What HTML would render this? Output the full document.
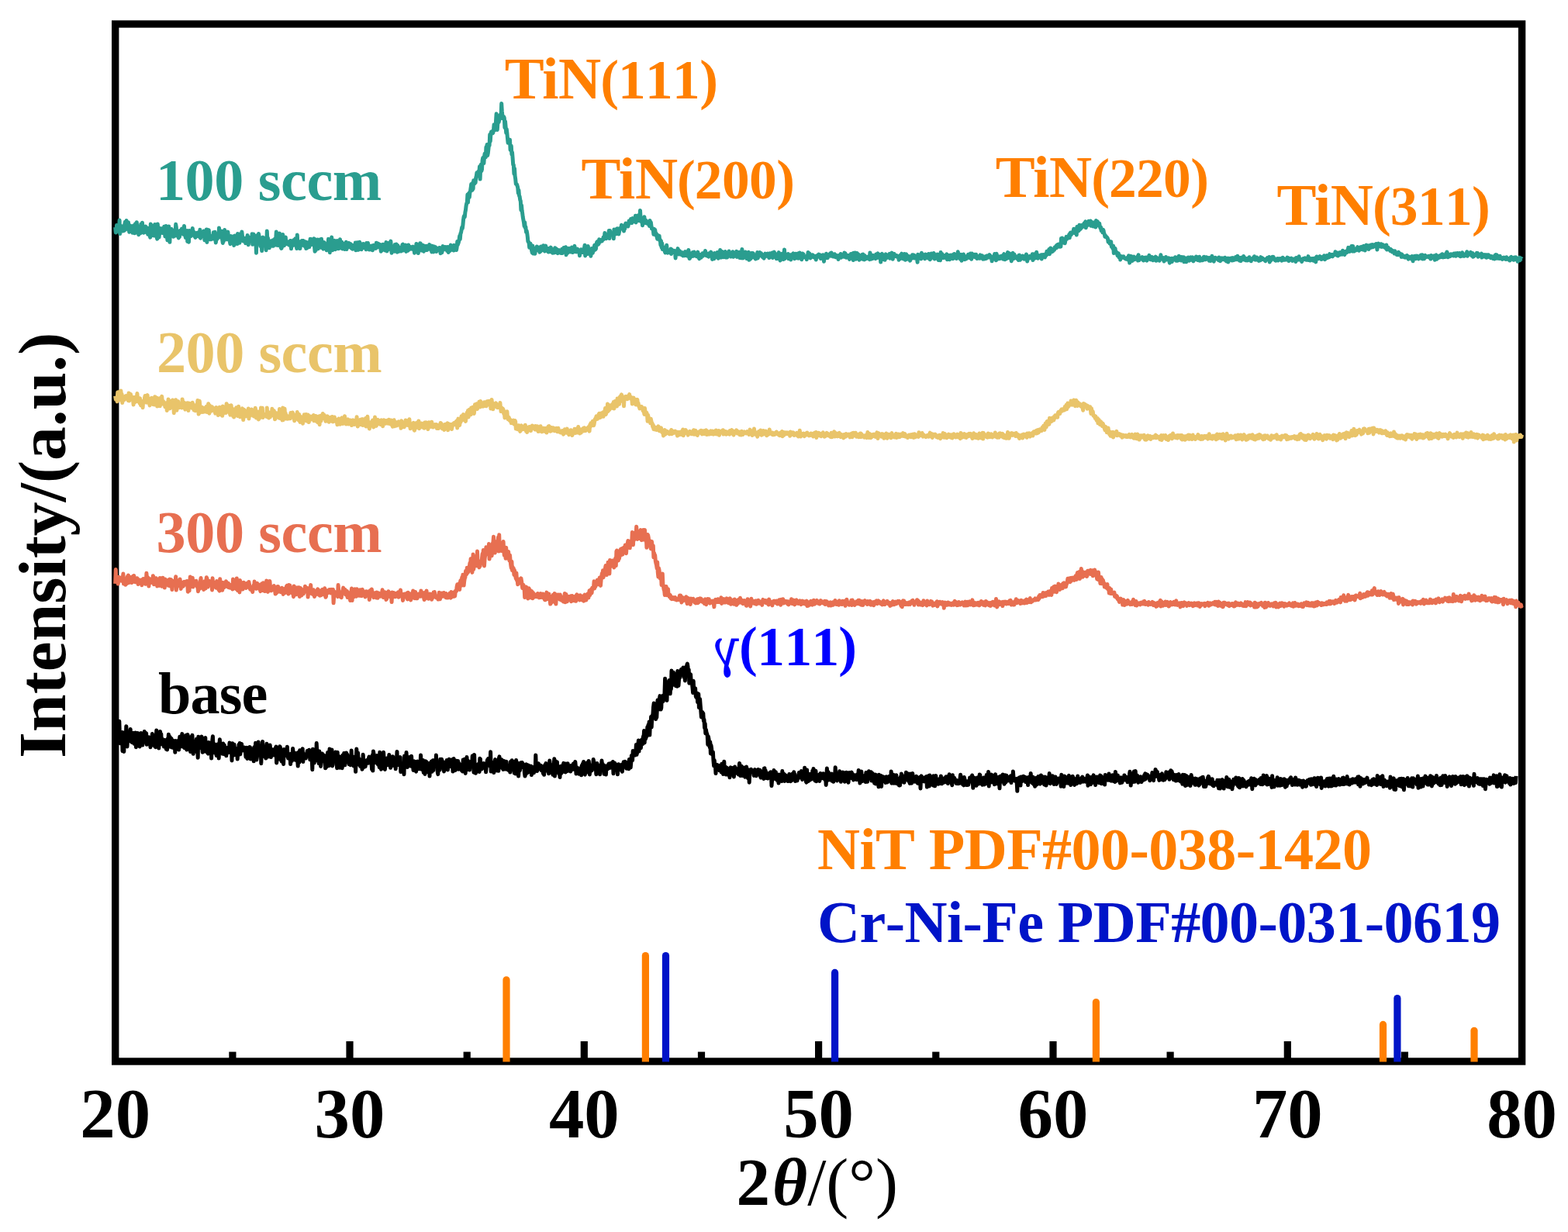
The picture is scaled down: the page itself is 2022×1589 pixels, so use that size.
<!DOCTYPE html><html><head><meta charset="utf-8"><style>html,body{margin:0;padding:0;background:#fff;overflow:hidden}svg{display:block}</style></head><body><svg width="2022" height="1589" viewBox="0 0 2022 1589">
<rect width="2022" height="1589" fill="#fff"/>
<rect x="148.7" y="31.0" width="1813.9" height="1338.0" fill="none" stroke="#000" stroke-width="9.4"/>
<line x1="299.9" y1="1369" x2="299.9" y2="1356.6" stroke="#000" stroke-width="9.2"/>
<line x1="451.0" y1="1369" x2="451.0" y2="1343.0" stroke="#000" stroke-width="9.2"/>
<line x1="602.2" y1="1369" x2="602.2" y2="1356.6" stroke="#000" stroke-width="9.2"/>
<line x1="753.3" y1="1369" x2="753.3" y2="1343.0" stroke="#000" stroke-width="9.2"/>
<line x1="904.5" y1="1369" x2="904.5" y2="1356.6" stroke="#000" stroke-width="9.2"/>
<line x1="1055.6" y1="1369" x2="1055.6" y2="1343.0" stroke="#000" stroke-width="9.2"/>
<line x1="1206.8" y1="1369" x2="1206.8" y2="1356.6" stroke="#000" stroke-width="9.2"/>
<line x1="1358.0" y1="1369" x2="1358.0" y2="1343.0" stroke="#000" stroke-width="9.2"/>
<line x1="1509.1" y1="1369" x2="1509.1" y2="1356.6" stroke="#000" stroke-width="9.2"/>
<line x1="1660.3" y1="1369" x2="1660.3" y2="1343.0" stroke="#000" stroke-width="9.2"/>
<line x1="1811.4" y1="1369" x2="1811.4" y2="1356.6" stroke="#000" stroke-width="9.2"/>
<path d="M148.7 293.1L149.3 299.9L149.9 299.3L150.5 290.5L151.1 291.7L151.7 290.6L152.3 296.2L152.9 293.1L153.5 297.2L154.1 284.1L154.7 301.5L155.3 293.1L155.9 297.1L156.5 293.0L157.1 291.8L157.7 296.1L158.3 298.0L158.9 292.9L159.5 293.2L160.1 297.5L160.7 289.7L161.3 286.4L161.9 296.2L162.5 290.8L163.1 284.5L163.7 290.2L164.3 292.0L164.9 288.4L165.5 286.9L166.1 294.7L166.7 299.2L167.3 293.5L167.9 290.9L168.5 296.7L169.1 298.5L169.7 293.4L170.3 297.7L170.9 300.3L171.5 294.0L172.1 291.0L172.7 296.9L173.3 296.5L173.9 300.8L174.5 288.8L175.1 292.0L175.7 291.2L176.3 286.7L176.9 296.2L177.5 298.3L178.1 291.9L178.7 302.7L179.3 299.9L179.9 299.0L180.5 297.9L181.1 300.8L181.7 289.2L182.3 299.1L182.9 299.1L183.5 287.2L184.1 297.9L184.7 295.0L185.3 300.3L185.9 294.1L186.5 296.3L187.1 298.2L187.7 292.1L188.3 299.6L188.9 296.1L189.5 299.2L190.1 294.1L190.7 302.3L191.3 299.9L191.9 296.0L192.5 300.1L193.1 303.4L193.7 306.1L194.3 289.1L194.9 301.6L195.5 299.6L196.1 296.8L196.7 292.2L197.3 303.7L197.9 291.0L198.5 300.4L199.1 304.1L199.7 289.5L200.3 296.1L200.9 291.1L201.5 299.0L202.1 305.5L202.7 308.1L203.3 288.9L203.9 295.1L204.5 301.6L205.1 306.1L205.7 300.3L206.3 294.4L206.9 299.7L207.5 298.2L208.1 297.3L208.7 294.7L209.3 300.4L209.9 300.1L210.5 298.1L211.1 297.5L211.7 292.2L212.3 296.3L212.9 304.9L213.5 297.9L214.1 291.6L214.7 305.7L215.3 301.7L215.9 309.7L216.5 299.4L217.1 296.8L217.7 291.9L218.3 305.9L218.9 312.3L219.5 295.2L220.1 296.2L220.7 302.5L221.3 295.4L221.9 298.2L222.5 297.9L223.1 300.7L223.7 305.3L224.3 299.9L224.9 304.5L225.5 297.8L226.1 301.6L226.7 289.3L227.3 292.8L227.9 304.1L228.5 297.2L229.1 303.1L229.7 303.0L230.3 307.0L230.9 304.5L231.5 305.5L232.1 299.9L232.7 297.1L233.3 297.0L233.9 298.2L234.5 295.1L235.1 298.0L235.7 300.4L236.3 302.1L236.9 299.2L237.5 291.4L238.1 300.7L238.7 302.2L239.3 306.5L239.9 304.1L240.5 298.1L241.1 297.7L241.7 311.4L242.3 305.2L242.9 310.6L243.5 312.1L244.1 297.5L244.7 303.5L245.3 304.0L245.9 304.5L246.5 304.5L247.1 302.8L247.7 302.8L248.3 294.5L248.9 301.2L249.5 298.4L250.1 302.7L250.7 299.9L251.3 305.3L251.9 306.3L252.5 303.9L253.1 303.9L253.7 302.9L254.3 300.3L254.9 301.7L255.5 300.2L256.1 304.6L256.7 302.8L257.3 305.6L257.9 296.3L258.5 307.2L259.1 299.2L259.7 299.4L260.3 302.1L260.9 300.3L261.5 304.6L262.1 300.4L262.7 298.0L263.3 299.2L263.9 309.8L264.5 303.6L265.1 297.7L265.7 303.6L266.3 296.0L266.9 312.4L267.5 296.2L268.1 306.1L268.7 306.4L269.3 296.8L269.9 305.4L270.5 308.8L271.1 306.3L271.7 305.3L272.3 308.7L272.9 305.0L273.5 305.9L274.1 303.7L274.7 307.4L275.3 299.8L275.9 308.3L276.5 302.1L277.1 299.3L277.7 306.4L278.3 312.9L278.9 309.4L279.5 302.3L280.1 308.2L280.7 302.7L281.3 304.4L281.9 305.5L282.5 293.9L283.1 306.1L283.7 300.2L284.3 301.9L284.9 298.2L285.5 298.1L286.1 300.9L286.7 309.5L287.3 313.5L287.9 305.5L288.5 310.9L289.1 304.4L289.7 296.6L290.3 306.5L290.9 308.0L291.5 303.9L292.1 307.4L292.7 308.8L293.3 302.0L293.9 299.1L294.5 305.2L295.1 305.3L295.7 304.7L296.3 311.1L296.9 314.7L297.5 304.5L298.1 309.9L298.7 311.1L299.3 310.1L299.9 311.7L300.5 305.0L301.1 310.4L301.7 316.5L302.3 310.8L302.9 304.1L303.5 310.0L304.1 313.1L304.7 308.9L305.3 304.6L305.9 314.6L306.5 301.5L307.1 309.8L307.7 307.4L308.3 301.9L308.9 313.3L309.5 309.3L310.1 302.2L310.7 310.6L311.3 305.8L311.9 298.9L312.5 304.7L313.1 309.2L313.7 311.0L314.3 308.9L314.9 308.4L315.5 310.4L316.1 307.3L316.7 313.8L317.3 309.1L317.9 309.8L318.5 311.0L319.1 303.6L319.7 305.3L320.3 315.8L320.9 310.3L321.5 307.5L322.1 310.4L322.7 306.6L323.3 310.2L323.9 305.9L324.5 310.3L325.1 301.8L325.7 315.3L326.3 306.8L326.9 301.9L327.5 308.3L328.1 307.7L328.7 310.1L329.3 304.2L329.9 311.4L330.5 326.3L331.1 303.7L331.7 311.2L332.3 308.3L332.9 310.7L333.5 301.5L334.1 304.6L334.7 312.1L335.3 309.8L335.9 317.6L336.5 306.9L337.1 311.0L337.7 323.6L338.3 306.7L338.9 306.2L339.5 310.2L340.1 310.2L340.7 314.3L341.3 311.1L341.9 307.1L342.5 311.6L343.1 322.7L343.7 316.5L344.3 298.1L344.9 310.2L345.5 306.9L346.1 313.7L346.7 310.2L347.3 319.8L347.9 315.3L348.5 315.2L349.1 312.0L349.7 311.0L350.3 312.8L350.9 317.2L351.5 313.8L352.1 309.8L352.7 317.2L353.3 312.3L353.9 311.2L354.5 308.0L355.1 309.1L355.7 308.8L356.3 299.1L356.9 316.3L357.5 314.4L358.1 310.9L358.7 316.6L359.3 313.9L359.9 313.6L360.5 300.9L361.1 311.0L361.7 314.5L362.3 319.4L362.9 320.4L363.5 318.6L364.1 307.1L364.7 302.5L365.3 314.9L365.9 312.5L366.5 316.7L367.1 311.9L367.7 313.5L368.3 305.9L368.9 314.6L369.5 310.6L370.1 314.2L370.7 314.8L371.3 312.2L371.9 314.2L372.5 312.8L373.1 316.2L373.7 315.1L374.3 310.5L374.9 310.4L375.5 320.8L376.1 312.6L376.7 317.5L377.3 314.9L377.9 310.7L378.5 309.9L379.1 313.8L379.7 314.4L380.3 316.1L380.9 307.8L381.5 310.8L382.1 313.0L382.7 320.6L383.3 303.1L383.9 315.5L384.5 311.2L385.1 315.5L385.7 311.5L386.3 315.3L386.9 320.6L387.5 315.4L388.1 315.7L388.7 315.5L389.3 310.6L389.9 316.3L390.5 313.1L391.1 310.5L391.7 313.9L392.3 313.1L392.9 317.4L393.5 314.0L394.1 311.9L394.7 320.6L395.3 318.6L395.9 319.9L396.5 317.0L397.1 313.9L397.7 312.6L398.3 313.3L398.9 318.6L399.5 315.0L400.1 308.2L400.7 314.5L401.3 308.5L401.9 315.4L402.5 309.5L403.1 309.3L403.7 315.3L404.3 314.5L404.9 307.8L405.5 318.1L406.1 324.2L406.7 308.7L407.3 322.7L407.9 312.1L408.5 313.0L409.1 314.4L409.7 309.1L410.3 320.7L410.9 317.3L411.5 312.1L412.1 314.1L412.7 309.0L413.3 313.9L413.9 319.3L414.5 308.3L415.1 313.7L415.7 316.1L416.3 319.9L416.9 321.1L417.5 313.7L418.1 312.6L418.7 317.5L419.3 314.2L419.9 314.5L420.5 320.2L421.1 322.7L421.7 316.9L422.3 315.1L422.9 318.2L423.5 308.3L424.1 315.9L424.7 311.7L425.3 325.7L425.9 319.0L426.5 316.7L427.1 315.3L427.7 306.1L428.3 319.0L428.9 322.7L429.5 313.4L430.1 319.0L430.7 319.2L431.3 310.2L431.9 320.1L432.5 321.7L433.1 317.3L433.7 316.2L434.3 319.6L434.9 310.5L435.5 316.9L436.1 320.7L436.7 311.8L437.3 320.5L437.9 315.1L438.5 308.7L439.1 316.3L439.7 313.0L440.3 318.0L440.9 312.3L441.5 320.9L442.1 314.0L442.7 318.3L443.3 314.7L443.9 315.7L444.5 321.5L445.1 317.8L445.7 315.5L446.3 312.3L446.9 321.5L447.5 319.9L448.1 315.9L448.7 318.1L449.3 313.4L449.9 313.4L450.5 314.2L451.1 318.6L451.7 318.4L452.3 314.6L452.9 320.1L453.5 320.3L454.1 318.0L454.7 321.2L455.3 316.4L455.9 317.1L456.5 319.2L457.1 317.4L457.7 320.4L458.3 313.0L458.9 322.8L459.5 314.8L460.1 317.0L460.7 312.7L461.3 319.8L461.9 322.3L462.5 321.6L463.1 320.7L463.7 312.2L464.3 315.0L464.9 316.2L465.5 314.5L466.1 321.8L466.7 318.5L467.3 317.8L467.9 319.6L468.5 314.6L469.1 314.8L469.7 314.9L470.3 319.7L470.9 319.2L471.5 320.1L472.1 321.8L472.7 313.4L473.3 316.2L473.9 318.6L474.5 313.5L475.1 316.4L475.7 321.7L476.3 322.0L476.9 321.9L477.5 318.4L478.1 317.6L478.7 321.9L479.3 317.1L479.9 319.5L480.5 322.8L481.1 317.1L481.7 316.4L482.3 318.4L482.9 320.4L483.5 320.1L484.1 319.0L484.7 320.3L485.3 313.2L485.9 315.7L486.5 319.1L487.1 315.5L487.7 314.2L488.3 314.7L488.9 315.7L489.5 318.1L490.1 315.4L490.7 319.5L491.3 324.2L491.9 318.3L492.5 322.9L493.1 319.7L493.7 315.2L494.3 318.0L494.9 315.7L495.5 321.3L496.1 315.2L496.7 323.1L497.3 320.8L497.9 312.6L498.5 321.4L499.1 323.9L499.7 316.5L500.3 322.1L500.9 313.5L501.5 319.9L502.1 314.0L502.7 320.6L503.3 313.6L503.9 311.1L504.5 320.4L505.1 326.2L505.7 317.4L506.3 321.8L506.9 319.6L507.5 318.3L508.1 321.1L508.7 324.3L509.3 315.6L509.9 321.0L510.5 320.4L511.1 315.1L511.7 324.2L512.3 325.2L512.9 316.6L513.5 324.6L514.1 319.6L514.7 319.0L515.3 323.9L515.9 320.2L516.5 320.5L517.1 324.0L517.7 323.3L518.3 322.2L518.9 315.6L519.5 315.1L520.1 322.9L520.7 317.0L521.3 320.1L521.9 316.6L522.5 319.2L523.1 316.1L523.7 324.4L524.3 316.9L524.9 319.4L525.5 319.3L526.1 323.2L526.7 315.9L527.3 319.8L527.9 319.3L528.5 321.4L529.1 321.2L529.7 318.6L530.3 320.6L530.9 318.9L531.5 321.2L532.1 319.7L532.7 318.2L533.3 319.9L533.9 321.0L534.5 326.2L535.1 318.7L535.7 320.9L536.3 324.0L536.9 314.5L537.5 315.4L538.1 316.9L538.7 319.8L539.3 326.6L539.9 321.2L540.5 323.3L541.1 319.6L541.7 313.7L542.3 314.1L542.9 322.9L543.5 320.7L544.1 316.8L544.7 323.2L545.3 316.2L545.9 323.2L546.5 324.1L547.1 318.3L547.7 317.4L548.3 322.5L548.9 317.4L549.5 322.6L550.1 317.2L550.7 322.5L551.3 320.6L551.9 319.2L552.5 318.0L553.1 321.0L553.7 315.4L554.3 319.7L554.9 319.4L555.5 322.2L556.1 317.1L556.7 324.9L557.3 319.6L557.9 317.4L558.5 324.1L559.1 324.8L559.7 320.0L560.3 318.1L560.9 320.5L561.5 318.7L562.1 319.6L562.7 324.5L563.3 321.5L563.9 320.9L564.5 321.4L565.1 320.3L565.7 322.7L566.3 322.8L566.9 319.5L567.5 320.8L568.1 326.8L568.7 321.6L569.3 320.0L569.9 325.8L570.5 320.5L571.1 317.6L571.7 322.3L572.3 318.2L572.9 319.2L573.5 321.3L574.1 320.1L574.7 318.5L575.3 319.0L575.9 318.8L576.5 323.4L577.1 318.4L577.7 318.8L578.3 325.5L578.9 318.7L579.5 324.0L580.1 323.4L580.7 319.5L581.3 316.1L581.9 320.9L582.5 321.4L583.1 322.1L583.7 319.6L584.3 322.5L584.9 322.9L585.5 316.3L586.1 322.7L586.7 319.2L587.3 317.0L587.9 317.2L588.5 322.5L589.1 319.6L589.7 311.6L590.3 315.8L590.9 313.9L591.5 312.1L592.1 309.2L592.7 304.3L593.3 308.6L593.9 301.1L594.5 300.2L595.1 296.7L595.7 293.3L596.3 294.7L596.9 290.4L597.5 283.8L598.1 279.7L598.7 278.2L599.3 279.8L599.9 273.7L600.5 270.8L601.1 265.5L601.7 262.5L602.3 261.1L602.9 251.0L603.5 261.0L604.1 250.3L604.7 249.2L605.3 254.5L605.9 248.7L606.5 246.5L607.1 242.7L607.7 237.6L608.3 242.8L608.9 245.4L609.5 236.1L610.1 243.5L610.7 232.8L611.3 233.1L611.9 236.9L612.5 233.9L613.1 235.7L613.7 229.2L614.3 227.1L614.9 222.8L615.5 224.4L616.1 223.8L616.7 221.3L617.3 226.9L617.9 221.6L618.5 214.7L619.1 231.1L619.7 215.8L620.3 212.2L620.9 220.6L621.5 218.4L622.1 206.9L622.7 203.6L623.3 203.6L623.9 210.5L624.5 202.3L625.1 198.2L625.7 199.5L626.3 202.9L626.9 189.8L627.5 192.4L628.1 186.4L628.7 200.4L629.3 197.4L629.9 192.1L630.5 185.7L631.1 187.6L631.7 173.5L632.3 182.2L632.9 172.6L633.5 170.1L634.1 170.3L634.7 169.6L635.3 171.9L635.9 171.0L636.5 167.6L637.1 160.8L637.7 167.3L638.3 162.5L638.9 167.6L639.5 156.6L640.1 146.8L640.7 156.3L641.3 167.4L641.9 158.2L642.5 153.8L643.1 157.7L643.7 154.9L644.3 153.8L644.9 148.3L645.5 150.3L646.1 150.3L646.7 133.5L647.3 143.2L647.9 149.0L648.5 152.8L649.1 151.1L649.7 150.6L650.3 152.1L650.9 164.6L651.5 156.5L652.1 163.2L652.7 171.2L653.3 166.6L653.9 171.8L654.5 178.6L655.1 184.2L655.7 180.3L656.3 182.7L656.9 183.6L657.5 180.3L658.1 193.4L658.7 190.8L659.3 188.3L659.9 199.1L660.5 196.5L661.1 203.8L661.7 212.4L662.3 212.7L662.9 224.2L663.5 217.2L664.1 227.0L664.7 230.9L665.3 237.2L665.9 237.8L666.5 237.8L667.1 239.8L667.7 241.9L668.3 249.0L668.9 245.1L669.5 252.4L670.1 253.3L670.7 257.7L671.3 259.2L671.9 270.9L672.5 264.7L673.1 271.5L673.7 275.4L674.3 280.3L674.9 283.5L675.5 286.8L676.1 291.6L676.7 286.7L677.3 293.9L677.9 292.7L678.5 299.4L679.1 297.6L679.7 300.5L680.3 305.3L680.9 311.6L681.5 311.7L682.1 313.6L682.7 319.3L683.3 315.4L683.9 314.1L684.5 319.0L685.1 319.5L685.7 323.5L686.3 325.9L686.9 317.1L687.5 327.0L688.1 324.8L688.7 323.0L689.3 321.9L689.9 327.3L690.5 321.4L691.1 320.0L691.7 321.7L692.3 317.9L692.9 322.7L693.5 321.3L694.1 322.5L694.7 322.6L695.3 319.1L695.9 325.2L696.5 319.3L697.1 324.2L697.7 318.0L698.3 323.0L698.9 320.0L699.5 322.3L700.1 320.5L700.7 316.7L701.3 319.5L701.9 322.5L702.5 323.9L703.1 318.7L703.7 317.1L704.3 320.3L704.9 321.9L705.5 320.9L706.1 320.5L706.7 324.7L707.3 325.0L707.9 324.5L708.5 320.3L709.1 322.8L709.7 322.2L710.3 319.1L710.9 324.9L711.5 322.9L712.1 321.5L712.7 326.3L713.3 324.7L713.9 324.9L714.5 325.8L715.1 324.6L715.7 319.7L716.3 321.9L716.9 325.4L717.5 321.0L718.1 323.0L718.7 324.0L719.3 326.6L719.9 326.3L720.5 325.3L721.1 322.6L721.7 325.4L722.3 324.4L722.9 322.8L723.5 326.6L724.1 324.4L724.7 321.4L725.3 326.4L725.9 322.7L726.5 324.8L727.1 319.6L727.7 323.3L728.3 321.1L728.9 321.0L729.5 318.7L730.1 328.8L730.7 323.1L731.3 324.1L731.9 326.3L732.5 323.3L733.1 324.9L733.7 320.3L734.3 324.1L734.9 322.7L735.5 324.9L736.1 324.2L736.7 320.3L737.3 319.2L737.9 321.3L738.5 325.6L739.1 324.9L739.7 324.9L740.3 318.9L740.9 317.3L741.5 322.4L742.1 323.1L742.7 322.5L743.3 324.9L743.9 323.6L744.5 321.1L745.1 321.9L745.7 324.4L746.3 324.3L746.9 323.9L747.5 329.7L748.1 323.5L748.7 324.4L749.3 321.7L749.9 323.3L750.5 325.5L751.1 325.6L751.7 323.8L752.3 325.2L752.9 324.4L753.5 319.6L754.1 316.2L754.7 329.9L755.3 326.3L755.9 324.1L756.5 320.0L757.1 321.1L757.7 327.6L758.3 317.4L758.9 323.5L759.5 326.4L760.1 324.6L760.7 326.2L761.3 324.0L761.9 330.2L762.5 321.6L763.1 320.5L763.7 324.0L764.3 326.3L764.9 321.9L765.5 323.8L766.1 319.0L766.7 316.4L767.3 322.1L767.9 321.7L768.5 320.8L769.1 314.8L769.7 312.3L770.3 311.6L770.9 313.6L771.5 315.1L772.1 314.4L772.7 308.7L773.3 312.5L773.9 311.5L774.5 311.1L775.1 310.3L775.7 309.3L776.3 311.0L776.9 309.2L777.5 309.0L778.1 306.0L778.7 308.5L779.3 306.6L779.9 300.6L780.5 307.4L781.1 304.8L781.7 307.8L782.3 304.3L782.9 304.0L783.5 304.5L784.1 303.4L784.7 301.8L785.3 297.5L785.9 307.6L786.5 297.4L787.1 300.6L787.7 303.1L788.3 301.9L788.9 302.1L789.5 302.4L790.1 303.5L790.7 300.4L791.3 307.8L791.9 295.9L792.5 299.3L793.1 297.3L793.7 296.4L794.3 298.6L794.9 301.8L795.5 295.1L796.1 294.8L796.7 298.8L797.3 298.0L797.9 302.0L798.5 298.9L799.1 296.2L799.7 294.3L800.3 295.6L800.9 294.1L801.5 290.2L802.1 294.1L802.7 293.2L803.3 292.8L803.9 291.8L804.5 298.0L805.1 294.6L805.7 295.0L806.3 289.8L806.9 288.1L807.5 290.0L808.1 291.2L808.7 288.9L809.3 288.9L809.9 292.0L810.5 289.5L811.1 285.0L811.7 286.3L812.3 285.1L812.9 287.3L813.5 282.5L814.1 285.2L814.7 287.6L815.3 285.0L815.9 281.6L816.5 282.1L817.1 284.2L817.7 285.0L818.3 285.8L818.9 282.3L819.5 278.2L820.1 286.9L820.7 283.0L821.3 283.1L821.9 282.6L822.5 278.1L823.1 280.4L823.7 282.2L824.3 284.8L824.9 281.7L825.5 271.4L826.1 280.9L826.7 283.0L827.3 286.3L827.9 284.7L828.5 290.8L829.1 287.6L829.7 287.7L830.3 286.8L830.9 279.7L831.5 287.4L832.1 287.0L832.7 283.9L833.3 287.9L833.9 287.9L834.5 285.6L835.1 287.2L835.7 287.3L836.3 289.4L836.9 287.9L837.5 291.5L838.1 284.4L838.7 290.2L839.3 286.6L839.9 291.1L840.5 295.1L841.1 294.5L841.7 295.1L842.3 296.7L842.9 302.3L843.5 295.3L844.1 302.4L844.7 296.3L845.3 300.5L845.9 303.4L846.5 301.5L847.1 305.6L847.7 308.2L848.3 303.5L848.9 307.7L849.5 307.6L850.1 304.1L850.7 310.0L851.3 309.2L851.9 316.1L852.5 310.8L853.1 319.0L853.7 313.7L854.3 321.5L854.9 318.5L855.5 319.2L856.1 321.0L856.7 322.1L857.3 324.3L857.9 325.9L858.5 321.1L859.1 319.3L859.7 316.2L860.3 322.7L860.9 326.2L861.5 325.5L862.1 325.1L862.7 324.1L863.3 323.5L863.9 324.5L864.5 326.4L865.1 320.9L865.7 327.5L866.3 322.0L866.9 325.4L867.5 324.3L868.1 325.1L868.7 323.5L869.3 323.3L869.9 325.8L870.5 323.6L871.1 332.9L871.7 325.5L872.3 325.0L872.9 325.4L873.5 324.1L874.1 320.6L874.7 326.4L875.3 327.9L875.9 323.3L876.5 327.2L877.1 324.2L877.7 327.3L878.3 328.3L878.9 328.7L879.5 328.7L880.1 325.8L880.7 329.9L881.3 326.6L881.9 328.7L882.5 329.6L883.1 327.1L883.7 324.6L884.3 329.5L884.9 325.1L885.5 325.7L886.1 325.2L886.7 330.2L887.3 327.7L887.9 322.4L888.5 330.1L889.1 333.5L889.7 332.8L890.3 326.8L890.9 328.5L891.5 329.6L892.1 330.6L892.7 328.5L893.3 325.6L893.9 330.3L894.5 330.0L895.1 325.0L895.7 327.5L896.3 329.2L896.9 328.5L897.5 329.8L898.1 330.5L898.7 329.9L899.3 328.2L899.9 325.1L900.5 330.1L901.1 332.2L901.7 333.6L902.3 328.5L902.9 328.5L903.5 332.3L904.1 332.3L904.7 329.5L905.3 330.5L905.9 326.7L906.5 330.2L907.1 326.6L907.7 328.4L908.3 328.4L908.9 327.6L909.5 323.4L910.1 326.7L910.7 329.6L911.3 328.6L911.9 327.8L912.5 329.9L913.1 330.6L913.7 331.0L914.3 326.8L914.9 328.9L915.5 328.0L916.1 326.6L916.7 325.1L917.3 328.7L917.9 326.7L918.5 334.4L919.1 328.7L919.7 328.4L920.3 327.9L920.9 333.8L921.5 326.6L922.1 328.6L922.7 327.0L923.3 328.7L923.9 328.9L924.5 331.8L925.1 325.4L925.7 329.0L926.3 333.2L926.9 327.8L927.5 328.6L928.1 326.8L928.7 322.4L929.3 328.8L929.9 332.1L930.5 327.9L931.1 324.4L931.7 329.8L932.3 329.4L932.9 331.7L933.5 331.5L934.1 328.5L934.7 330.2L935.3 324.6L935.9 332.1L936.5 329.7L937.1 332.0L937.7 332.0L938.3 328.5L938.9 328.9L939.5 327.0L940.1 324.0L940.7 328.9L941.3 329.7L941.9 326.5L942.5 331.1L943.1 329.6L943.7 330.5L944.3 327.4L944.9 324.8L945.5 331.3L946.1 330.9L946.7 329.1L947.3 328.3L947.9 328.7L948.5 329.0L949.1 328.1L949.7 324.2L950.3 331.4L950.9 325.6L951.5 328.6L952.1 328.6L952.7 330.1L953.3 325.3L953.9 332.5L954.5 331.1L955.1 331.4L955.7 332.7L956.3 327.4L956.9 321.4L957.5 330.4L958.1 332.9L958.7 332.5L959.3 328.1L959.9 329.3L960.5 330.3L961.1 324.9L961.7 327.8L962.3 327.9L962.9 333.6L963.5 327.9L964.1 333.6L964.7 329.6L965.3 325.3L965.9 335.3L966.5 327.1L967.1 331.2L967.7 334.0L968.3 328.3L968.9 326.5L969.5 332.3L970.1 329.8L970.7 326.5L971.3 326.9L971.9 328.7L972.5 332.2L973.1 328.9L973.7 331.4L974.3 334.0L974.9 333.0L975.5 333.4L976.1 332.9L976.7 325.6L977.3 332.9L977.9 330.6L978.5 329.4L979.1 326.9L979.7 325.6L980.3 326.9L980.9 329.7L981.5 326.7L982.1 327.6L982.7 328.2L983.3 331.5L983.9 329.0L984.5 329.4L985.1 333.2L985.7 329.0L986.3 331.3L986.9 327.1L987.5 330.6L988.1 330.1L988.7 330.3L989.3 328.6L989.9 327.1L990.5 329.0L991.1 328.6L991.7 332.5L992.3 332.2L992.9 326.7L993.5 331.5L994.1 328.6L994.7 331.0L995.3 328.6L995.9 326.0L996.5 332.5L997.1 331.0L997.7 326.7L998.3 325.0L998.9 328.5L999.5 326.8L1000.1 328.9L1000.7 331.5L1001.3 333.7L1001.9 329.0L1002.5 333.5L1003.1 332.9L1003.7 328.8L1004.3 325.6L1004.9 332.1L1005.5 331.5L1006.1 336.0L1006.7 333.6L1007.3 332.0L1007.9 334.3L1008.5 327.2L1009.1 330.5L1009.7 329.2L1010.3 334.5L1010.9 331.4L1011.5 322.0L1012.1 333.5L1012.7 327.6L1013.3 332.0L1013.9 328.8L1014.5 330.6L1015.1 331.7L1015.7 330.5L1016.3 327.5L1016.9 333.7L1017.5 331.1L1018.1 330.0L1018.7 331.9L1019.3 328.7L1019.9 335.0L1020.5 330.6L1021.1 331.0L1021.7 331.0L1022.3 327.7L1022.9 327.0L1023.5 330.7L1024.1 331.0L1024.7 333.6L1025.3 331.3L1025.9 327.3L1026.5 331.5L1027.1 332.3L1027.7 332.7L1028.3 331.0L1028.9 326.9L1029.5 333.2L1030.1 328.2L1030.7 331.6L1031.3 326.0L1031.9 332.1L1032.5 328.1L1033.1 333.0L1033.7 334.8L1034.3 333.2L1034.9 327.1L1035.5 327.7L1036.1 327.9L1036.7 331.9L1037.3 331.1L1037.9 330.6L1038.5 331.0L1039.1 331.7L1039.7 331.9L1040.3 334.6L1040.9 330.1L1041.5 330.7L1042.1 325.4L1042.7 326.7L1043.3 328.4L1043.9 327.1L1044.5 330.8L1045.1 332.9L1045.7 329.1L1046.3 329.0L1046.9 328.9L1047.5 330.6L1048.1 328.8L1048.7 331.4L1049.3 331.0L1049.9 331.1L1050.5 332.3L1051.1 330.3L1051.7 330.6L1052.3 334.9L1052.9 330.1L1053.5 332.4L1054.1 330.4L1054.7 329.1L1055.3 329.1L1055.9 328.1L1056.5 330.3L1057.1 328.7L1057.7 329.2L1058.3 333.5L1058.9 330.0L1059.5 333.3L1060.1 331.0L1060.7 332.6L1061.3 328.7L1061.9 330.7L1062.5 337.2L1063.1 332.5L1063.7 332.9L1064.3 331.0L1064.9 332.6L1065.5 327.3L1066.1 328.2L1066.7 331.5L1067.3 332.5L1067.9 329.3L1068.5 329.9L1069.1 329.5L1069.7 329.9L1070.3 327.3L1070.9 326.7L1071.5 330.2L1072.1 325.9L1072.7 327.9L1073.3 328.7L1073.9 327.7L1074.5 331.0L1075.1 329.3L1075.7 330.2L1076.3 327.8L1076.9 328.5L1077.5 331.8L1078.1 331.4L1078.7 329.3L1079.3 331.4L1079.9 330.9L1080.5 330.9L1081.1 334.5L1081.7 329.4L1082.3 331.5L1082.9 331.5L1083.5 329.9L1084.1 327.5L1084.7 332.2L1085.3 331.2L1085.9 330.6L1086.5 330.6L1087.1 330.6L1087.7 328.2L1088.3 331.2L1088.9 325.9L1089.5 330.4L1090.1 326.7L1090.7 329.6L1091.3 332.3L1091.9 329.9L1092.5 329.3L1093.1 331.8L1093.7 329.8L1094.3 329.5L1094.9 329.5L1095.5 334.4L1096.1 332.2L1096.7 331.8L1097.3 327.6L1097.9 332.1L1098.5 327.3L1099.1 331.8L1099.7 327.8L1100.3 335.5L1100.9 326.3L1101.5 333.7L1102.1 332.6L1102.7 326.1L1103.3 330.0L1103.9 334.2L1104.5 333.5L1105.1 326.5L1105.7 329.3L1106.3 327.7L1106.9 328.1L1107.5 329.0L1108.1 335.2L1108.7 331.0L1109.3 330.1L1109.9 329.8L1110.5 332.3L1111.1 332.4L1111.7 328.4L1112.3 334.3L1112.9 328.0L1113.5 330.0L1114.1 331.8L1114.7 334.9L1115.3 329.8L1115.9 331.4L1116.5 333.9L1117.1 332.3L1117.7 333.5L1118.3 333.3L1118.9 331.4L1119.5 332.3L1120.1 333.0L1120.7 330.7L1121.3 334.7L1121.9 325.9L1122.5 328.5L1123.1 334.3L1123.7 331.8L1124.3 329.2L1124.9 331.7L1125.5 333.5L1126.1 329.4L1126.7 332.7L1127.3 330.5L1127.9 330.5L1128.5 330.7L1129.1 333.6L1129.7 328.1L1130.3 329.9L1130.9 332.5L1131.5 327.9L1132.1 327.0L1132.7 332.2L1133.3 330.9L1133.9 330.5L1134.5 331.2L1135.1 328.5L1135.7 338.0L1136.3 328.5L1136.9 329.8L1137.5 327.4L1138.1 329.9L1138.7 334.6L1139.3 331.0L1139.9 332.4L1140.5 329.7L1141.1 335.3L1141.7 331.3L1142.3 327.9L1142.9 332.8L1143.5 330.0L1144.1 332.4L1144.7 331.3L1145.3 331.6L1145.9 331.3L1146.5 328.8L1147.1 327.3L1147.7 333.3L1148.3 330.6L1148.9 331.7L1149.5 329.9L1150.1 326.1L1150.7 327.9L1151.3 334.3L1151.9 329.1L1152.5 330.1L1153.1 327.5L1153.7 329.7L1154.3 330.1L1154.9 330.5L1155.5 330.8L1156.1 329.5L1156.7 329.6L1157.3 331.0L1157.9 331.8L1158.5 330.7L1159.1 335.2L1159.7 331.5L1160.3 331.4L1160.9 329.4L1161.5 333.5L1162.1 328.6L1162.7 327.2L1163.3 328.7L1163.9 332.5L1164.5 328.3L1165.1 334.1L1165.7 331.0L1166.3 327.4L1166.9 330.5L1167.5 335.3L1168.1 329.0L1168.7 327.9L1169.3 332.2L1169.9 334.1L1170.5 333.4L1171.1 330.3L1171.7 331.5L1172.3 331.8L1172.9 333.8L1173.5 336.1L1174.1 330.8L1174.7 334.1L1175.3 330.2L1175.9 332.4L1176.5 328.8L1177.1 329.2L1177.7 332.0L1178.3 328.9L1178.9 333.1L1179.5 329.7L1180.1 331.2L1180.7 330.8L1181.3 330.3L1181.9 331.3L1182.5 333.6L1183.1 338.3L1183.7 328.3L1184.3 331.7L1184.9 330.6L1185.5 328.9L1186.1 331.7L1186.7 329.0L1187.3 330.9L1187.9 333.9L1188.5 326.3L1189.1 331.6L1189.7 332.1L1190.3 328.8L1190.9 332.3L1191.5 331.9L1192.1 330.2L1192.7 333.8L1193.3 328.0L1193.9 332.5L1194.5 330.5L1195.1 328.6L1195.7 330.6L1196.3 330.2L1196.9 332.9L1197.5 327.6L1198.1 330.6L1198.7 330.0L1199.3 334.7L1199.9 328.5L1200.5 333.5L1201.1 327.0L1201.7 331.8L1202.3 330.7L1202.9 331.9L1203.5 329.4L1204.1 326.5L1204.7 327.5L1205.3 334.0L1205.9 331.5L1206.5 329.0L1207.1 333.1L1207.7 329.3L1208.3 329.3L1208.9 328.2L1209.5 333.7L1210.1 335.5L1210.7 328.8L1211.3 331.7L1211.9 333.2L1212.5 335.8L1213.1 325.5L1213.7 331.3L1214.3 332.5L1214.9 327.6L1215.5 331.9L1216.1 331.4L1216.7 332.6L1217.3 329.7L1217.9 331.9L1218.5 329.6L1219.1 332.4L1219.7 331.3L1220.3 330.1L1220.9 327.8L1221.5 334.7L1222.1 333.5L1222.7 333.0L1223.3 329.5L1223.9 330.2L1224.5 334.8L1225.1 332.7L1225.7 329.1L1226.3 331.1L1226.9 331.3L1227.5 330.5L1228.1 328.9L1228.7 333.8L1229.3 332.3L1229.9 330.6L1230.5 327.5L1231.1 329.7L1231.7 331.0L1232.3 332.9L1232.9 330.2L1233.5 333.5L1234.1 331.3L1234.7 329.3L1235.3 324.8L1235.9 328.4L1236.5 327.7L1237.1 330.7L1237.7 331.8L1238.3 334.1L1238.9 331.0L1239.5 328.4L1240.1 336.3L1240.7 331.7L1241.3 330.4L1241.9 330.4L1242.5 328.0L1243.1 332.4L1243.7 331.9L1244.3 334.6L1244.9 333.5L1245.5 333.0L1246.1 333.8L1246.7 330.4L1247.3 330.1L1247.9 330.9L1248.5 328.3L1249.1 330.7L1249.7 330.3L1250.3 332.5L1250.9 331.0L1251.5 326.9L1252.1 331.1L1252.7 334.2L1253.3 327.0L1253.9 329.4L1254.5 331.1L1255.1 328.2L1255.7 329.9L1256.3 331.2L1256.9 328.2L1257.5 331.7L1258.1 332.0L1258.7 328.3L1259.3 331.1L1259.9 333.5L1260.5 330.7L1261.1 332.0L1261.7 332.5L1262.3 330.6L1262.9 333.2L1263.5 331.9L1264.1 328.9L1264.7 332.2L1265.3 333.0L1265.9 332.9L1266.5 329.7L1267.1 332.1L1267.7 334.1L1268.3 331.6L1268.9 333.7L1269.5 333.9L1270.1 331.1L1270.7 332.6L1271.3 330.5L1271.9 333.4L1272.5 330.9L1273.1 330.0L1273.7 331.1L1274.3 331.0L1274.9 332.0L1275.5 332.1L1276.1 328.6L1276.7 329.7L1277.3 331.9L1277.9 332.2L1278.5 331.3L1279.1 336.8L1279.7 333.6L1280.3 331.0L1280.9 332.7L1281.5 334.0L1282.1 332.0L1282.7 327.4L1283.3 331.4L1283.9 331.3L1284.5 335.7L1285.1 327.3L1285.7 334.5L1286.3 330.9L1286.9 333.2L1287.5 330.6L1288.1 331.6L1288.7 333.6L1289.3 331.4L1289.9 333.4L1290.5 331.0L1291.1 330.3L1291.7 330.7L1292.3 330.1L1292.9 331.0L1293.5 334.1L1294.1 328.7L1294.7 327.7L1295.3 331.2L1295.9 334.8L1296.5 333.4L1297.1 334.0L1297.7 333.9L1298.3 329.7L1298.9 331.5L1299.5 325.6L1300.1 330.0L1300.7 332.5L1301.3 328.0L1301.9 326.9L1302.5 328.5L1303.1 331.7L1303.7 333.7L1304.3 336.7L1304.9 334.3L1305.5 328.1L1306.1 326.4L1306.7 331.6L1307.3 333.5L1307.9 327.9L1308.5 330.2L1309.1 330.3L1309.7 331.4L1310.3 330.9L1310.9 332.4L1311.5 333.5L1312.1 331.5L1312.7 332.9L1313.3 335.5L1313.9 329.2L1314.5 329.1L1315.1 332.4L1315.7 335.2L1316.3 331.7L1316.9 333.6L1317.5 330.7L1318.1 333.2L1318.7 330.0L1319.3 332.7L1319.9 332.2L1320.5 332.2L1321.1 334.2L1321.7 333.6L1322.3 330.1L1322.9 333.2L1323.5 327.9L1324.1 333.4L1324.7 337.0L1325.3 332.5L1325.9 332.4L1326.5 331.5L1327.1 333.1L1327.7 330.5L1328.3 332.8L1328.9 330.8L1329.5 330.5L1330.1 331.6L1330.7 331.2L1331.3 327.8L1331.9 335.6L1332.5 331.6L1333.1 327.8L1333.7 333.5L1334.3 331.2L1334.9 331.7L1335.5 332.7L1336.1 329.4L1336.7 325.2L1337.3 330.9L1337.9 331.6L1338.5 333.1L1339.1 329.5L1339.7 330.4L1340.3 331.8L1340.9 330.3L1341.5 330.4L1342.1 331.3L1342.7 328.8L1343.3 333.9L1343.9 328.7L1344.5 330.5L1345.1 329.6L1345.7 328.5L1346.3 330.8L1346.9 331.4L1347.5 331.9L1348.1 329.7L1348.7 327.2L1349.3 329.4L1349.9 324.2L1350.5 326.8L1351.1 327.3L1351.7 326.9L1352.3 322.8L1352.9 321.6L1353.5 327.8L1354.1 322.8L1354.7 320.0L1355.3 320.4L1355.9 322.7L1356.5 324.8L1357.1 321.9L1357.7 324.0L1358.3 321.6L1358.9 321.7L1359.5 322.4L1360.1 319.1L1360.7 320.1L1361.3 318.3L1361.9 317.3L1362.5 319.7L1363.1 316.1L1363.7 317.6L1364.3 315.3L1364.9 316.4L1365.5 315.0L1366.1 318.2L1366.7 315.5L1367.3 315.0L1367.9 318.1L1368.5 307.5L1369.1 311.0L1369.7 306.9L1370.3 312.5L1370.9 312.9L1371.5 312.9L1372.1 311.5L1372.7 308.3L1373.3 313.7L1373.9 309.9L1374.5 308.0L1375.1 305.4L1375.7 308.4L1376.3 305.7L1376.9 305.2L1377.5 306.1L1378.1 305.5L1378.7 302.5L1379.3 306.8L1379.9 300.9L1380.5 300.1L1381.1 302.9L1381.7 301.9L1382.3 301.2L1382.9 299.6L1383.5 300.2L1384.1 298.2L1384.7 295.2L1385.3 300.4L1385.9 295.7L1386.5 297.1L1387.1 299.0L1387.7 296.8L1388.3 302.9L1388.9 292.5L1389.5 293.6L1390.1 295.2L1390.7 297.9L1391.3 293.6L1391.9 290.3L1392.5 296.2L1393.1 290.8L1393.7 292.2L1394.3 294.5L1394.9 290.4L1395.5 290.7L1396.1 292.7L1396.7 290.7L1397.3 291.6L1397.9 288.3L1398.5 290.0L1399.1 287.3L1399.7 285.9L1400.3 293.8L1400.9 290.4L1401.5 291.4L1402.1 286.6L1402.7 288.8L1403.3 288.2L1403.9 285.2L1404.5 290.1L1405.1 286.9L1405.7 288.2L1406.3 285.0L1406.9 291.2L1407.5 290.6L1408.1 289.8L1408.7 286.6L1409.3 287.6L1409.9 291.9L1410.5 288.3L1411.1 289.7L1411.7 289.4L1412.3 286.4L1412.9 292.9L1413.5 284.4L1414.1 289.9L1414.7 289.2L1415.3 285.6L1415.9 290.4L1416.5 290.9L1417.1 290.0L1417.7 288.2L1418.3 291.8L1418.9 294.1L1419.5 292.9L1420.1 297.4L1420.7 296.4L1421.3 297.3L1421.9 299.8L1422.5 296.2L1423.1 297.6L1423.7 301.0L1424.3 302.0L1424.9 305.3L1425.5 305.6L1426.1 304.5L1426.7 305.8L1427.3 305.9L1427.9 306.9L1428.5 307.9L1429.1 312.1L1429.7 310.3L1430.3 311.6L1430.9 313.8L1431.5 313.4L1432.1 314.9L1432.7 311.8L1433.3 318.1L1433.9 317.6L1434.5 319.5L1435.1 320.8L1435.7 317.1L1436.3 326.5L1436.9 322.8L1437.5 323.6L1438.1 320.5L1438.7 325.9L1439.3 326.1L1439.9 325.3L1440.5 327.2L1441.1 329.8L1441.7 327.4L1442.3 326.9L1442.9 331.7L1443.5 330.2L1444.1 329.9L1444.7 334.9L1445.3 331.3L1445.9 331.0L1446.5 332.0L1447.1 330.9L1447.7 332.2L1448.3 332.3L1448.9 330.9L1449.5 331.8L1450.1 333.0L1450.7 333.3L1451.3 333.7L1451.9 334.2L1452.5 333.4L1453.1 333.9L1453.7 332.4L1454.3 332.7L1454.9 335.1L1455.5 329.8L1456.1 334.1L1456.7 339.1L1457.3 330.2L1457.9 336.2L1458.5 330.4L1459.1 334.2L1459.7 336.5L1460.3 336.2L1460.9 331.9L1461.5 331.2L1462.1 331.0L1462.7 334.8L1463.3 332.9L1463.9 333.6L1464.5 334.0L1465.1 334.3L1465.7 334.5L1466.3 333.8L1466.9 330.7L1467.5 336.1L1468.1 328.7L1468.7 335.8L1469.3 332.5L1469.9 333.2L1470.5 332.6L1471.1 332.9L1471.7 333.5L1472.3 333.1L1472.9 331.6L1473.5 335.1L1474.1 332.6L1474.7 336.0L1475.3 333.3L1475.9 332.4L1476.5 334.4L1477.1 335.2L1477.7 332.0L1478.3 333.1L1478.9 336.1L1479.5 331.9L1480.1 332.2L1480.7 333.9L1481.3 331.5L1481.9 329.3L1482.5 330.7L1483.1 334.3L1483.7 334.8L1484.3 334.7L1484.9 334.4L1485.5 331.5L1486.1 334.9L1486.7 335.7L1487.3 332.5L1487.9 335.3L1488.5 333.1L1489.1 334.0L1489.7 334.4L1490.3 331.1L1490.9 336.3L1491.5 332.3L1492.1 333.6L1492.7 332.9L1493.3 334.5L1493.9 334.5L1494.5 333.8L1495.1 336.2L1495.7 334.2L1496.3 333.1L1496.9 328.8L1497.5 333.3L1498.1 333.3L1498.7 332.3L1499.3 332.3L1499.9 334.8L1500.5 335.6L1501.1 337.0L1501.7 335.8L1502.3 332.6L1502.9 334.2L1503.5 331.5L1504.1 335.1L1504.7 334.4L1505.3 332.8L1505.9 333.7L1506.5 333.4L1507.1 332.8L1507.7 336.1L1508.3 339.1L1508.9 335.2L1509.5 335.6L1510.1 334.1L1510.7 333.3L1511.3 337.6L1511.9 333.3L1512.5 334.5L1513.1 333.7L1513.7 334.9L1514.3 333.8L1514.9 334.9L1515.5 331.8L1516.1 333.7L1516.7 336.2L1517.3 332.2L1517.9 332.8L1518.5 336.2L1519.1 334.6L1519.7 335.7L1520.3 330.2L1520.9 334.2L1521.5 331.8L1522.1 331.6L1522.7 334.6L1523.3 335.9L1523.9 331.4L1524.5 332.1L1525.1 333.0L1525.7 333.7L1526.3 331.7L1526.9 337.7L1527.5 334.9L1528.1 333.4L1528.7 333.1L1529.3 337.8L1529.9 337.7L1530.5 333.1L1531.1 334.5L1531.7 336.0L1532.3 332.0L1532.9 333.0L1533.5 336.2L1534.1 332.8L1534.7 333.3L1535.3 331.8L1535.9 332.7L1536.5 335.1L1537.1 332.6L1537.7 331.8L1538.3 332.9L1538.9 336.9L1539.5 334.3L1540.1 333.1L1540.7 334.2L1541.3 334.7L1541.9 334.2L1542.5 331.0L1543.1 334.5L1543.7 333.6L1544.3 335.4L1544.9 331.8L1545.5 335.7L1546.1 333.2L1546.7 331.2L1547.3 336.2L1547.9 333.2L1548.5 334.6L1549.1 333.7L1549.7 335.8L1550.3 335.8L1550.9 335.8L1551.5 335.2L1552.1 331.4L1552.7 331.3L1553.3 334.3L1553.9 332.5L1554.5 334.8L1555.1 334.3L1555.7 331.7L1556.3 332.3L1556.9 332.2L1557.5 332.6L1558.1 333.7L1558.7 335.1L1559.3 336.2L1559.9 332.5L1560.5 333.1L1561.1 336.5L1561.7 335.5L1562.3 334.4L1562.9 330.3L1563.5 332.4L1564.1 334.3L1564.7 333.1L1565.3 337.2L1565.9 334.2L1566.5 334.5L1567.1 332.3L1567.7 332.4L1568.3 333.0L1568.9 333.1L1569.5 333.7L1570.1 334.6L1570.7 334.4L1571.3 335.6L1571.9 331.9L1572.5 334.4L1573.1 334.4L1573.7 336.6L1574.3 333.7L1574.9 334.6L1575.5 332.8L1576.1 334.7L1576.7 334.7L1577.3 333.1L1577.9 333.4L1578.5 334.0L1579.1 335.0L1579.7 332.3L1580.3 335.5L1580.9 333.6L1581.5 337.0L1582.1 336.4L1582.7 333.5L1583.3 333.1L1583.9 337.9L1584.5 335.1L1585.1 335.0L1585.7 333.4L1586.3 333.9L1586.9 335.3L1587.5 335.1L1588.1 332.8L1588.7 336.0L1589.3 334.6L1589.9 332.6L1590.5 335.6L1591.1 333.8L1591.7 335.3L1592.3 333.3L1592.9 334.7L1593.5 331.6L1594.1 334.7L1594.7 331.8L1595.3 334.4L1595.9 330.2L1596.5 334.0L1597.1 335.2L1597.7 334.9L1598.3 336.0L1598.9 332.5L1599.5 336.5L1600.1 336.6L1600.7 332.3L1601.3 332.9L1601.9 333.3L1602.5 334.1L1603.1 334.4L1603.7 330.4L1604.3 335.0L1604.9 333.7L1605.5 332.6L1606.1 335.6L1606.7 333.6L1607.3 335.9L1607.9 334.9L1608.5 333.7L1609.1 335.9L1609.7 335.4L1610.3 333.4L1610.9 331.7L1611.5 333.3L1612.1 335.1L1612.7 333.8L1613.3 336.8L1613.9 334.5L1614.5 334.4L1615.1 334.7L1615.7 332.8L1616.3 334.0L1616.9 333.2L1617.5 330.7L1618.1 331.5L1618.7 335.2L1619.3 333.5L1619.9 334.0L1620.5 332.0L1621.1 333.3L1621.7 335.3L1622.3 334.3L1622.9 333.4L1623.5 336.4L1624.1 334.1L1624.7 333.6L1625.3 335.8L1625.9 331.6L1626.5 335.0L1627.1 332.5L1627.7 333.0L1628.3 333.2L1628.9 334.4L1629.5 334.3L1630.1 334.6L1630.7 334.5L1631.3 336.2L1631.9 336.6L1632.5 335.2L1633.1 335.3L1633.7 333.6L1634.3 332.6L1634.9 335.0L1635.5 334.2L1636.1 335.4L1636.7 331.5L1637.3 338.0L1637.9 332.3L1638.5 334.2L1639.1 335.6L1639.7 332.2L1640.3 333.4L1640.9 331.3L1641.5 332.1L1642.1 331.4L1642.7 334.3L1643.3 334.6L1643.9 333.7L1644.5 336.0L1645.1 336.2L1645.7 334.2L1646.3 333.9L1646.9 333.8L1647.5 333.5L1648.1 336.0L1648.7 334.5L1649.3 333.7L1649.9 333.9L1650.5 335.0L1651.1 333.6L1651.7 334.6L1652.3 334.1L1652.9 336.1L1653.5 335.8L1654.1 332.2L1654.7 334.0L1655.3 335.2L1655.9 333.6L1656.5 335.3L1657.1 334.7L1657.7 335.0L1658.3 334.1L1658.9 334.6L1659.5 334.9L1660.1 332.1L1660.7 332.9L1661.3 332.8L1661.9 336.6L1662.5 334.6L1663.1 334.7L1663.7 334.4L1664.3 333.5L1664.9 333.1L1665.5 335.4L1666.1 333.7L1666.7 336.4L1667.3 334.5L1667.9 334.3L1668.5 333.9L1669.1 334.1L1669.7 334.3L1670.3 336.4L1670.9 337.5L1671.5 332.6L1672.1 334.6L1672.7 335.2L1673.3 332.9L1673.9 333.3L1674.5 333.6L1675.1 330.8L1675.7 335.1L1676.3 334.1L1676.9 334.1L1677.5 334.3L1678.1 334.6L1678.7 337.5L1679.3 334.5L1679.9 335.4L1680.5 333.5L1681.1 334.7L1681.7 333.8L1682.3 334.0L1682.9 332.9L1683.5 333.1L1684.1 334.9L1684.7 335.3L1685.3 334.9L1685.9 333.3L1686.5 334.7L1687.1 330.6L1687.7 335.6L1688.3 334.2L1688.9 334.6L1689.5 335.9L1690.1 333.6L1690.7 335.6L1691.3 333.6L1691.9 335.0L1692.5 333.6L1693.1 334.6L1693.7 336.2L1694.3 333.2L1694.9 333.3L1695.5 333.6L1696.1 334.5L1696.7 337.9L1697.3 333.1L1697.9 331.0L1698.5 332.9L1699.1 331.5L1699.7 332.9L1700.3 333.6L1700.9 332.1L1701.5 332.4L1702.1 330.6L1702.7 333.5L1703.3 332.0L1703.9 334.5L1704.5 334.4L1705.1 331.5L1705.7 332.1L1706.3 332.6L1706.9 333.5L1707.5 329.8L1708.1 332.0L1708.7 334.6L1709.3 331.7L1709.9 332.0L1710.5 331.5L1711.1 329.6L1711.7 332.6L1712.3 331.4L1712.9 331.1L1713.5 331.8L1714.1 331.7L1714.7 327.6L1715.3 330.9L1715.9 329.2L1716.5 330.1L1717.1 328.7L1717.7 328.3L1718.3 330.8L1718.9 329.2L1719.5 328.6L1720.1 328.4L1720.7 328.8L1721.3 328.4L1721.9 324.8L1722.5 326.8L1723.1 327.6L1723.7 328.8L1724.3 329.6L1724.9 326.0L1725.5 330.1L1726.1 327.2L1726.7 327.6L1727.3 325.9L1727.9 325.6L1728.5 328.4L1729.1 325.8L1729.7 325.8L1730.3 327.5L1730.9 328.2L1731.5 323.2L1732.1 325.0L1732.7 325.1L1733.3 327.7L1733.9 328.5L1734.5 324.5L1735.1 325.0L1735.7 325.6L1736.3 325.9L1736.9 323.5L1737.5 325.1L1738.1 322.6L1738.7 319.4L1739.3 321.3L1739.9 323.6L1740.5 324.3L1741.1 319.5L1741.7 320.1L1742.3 322.7L1742.9 317.4L1743.5 323.3L1744.1 323.9L1744.7 317.6L1745.3 323.3L1745.9 321.7L1746.5 324.0L1747.1 322.1L1747.7 321.2L1748.3 321.6L1748.9 322.7L1749.5 321.4L1750.1 321.1L1750.7 318.6L1751.3 321.4L1751.9 320.6L1752.5 323.3L1753.1 320.2L1753.7 320.0L1754.3 319.0L1754.9 321.0L1755.5 319.4L1756.1 318.4L1756.7 321.9L1757.3 322.0L1757.9 318.4L1758.5 317.4L1759.1 320.6L1759.7 317.4L1760.3 323.0L1760.9 318.2L1761.5 319.8L1762.1 316.1L1762.7 318.0L1763.3 319.6L1763.9 318.5L1764.5 316.8L1765.1 321.4L1765.7 318.6L1766.3 317.0L1766.9 316.3L1767.5 316.7L1768.1 319.2L1768.7 315.7L1769.3 316.9L1769.9 315.5L1770.5 318.7L1771.1 316.4L1771.7 317.9L1772.3 317.4L1772.9 315.5L1773.5 317.5L1774.1 317.9L1774.7 314.5L1775.3 317.4L1775.9 321.9L1776.5 315.8L1777.1 317.3L1777.7 314.1L1778.3 317.0L1778.9 315.4L1779.5 317.6L1780.1 316.4L1780.7 314.7L1781.3 318.4L1781.9 316.5L1782.5 315.4L1783.1 317.3L1783.7 315.9L1784.3 318.3L1784.9 317.8L1785.5 317.5L1786.1 319.4L1786.7 316.7L1787.3 320.5L1787.9 316.1L1788.5 322.0L1789.1 320.1L1789.7 319.8L1790.3 319.3L1790.9 321.7L1791.5 320.9L1792.1 321.2L1792.7 323.4L1793.3 321.5L1793.9 322.1L1794.5 323.5L1795.1 324.8L1795.7 323.3L1796.3 324.1L1796.9 324.2L1797.5 325.6L1798.1 327.0L1798.7 323.7L1799.3 325.2L1799.9 325.6L1800.5 326.8L1801.1 328.4L1801.7 326.4L1802.3 327.0L1802.9 328.6L1803.5 325.3L1804.1 326.3L1804.7 327.0L1805.3 327.9L1805.9 328.6L1806.5 327.7L1807.1 331.4L1807.7 328.0L1808.3 329.1L1808.9 331.2L1809.5 331.0L1810.1 330.2L1810.7 331.0L1811.3 331.9L1811.9 330.9L1812.5 332.1L1813.1 330.1L1813.7 331.8L1814.3 329.5L1814.9 330.8L1815.5 330.6L1816.1 334.2L1816.7 331.9L1817.3 333.1L1817.9 331.4L1818.5 332.5L1819.1 332.5L1819.7 331.7L1820.3 334.1L1820.9 330.5L1821.5 333.8L1822.1 336.7L1822.7 331.7L1823.3 332.9L1823.9 330.6L1824.5 332.8L1825.1 330.3L1825.7 333.7L1826.3 332.0L1826.9 330.1L1827.5 330.8L1828.1 330.4L1828.7 332.2L1829.3 333.8L1829.9 332.0L1830.5 330.8L1831.1 331.3L1831.7 332.6L1832.3 328.9L1832.9 333.2L1833.5 332.9L1834.1 328.7L1834.7 333.9L1835.3 329.8L1835.9 331.8L1836.5 333.8L1837.1 329.7L1837.7 329.3L1838.3 330.3L1838.9 330.3L1839.5 331.6L1840.1 331.0L1840.7 331.0L1841.3 331.0L1841.9 331.4L1842.5 330.4L1843.1 332.0L1843.7 331.5L1844.3 330.0L1844.9 334.1L1845.5 329.5L1846.1 332.4L1846.7 330.2L1847.3 331.8L1847.9 332.0L1848.5 332.4L1849.1 333.2L1849.7 329.9L1850.3 335.2L1850.9 331.6L1851.5 329.8L1852.1 329.0L1852.7 334.3L1853.3 333.2L1853.9 330.8L1854.5 331.9L1855.1 332.6L1855.7 330.8L1856.3 330.0L1856.9 330.5L1857.5 331.7L1858.1 330.5L1858.7 328.6L1859.3 331.4L1859.9 327.7L1860.5 329.1L1861.1 331.9L1861.7 330.4L1862.3 330.3L1862.9 330.1L1863.5 331.4L1864.1 329.7L1864.7 326.9L1865.3 330.0L1865.9 325.1L1866.5 326.5L1867.1 331.8L1867.7 331.0L1868.3 328.7L1868.9 329.2L1869.5 329.3L1870.1 330.6L1870.7 327.9L1871.3 327.7L1871.9 328.0L1872.5 329.1L1873.1 329.2L1873.7 328.2L1874.3 329.9L1874.9 327.1L1875.5 328.5L1876.1 327.5L1876.7 327.0L1877.3 330.3L1877.9 327.9L1878.5 326.8L1879.1 328.3L1879.7 326.7L1880.3 329.1L1880.9 329.4L1881.5 329.6L1882.1 326.5L1882.7 327.8L1883.3 330.8L1883.9 327.6L1884.5 329.8L1885.1 330.2L1885.7 325.8L1886.3 329.7L1886.9 328.9L1887.5 329.1L1888.1 330.3L1888.7 328.4L1889.3 327.9L1889.9 328.7L1890.5 327.2L1891.1 328.5L1891.7 324.7L1892.3 330.3L1892.9 326.9L1893.5 328.5L1894.1 328.2L1894.7 327.9L1895.3 328.0L1895.9 327.9L1896.5 325.4L1897.1 327.1L1897.7 329.7L1898.3 326.4L1898.9 326.4L1899.5 331.2L1900.1 329.9L1900.7 330.5L1901.3 328.2L1901.9 328.7L1902.5 329.5L1903.1 329.3L1903.7 328.4L1904.3 326.4L1904.9 327.6L1905.5 326.5L1906.1 331.2L1906.7 328.3L1907.3 328.7L1907.9 329.5L1908.5 329.2L1909.1 330.0L1909.7 328.4L1910.3 327.1L1910.9 332.1L1911.5 328.5L1912.1 329.0L1912.7 328.6L1913.3 329.0L1913.9 330.0L1914.5 331.1L1915.1 328.6L1915.7 330.6L1916.3 329.3L1916.9 332.2L1917.5 328.7L1918.1 330.7L1918.7 331.7L1919.3 328.8L1919.9 331.0L1920.5 331.2L1921.1 329.9L1921.7 330.8L1922.3 332.6L1922.9 331.6L1923.5 330.7L1924.1 331.1L1924.7 332.1L1925.3 333.4L1925.9 332.8L1926.5 332.8L1927.1 334.0L1927.7 329.6L1928.3 329.8L1928.9 328.7L1929.5 333.2L1930.1 328.7L1930.7 332.0L1931.3 333.2L1931.9 330.2L1932.5 331.3L1933.1 331.9L1933.7 333.4L1934.3 330.2L1934.9 332.9L1935.5 333.4L1936.1 332.7L1936.7 332.8L1937.3 334.4L1937.9 332.9L1938.5 332.6L1939.1 332.2L1939.7 333.7L1940.3 332.4L1940.9 333.8L1941.5 333.0L1942.1 334.5L1942.7 331.8L1943.3 333.1L1943.9 333.5L1944.5 333.7L1945.1 334.7L1945.7 333.7L1946.3 334.5L1946.9 336.0L1947.5 334.4L1948.1 331.8L1948.7 331.3L1949.3 334.3L1949.9 332.9L1950.5 333.8L1951.1 333.2L1951.7 335.3L1952.3 335.2L1952.9 332.0L1953.5 334.0L1954.1 333.2L1954.7 331.8L1955.3 334.6L1955.9 333.5L1956.5 334.4L1957.1 337.3L1957.7 335.7L1958.3 335.4L1958.9 333.3L1959.5 332.2L1960.1 335.7L1960.7 333.5L1961.3 334.0L1961.9 333.4L1962.5 334.1" fill="none" stroke="#2A9D8F" stroke-width="5.0" stroke-linejoin="round" stroke-linecap="butt"/>
<path d="M148.7 510.6L149.3 515.1L149.9 514.0L150.5 514.0L151.1 517.9L151.7 506.1L152.3 508.6L152.9 505.8L153.5 511.0L154.1 515.8L154.7 511.6L155.3 513.9L155.9 503.9L156.5 512.6L157.1 508.3L157.7 519.6L158.3 516.0L158.9 516.4L159.5 512.2L160.1 515.1L160.7 515.4L161.3 511.4L161.9 510.8L162.5 512.5L163.1 510.6L163.7 510.7L164.3 512.1L164.9 510.4L165.5 516.7L166.1 506.9L166.7 517.1L167.3 511.2L167.9 511.6L168.5 508.4L169.1 513.5L169.7 513.1L170.3 515.1L170.9 512.2L171.5 514.9L172.1 522.1L172.7 516.4L173.3 512.4L173.9 518.8L174.5 514.4L175.1 517.5L175.7 517.7L176.3 513.6L176.9 507.4L177.5 514.0L178.1 517.8L178.7 514.1L179.3 517.5L179.9 519.9L180.5 513.7L181.1 521.1L181.7 522.8L182.3 520.6L182.9 521.1L183.5 520.9L184.1 525.7L184.7 517.3L185.3 516.7L185.9 519.2L186.5 513.1L187.1 510.5L187.7 513.4L188.3 518.6L188.9 519.1L189.5 511.0L190.1 509.7L190.7 516.2L191.3 516.8L191.9 517.5L192.5 520.5L193.1 522.9L193.7 518.9L194.3 520.5L194.9 513.6L195.5 513.4L196.1 519.2L196.7 521.1L197.3 521.4L197.9 521.0L198.5 521.8L199.1 522.0L199.7 511.7L200.3 515.9L200.9 520.8L201.5 521.5L202.1 513.0L202.7 524.0L203.3 517.5L203.9 518.5L204.5 520.6L205.1 522.6L205.7 513.8L206.3 523.8L206.9 520.1L207.5 516.8L208.1 518.9L208.7 511.2L209.3 517.5L209.9 521.0L210.5 517.5L211.1 519.1L211.7 519.9L212.3 520.8L212.9 524.8L213.5 520.6L214.1 519.8L214.7 523.1L215.3 529.4L215.9 519.7L216.5 523.2L217.1 514.9L217.7 526.7L218.3 524.1L218.9 526.9L219.5 521.3L220.1 517.4L220.7 525.3L221.3 524.8L221.9 518.4L222.5 516.0L223.1 523.8L223.7 521.4L224.3 532.7L224.9 519.8L225.5 520.2L226.1 521.9L226.7 515.8L227.3 519.0L227.9 529.2L228.5 522.2L229.1 520.3L229.7 517.7L230.3 525.2L230.9 525.6L231.5 524.1L232.1 521.6L232.7 524.4L233.3 524.8L233.9 520.6L234.5 525.9L235.1 515.0L235.7 518.4L236.3 522.4L236.9 523.3L237.5 519.1L238.1 525.2L238.7 528.1L239.3 525.8L239.9 525.0L240.5 527.4L241.1 525.8L241.7 519.7L242.3 523.5L242.9 529.5L243.5 520.0L244.1 524.8L244.7 523.1L245.3 521.1L245.9 520.7L246.5 525.2L247.1 526.1L247.7 526.2L248.3 519.3L248.9 523.9L249.5 526.5L250.1 528.9L250.7 527.9L251.3 528.6L251.9 529.7L252.5 528.7L253.1 522.3L253.7 525.8L254.3 522.9L254.9 516.4L255.5 519.2L256.1 534.1L256.7 521.6L257.3 517.2L257.9 523.8L258.5 532.1L259.1 526.0L259.7 527.8L260.3 525.3L260.9 526.0L261.5 531.4L262.1 529.6L262.7 526.2L263.3 530.1L263.9 530.9L264.5 525.9L265.1 527.9L265.7 527.9L266.3 524.3L266.9 531.5L267.5 526.4L268.1 524.7L268.7 520.7L269.3 522.4L269.9 533.2L270.5 523.0L271.1 529.1L271.7 526.1L272.3 529.5L272.9 529.9L273.5 524.7L274.1 526.6L274.7 528.2L275.3 528.3L275.9 527.8L276.5 526.8L277.1 530.4L277.7 533.1L278.3 530.2L278.9 525.4L279.5 529.8L280.1 528.6L280.7 530.1L281.3 535.5L281.9 527.7L282.5 528.5L283.1 525.2L283.7 527.6L284.3 526.6L284.9 534.9L285.5 530.0L286.1 526.7L286.7 536.3L287.3 524.0L287.9 532.3L288.5 533.0L289.1 531.4L289.7 528.3L290.3 528.8L290.9 528.1L291.5 532.4L292.1 520.7L292.7 527.6L293.3 530.2L293.9 527.5L294.5 522.9L295.1 528.9L295.7 527.0L296.3 532.9L296.9 535.2L297.5 530.3L298.1 522.8L298.7 529.4L299.3 526.7L299.9 532.8L300.5 536.6L301.1 531.5L301.7 538.0L302.3 536.1L302.9 533.1L303.5 527.4L304.1 531.4L304.7 525.7L305.3 535.0L305.9 531.7L306.5 536.4L307.1 532.5L307.7 524.3L308.3 533.9L308.9 535.0L309.5 537.8L310.1 528.1L310.7 528.4L311.3 532.1L311.9 528.0L312.5 526.9L313.1 527.9L313.7 541.6L314.3 529.7L314.9 528.4L315.5 530.5L316.1 532.2L316.7 536.9L317.3 535.7L317.9 535.2L318.5 532.5L319.1 533.0L319.7 530.1L320.3 527.0L320.9 540.0L321.5 531.0L322.1 536.4L322.7 531.6L323.3 532.4L323.9 532.3L324.5 527.9L325.1 532.7L325.7 534.4L326.3 536.1L326.9 534.9L327.5 536.9L328.1 534.3L328.7 533.2L329.3 526.2L329.9 531.4L330.5 539.0L331.1 533.9L331.7 536.4L332.3 532.8L332.9 531.2L333.5 541.1L334.1 535.0L334.7 539.2L335.3 535.8L335.9 532.9L336.5 525.9L337.1 534.4L337.7 528.5L338.3 526.2L338.9 538.6L339.5 536.8L340.1 536.6L340.7 534.5L341.3 534.3L341.9 536.0L342.5 535.1L343.1 534.8L343.7 537.3L344.3 526.0L344.9 537.9L345.5 532.5L346.1 537.9L346.7 539.0L347.3 532.0L347.9 537.8L348.5 537.8L349.1 532.5L349.7 533.2L350.3 535.5L350.9 527.3L351.5 533.6L352.1 535.9L352.7 533.7L353.3 529.7L353.9 534.0L354.5 540.7L355.1 540.1L355.7 535.1L356.3 532.7L356.9 535.5L357.5 535.7L358.1 533.3L358.7 534.6L359.3 538.0L359.9 539.1L360.5 527.5L361.1 539.4L361.7 536.5L362.3 540.1L362.9 536.1L363.5 537.7L364.1 541.9L364.7 526.0L365.3 541.8L365.9 537.1L366.5 530.2L367.1 527.3L367.7 537.6L368.3 533.1L368.9 540.1L369.5 537.5L370.1 536.3L370.7 540.2L371.3 537.6L371.9 539.5L372.5 539.8L373.1 538.1L373.7 539.8L374.3 539.8L374.9 532.5L375.5 536.3L376.1 536.9L376.7 536.1L377.3 532.0L377.9 535.5L378.5 538.7L379.1 538.2L379.7 542.8L380.3 535.6L380.9 536.3L381.5 535.8L382.1 536.8L382.7 535.9L383.3 531.6L383.9 539.1L384.5 541.4L385.1 541.8L385.7 534.5L386.3 537.5L386.9 544.4L387.5 537.9L388.1 539.5L388.7 537.9L389.3 541.8L389.9 541.7L390.5 546.3L391.1 540.3L391.7 540.1L392.3 534.7L392.9 537.4L393.5 536.5L394.1 537.7L394.7 534.5L395.3 543.0L395.9 535.5L396.5 539.9L397.1 534.9L397.7 540.3L398.3 544.6L398.9 536.5L399.5 540.5L400.1 539.1L400.7 540.3L401.3 540.8L401.9 537.4L402.5 538.9L403.1 537.6L403.7 536.9L404.3 535.6L404.9 542.8L405.5 537.3L406.1 542.0L406.7 541.6L407.3 536.6L407.9 543.3L408.5 537.2L409.1 542.1L409.7 544.8L410.3 537.8L410.9 537.1L411.5 537.1L412.1 547.7L412.7 539.1L413.3 536.2L413.9 543.0L414.5 539.8L415.1 540.3L415.7 537.3L416.3 533.4L416.9 538.2L417.5 537.2L418.1 535.4L418.7 537.2L419.3 537.7L419.9 543.3L420.5 543.1L421.1 542.5L421.7 539.2L422.3 536.9L422.9 541.9L423.5 542.5L424.1 544.3L424.7 541.0L425.3 540.7L425.9 542.2L426.5 538.3L427.1 538.7L427.7 543.3L428.3 537.4L428.9 541.1L429.5 543.9L430.1 542.2L430.7 542.9L431.3 538.1L431.9 541.2L432.5 540.8L433.1 543.6L433.7 543.1L434.3 541.9L434.9 547.8L435.5 543.6L436.1 541.0L436.7 540.1L437.3 541.9L437.9 540.3L438.5 547.2L439.1 543.9L439.7 541.2L440.3 540.2L440.9 538.9L441.5 541.5L442.1 546.5L442.7 545.0L443.3 542.3L443.9 542.9L444.5 536.8L445.1 545.0L445.7 541.9L446.3 546.9L446.9 542.2L447.5 541.3L448.1 543.5L448.7 540.9L449.3 547.0L449.9 543.8L450.5 544.1L451.1 544.0L451.7 542.0L452.3 544.6L452.9 543.7L453.5 548.6L454.1 543.4L454.7 544.4L455.3 541.9L455.9 542.2L456.5 542.5L457.1 547.4L457.7 543.8L458.3 546.5L458.9 542.8L459.5 542.6L460.1 537.8L460.7 546.3L461.3 550.1L461.9 543.1L462.5 548.2L463.1 546.5L463.7 541.9L464.3 546.3L464.9 541.3L465.5 543.2L466.1 547.8L466.7 544.6L467.3 540.6L467.9 548.5L468.5 540.9L469.1 543.8L469.7 543.3L470.3 543.9L470.9 541.8L471.5 539.5L472.1 550.1L472.7 541.7L473.3 541.9L473.9 537.3L474.5 544.9L475.1 548.5L475.7 548.9L476.3 553.0L476.9 549.2L477.5 546.0L478.1 544.9L478.7 549.1L479.3 544.8L479.9 545.5L480.5 542.1L481.1 545.3L481.7 550.9L482.3 544.9L482.9 546.3L483.5 538.1L484.1 549.2L484.7 546.3L485.3 549.4L485.9 546.0L486.5 542.8L487.1 541.3L487.7 546.8L488.3 545.3L488.9 542.5L489.5 545.2L490.1 543.6L490.7 547.5L491.3 544.2L491.9 541.9L492.5 545.2L493.1 543.9L493.7 549.8L494.3 544.2L494.9 541.7L495.5 545.4L496.1 544.8L496.7 546.3L497.3 546.2L497.9 542.6L498.5 545.5L499.1 545.3L499.7 542.2L500.3 544.1L500.9 546.3L501.5 541.2L502.1 542.7L502.7 544.4L503.3 545.5L503.9 547.3L504.5 542.0L505.1 546.7L505.7 547.6L506.3 550.3L506.9 544.7L507.5 543.4L508.1 541.7L508.7 547.6L509.3 549.7L509.9 544.2L510.5 547.4L511.1 548.6L511.7 548.9L512.3 545.2L512.9 548.2L513.5 546.3L514.1 543.9L514.7 547.3L515.3 547.7L515.9 544.0L516.5 548.0L517.1 552.3L517.7 542.7L518.3 548.9L518.9 549.5L519.5 547.2L520.1 547.9L520.7 546.4L521.3 550.8L521.9 544.6L522.5 546.8L523.1 541.9L523.7 548.1L524.3 548.3L524.9 542.7L525.5 545.0L526.1 548.6L526.7 546.0L527.3 544.1L527.9 540.7L528.5 548.4L529.1 552.7L529.7 546.3L530.3 548.7L530.9 548.7L531.5 547.4L532.1 547.9L532.7 548.0L533.3 545.4L533.9 554.4L534.5 555.1L535.1 548.7L535.7 552.6L536.3 545.7L536.9 547.4L537.5 551.0L538.1 545.0L538.7 544.6L539.3 549.0L539.9 542.9L540.5 552.7L541.1 550.2L541.7 548.9L542.3 550.1L542.9 546.0L543.5 546.0L544.1 550.7L544.7 551.0L545.3 548.9L545.9 548.5L546.5 547.2L547.1 552.3L547.7 544.9L548.3 546.5L548.9 547.4L549.5 544.9L550.1 545.4L550.7 546.2L551.3 551.5L551.9 553.5L552.5 549.8L553.1 544.8L553.7 547.4L554.3 548.7L554.9 548.4L555.5 548.1L556.1 550.4L556.7 544.2L557.3 547.7L557.9 549.7L558.5 551.0L559.1 549.9L559.7 549.3L560.3 548.9L560.9 547.6L561.5 549.5L562.1 548.8L562.7 547.6L563.3 552.4L563.9 552.4L564.5 548.5L565.1 551.0L565.7 552.4L566.3 550.1L566.9 549.8L567.5 550.7L568.1 545.4L568.7 545.9L569.3 550.8L569.9 550.2L570.5 552.9L571.1 548.3L571.7 552.2L572.3 552.1L572.9 554.4L573.5 547.5L574.1 548.6L574.7 550.1L575.3 550.0L575.9 546.8L576.5 547.8L577.1 545.9L577.7 554.8L578.3 548.8L578.9 548.8L579.5 547.2L580.1 548.7L580.7 550.5L581.3 547.5L581.9 548.2L582.5 553.5L583.1 550.3L583.7 548.4L584.3 546.6L584.9 547.4L585.5 545.5L586.1 547.8L586.7 545.2L587.3 544.8L587.9 545.3L588.5 543.3L589.1 546.2L589.7 551.9L590.3 543.3L590.9 540.1L591.5 546.6L592.1 543.3L592.7 548.4L593.3 543.7L593.9 544.7L594.5 539.5L595.1 536.7L595.7 540.1L596.3 541.9L596.9 537.1L597.5 534.6L598.1 536.8L598.7 536.7L599.3 536.6L599.9 536.9L600.5 543.4L601.1 536.1L601.7 534.1L602.3 532.0L602.9 537.0L603.5 529.5L604.1 538.0L604.7 533.2L605.3 528.2L605.9 532.7L606.5 531.3L607.1 534.8L607.7 526.0L608.3 530.6L608.9 529.4L609.5 531.8L610.1 524.9L610.7 525.5L611.3 533.5L611.9 528.6L612.5 521.8L613.1 527.0L613.7 523.0L614.3 522.9L614.9 520.8L615.5 527.4L616.1 522.2L616.7 524.2L617.3 523.5L617.9 518.2L618.5 520.4L619.1 525.0L619.7 517.4L620.3 523.0L620.9 521.7L621.5 523.9L622.1 523.9L622.7 524.1L623.3 521.5L623.9 522.0L624.5 518.7L625.1 519.1L625.7 523.6L626.3 518.7L626.9 523.8L627.5 523.6L628.1 517.8L628.7 522.1L629.3 517.6L629.9 521.3L630.5 517.7L631.1 521.3L631.7 520.8L632.3 517.0L632.9 527.0L633.5 523.6L634.1 515.5L634.7 521.9L635.3 519.7L635.9 527.8L636.5 521.3L637.1 522.9L637.7 521.4L638.3 524.2L638.9 520.8L639.5 520.0L640.1 521.5L640.7 522.1L641.3 525.7L641.9 524.3L642.5 523.0L643.1 523.5L643.7 522.3L644.3 525.9L644.9 519.6L645.5 525.8L646.1 530.6L646.7 526.6L647.3 526.4L647.9 529.3L648.5 527.2L649.1 528.5L649.7 533.6L650.3 530.6L650.9 538.9L651.5 535.6L652.1 534.6L652.7 533.9L653.3 535.6L653.9 530.7L654.5 538.3L655.1 540.7L655.7 540.5L656.3 538.4L656.9 541.9L657.5 542.6L658.1 541.2L658.7 543.2L659.3 545.6L659.9 544.8L660.5 543.3L661.1 544.9L661.7 545.9L662.3 542.1L662.9 547.0L663.5 546.9L664.1 542.4L664.7 544.0L665.3 553.1L665.9 549.3L666.5 552.7L667.1 548.9L667.7 553.7L668.3 551.6L668.9 548.8L669.5 551.2L670.1 554.4L670.7 556.4L671.3 552.1L671.9 549.9L672.5 549.0L673.1 552.7L673.7 553.8L674.3 551.6L674.9 551.1L675.5 553.4L676.1 552.7L676.7 552.5L677.3 548.2L677.9 551.0L678.5 556.1L679.1 551.8L679.7 557.5L680.3 552.9L680.9 551.4L681.5 552.7L682.1 553.5L682.7 550.5L683.3 552.8L683.9 551.3L684.5 555.6L685.1 551.3L685.7 552.7L686.3 549.0L686.9 549.4L687.5 552.3L688.1 550.5L688.7 551.9L689.3 553.1L689.9 553.9L690.5 549.5L691.1 552.3L691.7 554.2L692.3 551.3L692.9 549.9L693.5 551.3L694.1 556.4L694.7 552.9L695.3 556.3L695.9 552.3L696.5 555.6L697.1 549.8L697.7 552.5L698.3 553.3L698.9 556.9L699.5 554.2L700.1 555.6L700.7 552.3L701.3 552.3L701.9 556.0L702.5 556.4L703.1 556.0L703.7 556.0L704.3 552.3L704.9 558.1L705.5 553.9L706.1 556.3L706.7 555.2L707.3 549.9L707.9 549.5L708.5 550.3L709.1 553.7L709.7 556.2L710.3 553.4L710.9 555.8L711.5 551.4L712.1 552.8L712.7 552.3L713.3 554.3L713.9 551.9L714.5 554.2L715.1 555.7L715.7 553.6L716.3 552.8L716.9 553.8L717.5 552.3L718.1 552.8L718.7 556.8L719.3 555.9L719.9 552.3L720.5 554.8L721.1 556.5L721.7 557.3L722.3 557.1L722.9 557.9L723.5 555.9L724.1 556.0L724.7 555.7L725.3 558.5L725.9 558.1L726.5 560.1L727.1 558.8L727.7 555.0L728.3 553.8L728.9 554.0L729.5 555.1L730.1 558.2L730.7 554.2L731.3 553.1L731.9 556.8L732.5 558.8L733.1 558.8L733.7 560.6L734.3 557.3L734.9 556.2L735.5 556.8L736.1 554.7L736.7 556.0L737.3 559.9L737.9 561.5L738.5 559.8L739.1 557.8L739.7 556.7L740.3 557.6L740.9 553.3L741.5 558.1L742.1 558.4L742.7 556.5L743.3 556.7L743.9 553.1L744.5 558.0L745.1 557.8L745.7 550.5L746.3 554.8L746.9 556.5L747.5 559.0L748.1 553.7L748.7 555.2L749.3 558.0L749.9 555.8L750.5 554.2L751.1 553.5L751.7 554.3L752.3 552.4L752.9 555.9L753.5 551.8L754.1 554.5L754.7 555.0L755.3 555.4L755.9 552.9L756.5 552.5L757.1 552.9L757.7 552.1L758.3 553.9L758.9 550.9L759.5 554.8L760.1 556.1L760.7 548.1L761.3 549.8L761.9 545.7L762.5 549.3L763.1 547.9L763.7 545.8L764.3 543.2L764.9 544.9L765.5 548.8L766.1 547.1L766.7 543.6L767.3 540.6L767.9 541.3L768.5 538.8L769.1 536.8L769.7 537.2L770.3 540.4L770.9 539.1L771.5 538.3L772.1 534.6L772.7 533.3L773.3 538.8L773.9 534.9L774.5 538.3L775.1 533.0L775.7 536.8L776.3 534.5L776.9 532.3L777.5 531.8L778.1 537.3L778.7 534.3L779.3 530.8L779.9 531.4L780.5 526.5L781.1 534.6L781.7 533.3L782.3 528.1L782.9 529.9L783.5 520.9L784.1 530.4L784.7 528.6L785.3 527.5L785.9 528.6L786.5 526.7L787.1 522.8L787.7 523.0L788.3 523.9L788.9 526.3L789.5 523.4L790.1 521.0L790.7 523.3L791.3 518.4L791.9 527.1L792.5 521.6L793.1 517.5L793.7 520.2L794.3 522.3L794.9 520.3L795.5 524.1L796.1 513.9L796.7 522.0L797.3 517.0L797.9 519.2L798.5 521.3L799.1 512.6L799.7 511.6L800.3 514.2L800.9 510.2L801.5 508.9L802.1 514.6L802.7 517.4L803.3 512.3L803.9 514.9L804.5 523.8L805.1 513.8L805.7 511.7L806.3 512.0L806.9 513.5L807.5 511.3L808.1 514.1L808.7 512.7L809.3 514.7L809.9 512.5L810.5 512.0L811.1 509.7L811.7 508.6L812.3 512.0L812.9 512.0L813.5 514.2L814.1 513.6L814.7 513.0L815.3 521.0L815.9 515.9L816.5 518.9L817.1 513.0L817.7 519.3L818.3 520.2L818.9 518.7L819.5 515.5L820.1 522.0L820.7 517.0L821.3 515.3L821.9 515.6L822.5 520.8L823.1 519.8L823.7 524.0L824.3 524.3L824.9 526.9L825.5 524.9L826.1 525.1L826.7 525.6L827.3 524.4L827.9 525.2L828.5 526.3L829.1 529.7L829.7 527.8L830.3 530.6L830.9 534.4L831.5 526.6L832.1 531.2L832.7 531.8L833.3 535.0L833.9 532.3L834.5 535.2L835.1 543.2L835.7 535.5L836.3 539.5L836.9 541.1L837.5 541.0L838.1 539.9L838.7 545.8L839.3 540.3L839.9 543.4L840.5 545.9L841.1 545.9L841.7 550.5L842.3 548.1L842.9 553.5L843.5 550.1L844.1 553.9L844.7 552.2L845.3 551.3L845.9 551.6L846.5 554.5L847.1 551.7L847.7 553.1L848.3 551.9L848.9 549.8L849.5 555.1L850.1 555.6L850.7 552.4L851.3 555.9L851.9 554.8L852.5 551.9L853.1 554.0L853.7 557.3L854.3 558.2L854.9 557.2L855.5 561.9L856.1 557.6L856.7 555.7L857.3 554.6L857.9 560.2L858.5 556.7L859.1 557.0L859.7 556.3L860.3 556.4L860.9 557.3L861.5 558.9L862.1 559.1L862.7 558.7L863.3 559.8L863.9 557.2L864.5 556.3L865.1 558.0L865.7 554.4L866.3 559.7L866.9 559.1L867.5 559.1L868.1 556.2L868.7 557.2L869.3 558.1L869.9 556.3L870.5 556.1L871.1 557.7L871.7 558.3L872.3 556.8L872.9 559.9L873.5 562.0L874.1 559.0L874.7 557.6L875.3 557.4L875.9 560.9L876.5 558.5L877.1 559.0L877.7 558.3L878.3 556.9L878.9 560.6L879.5 557.4L880.1 558.1L880.7 553.9L881.3 561.7L881.9 559.1L882.5 557.6L883.1 556.3L883.7 556.6L884.3 554.6L884.9 558.5L885.5 556.1L886.1 558.4L886.7 558.4L887.3 561.1L887.9 558.0L888.5 558.1L889.1 558.5L889.7 556.4L890.3 557.1L890.9 558.1L891.5 559.6L892.1 558.9L892.7 557.0L893.3 559.7L893.9 556.8L894.5 554.7L895.1 560.3L895.7 557.5L896.3 556.7L896.9 555.3L897.5 556.7L898.1 560.5L898.7 557.4L899.3 561.5L899.9 557.6L900.5 559.6L901.1 557.6L901.7 556.7L902.3 556.8L902.9 557.1L903.5 555.4L904.1 555.3L904.7 558.2L905.3 559.8L905.9 557.8L906.5 557.6L907.1 555.9L907.7 559.6L908.3 559.5L908.9 555.5L909.5 557.7L910.1 557.0L910.7 554.9L911.3 560.5L911.9 559.7L912.5 558.2L913.1 560.1L913.7 556.7L914.3 558.1L914.9 560.0L915.5 557.1L916.1 558.2L916.7 555.9L917.3 558.8L917.9 559.7L918.5 555.9L919.1 556.2L919.7 557.5L920.3 560.1L920.9 556.7L921.5 556.2L922.1 557.5L922.7 559.7L923.3 554.9L923.9 557.4L924.5 560.0L925.1 557.6L925.7 557.2L926.3 559.2L926.9 555.5L927.5 561.3L928.1 558.5L928.7 557.0L929.3 557.8L929.9 557.6L930.5 557.2L931.1 555.5L931.7 557.3L932.3 554.7L932.9 560.1L933.5 555.7L934.1 556.4L934.7 556.3L935.3 559.0L935.9 557.4L936.5 560.3L937.1 556.9L937.7 558.0L938.3 557.6L938.9 557.2L939.5 559.7L940.1 559.9L940.7 560.1L941.3 555.4L941.9 558.4L942.5 555.9L943.1 555.8L943.7 554.7L944.3 556.2L944.9 558.9L945.5 560.3L946.1 560.9L946.7 556.3L947.3 556.8L947.9 558.3L948.5 558.2L949.1 558.3L949.7 554.9L950.3 557.6L950.9 559.0L951.5 558.5L952.1 557.8L952.7 556.8L953.3 557.9L953.9 560.8L954.5 558.9L955.1 559.9L955.7 561.0L956.3 556.2L956.9 559.3L957.5 558.9L958.1 560.4L958.7 557.7L959.3 557.8L959.9 557.0L960.5 558.5L961.1 557.7L961.7 557.9L962.3 558.8L962.9 557.6L963.5 556.6L964.1 557.5L964.7 557.3L965.3 559.0L965.9 560.4L966.5 557.7L967.1 554.1L967.7 559.3L968.3 558.2L968.9 556.7L969.5 557.9L970.1 561.6L970.7 555.8L971.3 556.4L971.9 558.3L972.5 553.1L973.1 557.7L973.7 560.1L974.3 559.4L974.9 559.1L975.5 557.9L976.1 558.3L976.7 563.2L977.3 559.0L977.9 560.9L978.5 556.5L979.1 559.0L979.7 559.2L980.3 558.9L980.9 555.0L981.5 558.0L982.1 561.2L982.7 559.6L983.3 557.4L983.9 560.2L984.5 555.6L985.1 559.8L985.7 559.4L986.3 557.8L986.9 557.1L987.5 556.0L988.1 558.5L988.7 561.8L989.3 560.3L989.9 559.6L990.5 560.5L991.1 557.9L991.7 559.8L992.3 554.1L992.9 558.2L993.5 558.2L994.1 558.9L994.7 558.7L995.3 560.0L995.9 558.0L996.5 560.6L997.1 558.7L997.7 560.6L998.3 559.3L998.9 560.5L999.5 559.9L1000.1 558.1L1000.7 559.5L1001.3 557.0L1001.9 559.3L1002.5 559.8L1003.1 558.8L1003.7 559.0L1004.3 560.9L1004.9 561.3L1005.5 561.7L1006.1 558.4L1006.7 558.6L1007.3 560.7L1007.9 560.8L1008.5 556.4L1009.1 562.7L1009.7 561.3L1010.3 557.4L1010.9 561.4L1011.5 558.8L1012.1 559.3L1012.7 557.9L1013.3 558.2L1013.9 558.9L1014.5 559.7L1015.1 557.8L1015.7 559.5L1016.3 558.5L1016.9 558.8L1017.5 558.2L1018.1 558.7L1018.7 562.3L1019.3 557.1L1019.9 557.6L1020.5 559.6L1021.1 559.0L1021.7 558.1L1022.3 560.5L1022.9 557.9L1023.5 559.8L1024.1 561.4L1024.7 560.8L1025.3 559.4L1025.9 559.9L1026.5 560.2L1027.1 560.9L1027.7 558.4L1028.3 562.0L1028.9 561.2L1029.5 563.0L1030.1 561.4L1030.7 561.7L1031.3 555.3L1031.9 559.3L1032.5 563.1L1033.1 560.7L1033.7 559.4L1034.3 561.2L1034.9 560.3L1035.5 560.8L1036.1 559.0L1036.7 561.0L1037.3 562.6L1037.9 560.6L1038.5 560.9L1039.1 559.1L1039.7 561.0L1040.3 559.6L1040.9 558.1L1041.5 559.6L1042.1 559.9L1042.7 561.2L1043.3 561.9L1043.9 560.0L1044.5 559.8L1045.1 561.4L1045.7 559.0L1046.3 559.9L1046.9 560.0L1047.5 560.2L1048.1 559.5L1048.7 563.0L1049.3 562.0L1049.9 560.2L1050.5 558.2L1051.1 559.7L1051.7 561.5L1052.3 557.5L1052.9 564.5L1053.5 560.4L1054.1 560.5L1054.7 561.6L1055.3 558.3L1055.9 560.7L1056.5 560.6L1057.1 561.8L1057.7 559.1L1058.3 561.7L1058.9 562.6L1059.5 561.2L1060.1 559.9L1060.7 559.4L1061.3 557.9L1061.9 559.8L1062.5 561.6L1063.1 563.2L1063.7 562.4L1064.3 562.7L1064.9 560.1L1065.5 560.1L1066.1 558.4L1066.7 559.8L1067.3 559.1L1067.9 560.5L1068.5 561.9L1069.1 560.7L1069.7 560.4L1070.3 562.0L1070.9 563.3L1071.5 562.6L1072.1 558.2L1072.7 563.7L1073.3 560.3L1073.9 558.7L1074.5 560.4L1075.1 562.6L1075.7 556.8L1076.3 563.1L1076.9 561.4L1077.5 561.9L1078.1 558.8L1078.7 560.2L1079.3 559.2L1079.9 562.9L1080.5 559.8L1081.1 561.7L1081.7 560.0L1082.3 558.4L1082.9 562.5L1083.5 563.0L1084.1 563.5L1084.7 560.2L1085.3 561.2L1085.9 562.2L1086.5 561.7L1087.1 561.5L1087.7 564.9L1088.3 560.5L1088.9 562.6L1089.5 560.3L1090.1 563.4L1090.7 560.7L1091.3 559.6L1091.9 562.4L1092.5 561.3L1093.1 560.6L1093.7 560.8L1094.3 560.2L1094.9 562.0L1095.5 561.7L1096.1 563.9L1096.7 560.1L1097.3 563.5L1097.9 562.1L1098.5 559.0L1099.1 563.7L1099.7 558.4L1100.3 562.1L1100.9 558.3L1101.5 561.7L1102.1 560.7L1102.7 560.9L1103.3 558.2L1103.9 560.1L1104.5 563.2L1105.1 562.3L1105.7 561.2L1106.3 561.2L1106.9 560.3L1107.5 563.7L1108.1 561.3L1108.7 563.2L1109.3 559.0L1109.9 558.9L1110.5 563.6L1111.1 560.0L1111.7 561.2L1112.3 562.2L1112.9 563.0L1113.5 562.5L1114.1 562.4L1114.7 564.1L1115.3 561.9L1115.9 563.0L1116.5 561.6L1117.1 561.8L1117.7 564.6L1118.3 561.1L1118.9 557.5L1119.5 561.7L1120.1 561.9L1120.7 564.5L1121.3 561.0L1121.9 559.7L1122.5 561.8L1123.1 564.6L1123.7 561.0L1124.3 563.6L1124.9 562.4L1125.5 562.6L1126.1 560.2L1126.7 561.7L1127.3 560.3L1127.9 561.6L1128.5 560.4L1129.1 563.4L1129.7 560.7L1130.3 561.2L1130.9 557.9L1131.5 560.0L1132.1 565.5L1132.7 560.9L1133.3 558.9L1133.9 561.5L1134.5 561.2L1135.1 560.7L1135.7 561.1L1136.3 560.8L1136.9 563.1L1137.5 559.6L1138.1 561.9L1138.7 562.9L1139.3 560.1L1139.9 565.3L1140.5 561.7L1141.1 561.4L1141.7 560.7L1142.3 562.9L1142.9 559.0L1143.5 562.6L1144.1 565.2L1144.7 562.2L1145.3 563.0L1145.9 560.2L1146.5 562.9L1147.1 560.4L1147.7 561.0L1148.3 561.7L1148.9 564.8L1149.5 560.8L1150.1 558.6L1150.7 562.0L1151.3 563.0L1151.9 562.8L1152.5 562.2L1153.1 564.0L1153.7 563.3L1154.3 563.2L1154.9 561.1L1155.5 559.4L1156.1 564.5L1156.7 560.4L1157.3 564.0L1157.9 563.8L1158.5 560.0L1159.1 560.8L1159.7 562.6L1160.3 563.5L1160.9 560.3L1161.5 561.4L1162.1 560.2L1162.7 559.9L1163.3 562.1L1163.9 561.1L1164.5 558.6L1165.1 562.6L1165.7 561.3L1166.3 561.3L1166.9 559.7L1167.5 563.1L1168.1 562.4L1168.7 562.4L1169.3 561.8L1169.9 562.5L1170.5 564.5L1171.1 562.2L1171.7 562.3L1172.3 561.2L1172.9 563.0L1173.5 561.6L1174.1 560.8L1174.7 563.8L1175.3 561.7L1175.9 560.5L1176.5 560.8L1177.1 561.1L1177.7 560.2L1178.3 564.4L1178.9 563.0L1179.5 559.8L1180.1 563.9L1180.7 561.4L1181.3 562.4L1181.9 561.4L1182.5 562.7L1183.1 562.6L1183.7 563.3L1184.3 563.4L1184.9 557.8L1185.5 561.2L1186.1 561.9L1186.7 561.6L1187.3 559.5L1187.9 561.3L1188.5 561.6L1189.1 558.5L1189.7 560.5L1190.3 563.1L1190.9 560.6L1191.5 561.6L1192.1 561.9L1192.7 562.7L1193.3 563.1L1193.9 563.6L1194.5 562.1L1195.1 562.2L1195.7 561.7L1196.3 562.3L1196.9 561.8L1197.5 563.2L1198.1 563.1L1198.7 559.7L1199.3 558.2L1199.9 562.7L1200.5 561.1L1201.1 559.4L1201.7 563.5L1202.3 564.4L1202.9 560.1L1203.5 560.4L1204.1 560.8L1204.7 560.7L1205.3 561.8L1205.9 560.1L1206.5 561.9L1207.1 561.3L1207.7 563.7L1208.3 561.8L1208.9 563.4L1209.5 564.4L1210.1 562.8L1210.7 563.0L1211.3 561.2L1211.9 562.0L1212.5 565.7L1213.1 564.2L1213.7 562.0L1214.3 561.3L1214.9 561.7L1215.5 563.8L1216.1 558.6L1216.7 562.4L1217.3 559.8L1217.9 564.3L1218.5 559.6L1219.1 563.5L1219.7 561.5L1220.3 562.0L1220.9 564.7L1221.5 562.0L1222.1 563.1L1222.7 562.6L1223.3 560.1L1223.9 561.9L1224.5 563.6L1225.1 562.6L1225.7 562.3L1226.3 560.8L1226.9 564.6L1227.5 561.1L1228.1 565.0L1228.7 562.3L1229.3 563.2L1229.9 559.7L1230.5 562.2L1231.1 560.5L1231.7 562.2L1232.3 564.0L1232.9 562.6L1233.5 562.5L1234.1 563.7L1234.7 560.1L1235.3 562.2L1235.9 561.0L1236.5 563.9L1237.1 560.9L1237.7 564.8L1238.3 565.5L1238.9 558.6L1239.5 561.8L1240.1 559.4L1240.7 564.2L1241.3 560.7L1241.9 563.2L1242.5 562.6L1243.1 560.6L1243.7 559.6L1244.3 564.0L1244.9 561.1L1245.5 562.6L1246.1 564.5L1246.7 562.1L1247.3 561.6L1247.9 560.4L1248.5 562.9L1249.1 560.7L1249.7 559.3L1250.3 561.1L1250.9 561.0L1251.5 559.4L1252.1 561.7L1252.7 563.4L1253.3 563.0L1253.9 565.5L1254.5 564.0L1255.1 562.5L1255.7 558.7L1256.3 562.5L1256.9 564.1L1257.5 561.6L1258.1 564.5L1258.7 560.5L1259.3 562.5L1259.9 563.5L1260.5 565.0L1261.1 562.0L1261.7 565.4L1262.3 561.5L1262.9 559.0L1263.5 561.9L1264.1 564.4L1264.7 561.5L1265.3 564.9L1265.9 561.7L1266.5 565.3L1267.1 558.3L1267.7 566.0L1268.3 558.6L1268.9 561.9L1269.5 560.0L1270.1 562.6L1270.7 561.7L1271.3 561.5L1271.9 563.1L1272.5 563.7L1273.1 561.4L1273.7 564.1L1274.3 559.0L1274.9 560.2L1275.5 559.6L1276.1 562.8L1276.7 563.5L1277.3 561.2L1277.9 560.9L1278.5 559.9L1279.1 563.1L1279.7 563.9L1280.3 561.0L1280.9 561.6L1281.5 561.2L1282.1 561.9L1282.7 562.7L1283.3 558.1L1283.9 561.0L1284.5 563.3L1285.1 560.3L1285.7 564.1L1286.3 564.3L1286.9 560.2L1287.5 560.5L1288.1 564.2L1288.7 559.0L1289.3 560.0L1289.9 559.0L1290.5 561.9L1291.1 562.4L1291.7 562.7L1292.3 562.3L1292.9 559.4L1293.5 563.9L1294.1 561.7L1294.7 561.1L1295.3 564.8L1295.9 562.0L1296.5 562.4L1297.1 563.2L1297.7 565.3L1298.3 561.7L1298.9 562.9L1299.5 557.6L1300.1 560.0L1300.7 565.3L1301.3 565.2L1301.9 561.4L1302.5 560.1L1303.1 559.2L1303.7 559.5L1304.3 560.6L1304.9 558.6L1305.5 561.4L1306.1 561.3L1306.7 559.4L1307.3 559.3L1307.9 559.5L1308.5 560.7L1309.1 561.1L1309.7 562.5L1310.3 558.4L1310.9 560.9L1311.5 561.5L1312.1 562.0L1312.7 563.0L1313.3 560.7L1313.9 563.6L1314.5 565.5L1315.1 562.2L1315.7 564.2L1316.3 563.1L1316.9 562.2L1317.5 561.0L1318.1 561.8L1318.7 565.0L1319.3 561.5L1319.9 560.0L1320.5 560.5L1321.1 562.7L1321.7 560.2L1322.3 562.9L1322.9 562.6L1323.5 561.7L1324.1 564.2L1324.7 559.0L1325.3 560.3L1325.9 560.9L1326.5 561.8L1327.1 558.7L1327.7 559.9L1328.3 563.1L1328.9 560.0L1329.5 562.1L1330.1 559.9L1330.7 558.8L1331.3 560.8L1331.9 562.0L1332.5 559.3L1333.1 556.7L1333.7 557.4L1334.3 557.7L1334.9 557.8L1335.5 556.2L1336.1 558.9L1336.7 555.4L1337.3 558.9L1337.9 554.7L1338.5 554.5L1339.1 558.1L1339.7 557.0L1340.3 554.7L1340.9 553.8L1341.5 554.2L1342.1 554.4L1342.7 554.4L1343.3 555.6L1343.9 551.6L1344.5 552.8L1345.1 552.5L1345.7 549.2L1346.3 553.8L1346.9 554.3L1347.5 550.4L1348.1 546.3L1348.7 547.6L1349.3 550.7L1349.9 543.9L1350.5 543.3L1351.1 545.8L1351.7 547.3L1352.3 547.4L1352.9 547.2L1353.5 539.3L1354.1 542.5L1354.7 541.0L1355.3 540.4L1355.9 543.6L1356.5 542.2L1357.1 539.0L1357.7 540.6L1358.3 540.0L1358.9 541.9L1359.5 537.2L1360.1 539.3L1360.7 535.8L1361.3 537.9L1361.9 536.3L1362.5 536.5L1363.1 535.3L1363.7 538.3L1364.3 532.6L1364.9 531.5L1365.5 531.8L1366.1 533.6L1366.7 533.6L1367.3 531.2L1367.9 529.2L1368.5 529.2L1369.1 527.9L1369.7 530.2L1370.3 528.4L1370.9 528.4L1371.5 527.4L1372.1 526.9L1372.7 529.0L1373.3 524.4L1373.9 526.1L1374.5 525.7L1375.1 522.3L1375.7 527.7L1376.3 523.7L1376.9 519.9L1377.5 524.7L1378.1 523.3L1378.7 523.3L1379.3 520.7L1379.9 520.0L1380.5 521.0L1381.1 516.9L1381.7 520.6L1382.3 520.2L1382.9 522.2L1383.5 519.3L1384.1 521.3L1384.7 516.1L1385.3 517.8L1385.9 521.8L1386.5 523.6L1387.1 522.2L1387.7 516.2L1388.3 517.4L1388.9 518.6L1389.5 523.5L1390.1 518.9L1390.7 521.2L1391.3 522.0L1391.9 522.2L1392.5 520.8L1393.1 522.3L1393.7 523.8L1394.3 522.3L1394.9 522.0L1395.5 524.4L1396.1 526.5L1396.7 529.2L1397.3 520.4L1397.9 524.2L1398.5 524.1L1399.1 521.4L1399.7 523.7L1400.3 523.0L1400.9 522.6L1401.5 523.8L1402.1 527.2L1402.7 523.5L1403.3 525.2L1403.9 526.6L1404.5 525.0L1405.1 525.1L1405.7 524.8L1406.3 527.6L1406.9 533.4L1407.5 526.8L1408.1 533.6L1408.7 530.2L1409.3 531.0L1409.9 535.9L1410.5 536.2L1411.1 537.2L1411.7 536.6L1412.3 539.4L1412.9 536.9L1413.5 539.9L1414.1 542.0L1414.7 540.6L1415.3 539.5L1415.9 545.8L1416.5 542.3L1417.1 541.3L1417.7 545.4L1418.3 547.4L1418.9 546.6L1419.5 543.6L1420.1 546.9L1420.7 548.1L1421.3 549.4L1421.9 545.9L1422.5 547.0L1423.1 550.6L1423.7 550.9L1424.3 552.5L1424.9 554.6L1425.5 550.3L1426.1 551.4L1426.7 553.0L1427.3 557.7L1427.9 555.0L1428.5 557.8L1429.1 552.0L1429.7 557.4L1430.3 559.1L1430.9 560.5L1431.5 556.9L1432.1 562.3L1432.7 557.4L1433.3 561.9L1433.9 562.6L1434.5 559.5L1435.1 557.3L1435.7 563.9L1436.3 560.6L1436.9 557.9L1437.5 561.0L1438.1 558.3L1438.7 560.6L1439.3 558.4L1439.9 556.4L1440.5 561.8L1441.1 559.4L1441.7 560.5L1442.3 561.0L1442.9 560.6L1443.5 559.7L1444.1 561.7L1444.7 562.2L1445.3 561.6L1445.9 560.6L1446.5 561.4L1447.1 564.1L1447.7 563.7L1448.3 561.1L1448.9 562.8L1449.5 562.8L1450.1 562.9L1450.7 562.0L1451.3 562.9L1451.9 561.5L1452.5 563.4L1453.1 563.1L1453.7 563.5L1454.3 563.5L1454.9 563.3L1455.5 561.0L1456.1 560.4L1456.7 562.7L1457.3 561.8L1457.9 563.9L1458.5 561.5L1459.1 561.8L1459.7 560.3L1460.3 562.5L1460.9 562.1L1461.5 564.8L1462.1 562.9L1462.7 565.3L1463.3 561.6L1463.9 560.1L1464.5 564.9L1465.1 563.9L1465.7 565.8L1466.3 561.9L1466.9 560.1L1467.5 565.9L1468.1 563.7L1468.7 562.2L1469.3 567.1L1469.9 563.4L1470.5 561.9L1471.1 564.1L1471.7 562.5L1472.3 562.0L1472.9 564.2L1473.5 563.6L1474.1 563.2L1474.7 563.3L1475.3 561.2L1475.9 564.8L1476.5 566.9L1477.1 564.1L1477.7 565.8L1478.3 567.1L1478.9 563.2L1479.5 562.4L1480.1 561.9L1480.7 562.8L1481.3 565.0L1481.9 563.4L1482.5 565.7L1483.1 562.5L1483.7 566.5L1484.3 563.1L1484.9 563.5L1485.5 563.8L1486.1 563.2L1486.7 563.4L1487.3 564.7L1487.9 563.4L1488.5 564.4L1489.1 562.3L1489.7 562.3L1490.3 561.2L1490.9 564.9L1491.5 562.2L1492.1 564.4L1492.7 563.8L1493.3 563.9L1493.9 563.3L1494.5 564.7L1495.1 564.5L1495.7 566.6L1496.3 563.3L1496.9 563.0L1497.5 561.6L1498.1 567.5L1498.7 562.5L1499.3 565.2L1499.9 565.1L1500.5 561.6L1501.1 562.6L1501.7 565.0L1502.3 563.7L1502.9 561.5L1503.5 563.9L1504.1 566.4L1504.7 564.3L1505.3 564.7L1505.9 566.0L1506.5 567.5L1507.1 563.8L1507.7 562.6L1508.3 563.6L1508.9 562.9L1509.5 561.3L1510.1 563.4L1510.7 562.0L1511.3 565.9L1511.9 563.5L1512.5 559.1L1513.1 561.9L1513.7 564.3L1514.3 562.6L1514.9 562.2L1515.5 562.6L1516.1 562.1L1516.7 564.7L1517.3 562.8L1517.9 562.0L1518.5 565.1L1519.1 561.5L1519.7 564.0L1520.3 561.8L1520.9 562.8L1521.5 562.7L1522.1 561.5L1522.7 562.5L1523.3 566.2L1523.9 561.6L1524.5 567.1L1525.1 565.0L1525.7 566.4L1526.3 562.7L1526.9 565.5L1527.5 563.9L1528.1 567.2L1528.7 562.8L1529.3 565.8L1529.9 562.5L1530.5 566.1L1531.1 563.0L1531.7 561.6L1532.3 561.2L1532.9 562.6L1533.5 566.4L1534.1 561.2L1534.7 562.2L1535.3 563.4L1535.9 563.7L1536.5 564.0L1537.1 566.5L1537.7 563.2L1538.3 561.0L1538.9 565.0L1539.5 562.9L1540.1 563.2L1540.7 563.9L1541.3 566.5L1541.9 565.9L1542.5 563.8L1543.1 563.1L1543.7 564.5L1544.3 562.3L1544.9 560.5L1545.5 562.5L1546.1 565.5L1546.7 562.5L1547.3 562.8L1547.9 566.4L1548.5 566.4L1549.1 566.4L1549.7 562.4L1550.3 564.7L1550.9 566.2L1551.5 565.6L1552.1 563.1L1552.7 563.4L1553.3 562.4L1553.9 562.8L1554.5 564.5L1555.1 564.5L1555.7 562.2L1556.3 565.0L1556.9 564.2L1557.5 566.1L1558.1 562.8L1558.7 564.2L1559.3 559.8L1559.9 565.2L1560.5 564.9L1561.1 565.4L1561.7 563.9L1562.3 563.9L1562.9 563.7L1563.5 566.1L1564.1 562.1L1564.7 563.7L1565.3 565.0L1565.9 563.2L1566.5 562.2L1567.1 563.4L1567.7 564.5L1568.3 566.8L1568.9 563.0L1569.5 560.0L1570.1 565.8L1570.7 563.9L1571.3 565.0L1571.9 563.7L1572.5 563.9L1573.1 560.4L1573.7 564.9L1574.3 561.9L1574.9 565.1L1575.5 560.4L1576.1 566.0L1576.7 563.6L1577.3 559.7L1577.9 564.1L1578.5 564.0L1579.1 564.0L1579.7 561.8L1580.3 567.9L1580.9 562.9L1581.5 565.7L1582.1 559.3L1582.7 565.0L1583.3 564.7L1583.9 563.8L1584.5 566.1L1585.1 562.8L1585.7 564.7L1586.3 563.7L1586.9 564.4L1587.5 562.1L1588.1 565.0L1588.7 564.9L1589.3 564.4L1589.9 564.4L1590.5 563.2L1591.1 562.8L1591.7 563.5L1592.3 564.6L1592.9 561.7L1593.5 563.7L1594.1 566.7L1594.7 565.2L1595.3 562.2L1595.9 566.2L1596.5 560.9L1597.1 563.6L1597.7 566.0L1598.3 565.2L1598.9 564.6L1599.5 562.1L1600.1 561.0L1600.7 564.9L1601.3 564.5L1601.9 567.0L1602.5 562.9L1603.1 562.0L1603.7 563.0L1604.3 560.6L1604.9 563.3L1605.5 563.8L1606.1 563.6L1606.7 567.2L1607.3 567.3L1607.9 563.3L1608.5 562.9L1609.1 566.2L1609.7 565.9L1610.3 561.7L1610.9 562.6L1611.5 562.5L1612.1 561.6L1612.7 562.9L1613.3 561.6L1613.9 565.3L1614.5 564.8L1615.1 560.8L1615.7 562.8L1616.3 562.9L1616.9 566.5L1617.5 562.8L1618.1 565.6L1618.7 566.9L1619.3 562.4L1619.9 565.0L1620.5 564.2L1621.1 565.6L1621.7 561.5L1622.3 563.3L1622.9 561.0L1623.5 565.3L1624.1 560.4L1624.7 564.2L1625.3 561.1L1625.9 562.7L1626.5 562.5L1627.1 564.2L1627.7 565.0L1628.3 566.2L1628.9 566.6L1629.5 564.1L1630.1 562.0L1630.7 566.3L1631.3 561.8L1631.9 564.1L1632.5 562.8L1633.1 562.9L1633.7 564.4L1634.3 562.0L1634.9 563.9L1635.5 563.9L1636.1 566.0L1636.7 566.2L1637.3 565.5L1637.9 564.2L1638.5 567.3L1639.1 565.9L1639.7 561.8L1640.3 564.7L1640.9 565.0L1641.5 562.6L1642.1 564.6L1642.7 563.5L1643.3 562.5L1643.9 564.2L1644.5 563.0L1645.1 561.9L1645.7 564.2L1646.3 560.7L1646.9 566.2L1647.5 563.5L1648.1 564.3L1648.7 565.9L1649.3 565.9L1649.9 563.6L1650.5 564.7L1651.1 565.9L1651.7 566.8L1652.3 562.7L1652.9 564.7L1653.5 562.1L1654.1 562.5L1654.7 564.0L1655.3 563.7L1655.9 562.1L1656.5 562.4L1657.1 563.9L1657.7 561.4L1658.3 564.4L1658.9 561.8L1659.5 566.7L1660.1 564.4L1660.7 565.4L1661.3 563.4L1661.9 566.1L1662.5 565.0L1663.1 565.4L1663.7 564.3L1664.3 565.2L1664.9 563.9L1665.5 565.2L1666.1 563.5L1666.7 563.5L1667.3 564.3L1667.9 564.3L1668.5 564.0L1669.1 562.6L1669.7 563.6L1670.3 565.8L1670.9 564.3L1671.5 564.7L1672.1 563.1L1672.7 566.7L1673.3 563.7L1673.9 565.1L1674.5 564.0L1675.1 566.3L1675.7 561.1L1676.3 560.2L1676.9 563.4L1677.5 559.4L1678.1 562.6L1678.7 562.7L1679.3 563.5L1679.9 565.2L1680.5 561.5L1681.1 565.0L1681.7 566.3L1682.3 567.0L1682.9 562.0L1683.5 563.4L1684.1 567.6L1684.7 562.2L1685.3 566.2L1685.9 564.8L1686.5 565.1L1687.1 561.0L1687.7 561.4L1688.3 562.4L1688.9 565.2L1689.5 565.6L1690.1 562.6L1690.7 564.6L1691.3 564.3L1691.9 562.3L1692.5 562.0L1693.1 560.4L1693.7 561.9L1694.3 562.5L1694.9 566.3L1695.5 565.5L1696.1 563.6L1696.7 564.5L1697.3 562.3L1697.9 559.5L1698.5 564.3L1699.1 564.9L1699.7 562.4L1700.3 566.1L1700.9 565.8L1701.5 565.3L1702.1 560.3L1702.7 563.9L1703.3 565.0L1703.9 562.2L1704.5 562.8L1705.1 565.4L1705.7 567.6L1706.3 565.3L1706.9 564.2L1707.5 562.8L1708.1 561.7L1708.7 562.1L1709.3 564.4L1709.9 562.8L1710.5 566.2L1711.1 561.2L1711.7 561.5L1712.3 563.6L1712.9 564.1L1713.5 563.9L1714.1 561.6L1714.7 562.2L1715.3 565.4L1715.9 562.9L1716.5 562.7L1717.1 564.8L1717.7 564.3L1718.3 563.6L1718.9 566.7L1719.5 561.0L1720.1 564.2L1720.7 562.3L1721.3 565.3L1721.9 561.6L1722.5 564.6L1723.1 562.5L1723.7 568.0L1724.3 563.6L1724.9 567.2L1725.5 561.7L1726.1 561.7L1726.7 563.4L1727.3 559.4L1727.9 560.7L1728.5 565.2L1729.1 564.4L1729.7 561.7L1730.3 564.1L1730.9 562.7L1731.5 562.6L1732.1 559.7L1732.7 563.3L1733.3 560.2L1733.9 564.0L1734.5 559.0L1735.1 565.7L1735.7 559.4L1736.3 557.9L1736.9 558.2L1737.5 561.0L1738.1 560.6L1738.7 558.6L1739.3 561.3L1739.9 563.5L1740.5 559.8L1741.1 560.9L1741.7 561.0L1742.3 560.8L1742.9 555.6L1743.5 561.9L1744.1 558.7L1744.7 559.0L1745.3 561.1L1745.9 553.2L1746.5 560.1L1747.1 559.0L1747.7 561.6L1748.3 558.9L1748.9 560.8L1749.5 560.1L1750.1 555.4L1750.7 557.6L1751.3 556.1L1751.9 557.4L1752.5 555.6L1753.1 554.2L1753.7 556.9L1754.3 556.4L1754.9 557.9L1755.5 560.2L1756.1 555.9L1756.7 556.1L1757.3 559.0L1757.9 558.4L1758.5 553.0L1759.1 556.1L1759.7 552.9L1760.3 554.2L1760.9 554.8L1761.5 555.5L1762.1 555.1L1762.7 556.1L1763.3 556.3L1763.9 558.8L1764.5 557.2L1765.1 553.3L1765.7 558.3L1766.3 556.1L1766.9 553.0L1767.5 553.4L1768.1 555.5L1768.7 555.7L1769.3 556.2L1769.9 552.3L1770.5 554.9L1771.1 559.9L1771.7 552.1L1772.3 552.9L1772.9 555.8L1773.5 556.4L1774.1 554.7L1774.7 556.3L1775.3 555.8L1775.9 554.4L1776.5 556.2L1777.1 555.7L1777.7 557.2L1778.3 558.0L1778.9 554.8L1779.5 556.6L1780.1 554.7L1780.7 556.3L1781.3 557.4L1781.9 558.7L1782.5 555.8L1783.1 558.8L1783.7 557.4L1784.3 557.2L1784.9 557.4L1785.5 556.8L1786.1 558.8L1786.7 555.7L1787.3 559.2L1787.9 557.4L1788.5 561.5L1789.1 557.7L1789.7 559.4L1790.3 560.3L1790.9 560.6L1791.5 562.2L1792.1 562.6L1792.7 559.2L1793.3 558.8L1793.9 562.6L1794.5 560.9L1795.1 560.0L1795.7 560.5L1796.3 562.3L1796.9 562.4L1797.5 556.9L1798.1 559.7L1798.7 560.3L1799.3 559.6L1799.9 563.8L1800.5 564.2L1801.1 561.8L1801.7 564.9L1802.3 561.8L1802.9 565.1L1803.5 564.1L1804.1 563.2L1804.7 563.9L1805.3 562.1L1805.9 565.2L1806.5 562.5L1807.1 564.3L1807.7 561.8L1808.3 561.9L1808.9 563.5L1809.5 563.6L1810.1 565.7L1810.7 563.0L1811.3 564.0L1811.9 564.0L1812.5 567.0L1813.1 563.6L1813.7 561.2L1814.3 560.6L1814.9 562.5L1815.5 563.3L1816.1 561.0L1816.7 560.9L1817.3 561.3L1817.9 562.9L1818.5 564.1L1819.1 561.6L1819.7 561.4L1820.3 565.2L1820.9 566.1L1821.5 563.8L1822.1 561.8L1822.7 561.7L1823.3 564.1L1823.9 559.6L1824.5 559.8L1825.1 564.5L1825.7 560.1L1826.3 561.3L1826.9 566.5L1827.5 561.8L1828.1 565.1L1828.7 562.1L1829.3 560.6L1829.9 563.5L1830.5 562.5L1831.1 564.2L1831.7 559.9L1832.3 563.6L1832.9 563.1L1833.5 564.1L1834.1 563.2L1834.7 560.8L1835.3 565.1L1835.9 564.3L1836.5 564.4L1837.1 563.8L1837.7 563.3L1838.3 561.6L1838.9 559.3L1839.5 559.7L1840.1 562.3L1840.7 558.4L1841.3 561.3L1841.9 564.1L1842.5 560.7L1843.1 566.0L1843.7 559.3L1844.3 563.7L1844.9 558.8L1845.5 563.0L1846.1 565.5L1846.7 561.8L1847.3 560.0L1847.9 560.2L1848.5 563.5L1849.1 563.9L1849.7 563.0L1850.3 561.3L1850.9 560.2L1851.5 560.7L1852.1 560.3L1852.7 559.2L1853.3 564.2L1853.9 564.5L1854.5 564.6L1855.1 565.3L1855.7 560.9L1856.3 558.6L1856.9 562.5L1857.5 561.5L1858.1 559.9L1858.7 562.8L1859.3 561.1L1859.9 563.2L1860.5 562.7L1861.1 560.3L1861.7 561.9L1862.3 560.9L1862.9 562.5L1863.5 561.7L1864.1 560.0L1864.7 562.6L1865.3 561.4L1865.9 561.5L1866.5 562.0L1867.1 565.9L1867.7 562.5L1868.3 561.4L1868.9 560.5L1869.5 558.6L1870.1 561.7L1870.7 561.7L1871.3 560.6L1871.9 563.1L1872.5 562.4L1873.1 562.9L1873.7 561.2L1874.3 564.5L1874.9 562.7L1875.5 560.4L1876.1 561.6L1876.7 563.5L1877.3 560.4L1877.9 564.0L1878.5 560.8L1879.1 558.1L1879.7 562.9L1880.3 560.5L1880.9 561.5L1881.5 561.2L1882.1 563.5L1882.7 561.4L1883.3 563.0L1883.9 559.7L1884.5 561.5L1885.1 560.2L1885.7 561.3L1886.3 565.4L1886.9 559.8L1887.5 562.0L1888.1 560.6L1888.7 562.1L1889.3 559.7L1889.9 560.2L1890.5 558.0L1891.1 563.6L1891.7 561.4L1892.3 561.8L1892.9 558.8L1893.5 564.2L1894.1 563.5L1894.7 560.7L1895.3 562.0L1895.9 561.0L1896.5 563.3L1897.1 557.5L1897.7 562.0L1898.3 562.2L1898.9 563.4L1899.5 560.0L1900.1 560.6L1900.7 560.0L1901.3 563.8L1901.9 562.9L1902.5 564.2L1903.1 563.8L1903.7 563.6L1904.3 560.3L1904.9 562.2L1905.5 565.1L1906.1 563.3L1906.7 560.9L1907.3 561.2L1907.9 562.0L1908.5 562.4L1909.1 563.1L1909.7 563.0L1910.3 563.8L1910.9 564.9L1911.5 564.2L1912.1 561.1L1912.7 566.8L1913.3 562.7L1913.9 561.9L1914.5 565.1L1915.1 565.7L1915.7 564.0L1916.3 565.6L1916.9 562.9L1917.5 563.0L1918.1 561.2L1918.7 565.2L1919.3 563.6L1919.9 566.3L1920.5 562.8L1921.1 565.4L1921.7 563.6L1922.3 566.5L1922.9 563.5L1923.5 566.1L1924.1 561.6L1924.7 562.7L1925.3 562.6L1925.9 565.4L1926.5 559.7L1927.1 561.4L1927.7 564.0L1928.3 563.5L1928.9 563.5L1929.5 564.3L1930.1 563.2L1930.7 564.8L1931.3 565.9L1931.9 561.9L1932.5 565.9L1933.1 562.2L1933.7 561.2L1934.3 563.4L1934.9 563.3L1935.5 564.0L1936.1 561.5L1936.7 563.3L1937.3 562.4L1937.9 565.5L1938.5 563.6L1939.1 562.4L1939.7 561.6L1940.3 563.5L1940.9 567.0L1941.5 560.4L1942.1 562.3L1942.7 565.7L1943.3 565.4L1943.9 563.2L1944.5 563.3L1945.1 562.8L1945.7 562.0L1946.3 563.0L1946.9 564.5L1947.5 564.3L1948.1 560.9L1948.7 563.2L1949.3 562.4L1949.9 565.8L1950.5 561.2L1951.1 561.6L1951.7 561.2L1952.3 570.1L1952.9 566.8L1953.5 563.3L1954.1 565.5L1954.7 560.6L1955.3 563.3L1955.9 567.9L1956.5 563.4L1957.1 561.3L1957.7 562.6L1958.3 562.6L1958.9 563.4L1959.5 563.4L1960.1 562.8L1960.7 561.0L1961.3 563.6L1961.9 563.6L1962.5 560.8" fill="none" stroke="#E9C46A" stroke-width="5.0" stroke-linejoin="round" stroke-linecap="butt"/>
<path d="M148.7 752.8L149.3 734.6L149.9 749.6L150.5 746.4L151.1 751.1L151.7 747.7L152.3 753.1L152.9 746.4L153.5 744.4L154.1 748.6L154.7 748.1L155.3 745.2L155.9 745.6L156.5 749.3L157.1 749.3L157.7 744.9L158.3 745.4L158.9 740.1L159.5 753.1L160.1 746.1L160.7 751.9L161.3 748.5L161.9 754.2L162.5 752.8L163.1 748.3L163.7 752.7L164.3 743.7L164.9 751.9L165.5 741.9L166.1 748.6L166.7 751.4L167.3 748.3L167.9 746.2L168.5 744.6L169.1 746.3L169.7 751.5L170.3 751.0L170.9 746.8L171.5 743.2L172.1 750.3L172.7 742.5L173.3 746.0L173.9 745.3L174.5 750.8L175.1 748.9L175.7 749.8L176.3 749.2L176.9 745.7L177.5 750.2L178.1 753.5L178.7 748.2L179.3 750.7L179.9 748.0L180.5 752.3L181.1 751.0L181.7 751.8L182.3 749.9L182.9 754.7L183.5 747.4L184.1 747.5L184.7 746.6L185.3 751.1L185.9 746.6L186.5 746.6L187.1 751.6L187.7 753.3L188.3 751.2L188.9 739.3L189.5 745.7L190.1 745.3L190.7 744.8L191.3 747.8L191.9 756.0L192.5 748.3L193.1 746.7L193.7 752.0L194.3 749.8L194.9 750.0L195.5 747.1L196.1 749.6L196.7 751.3L197.3 742.8L197.9 743.9L198.5 753.8L199.1 752.9L199.7 748.1L200.3 746.2L200.9 749.3L201.5 745.7L202.1 748.8L202.7 756.1L203.3 750.6L203.9 754.4L204.5 749.4L205.1 751.6L205.7 755.4L206.3 745.5L206.9 749.1L207.5 749.9L208.1 751.5L208.7 756.2L209.3 753.1L209.9 745.2L210.5 749.7L211.1 747.5L211.7 747.4L212.3 758.1L212.9 747.0L213.5 751.7L214.1 748.3L214.7 754.1L215.3 752.3L215.9 751.5L216.5 750.8L217.1 755.2L217.7 747.8L218.3 748.5L218.9 747.2L219.5 756.1L220.1 750.2L220.7 747.6L221.3 749.9L221.9 760.5L222.5 751.1L223.1 754.6L223.7 753.2L224.3 751.5L224.9 749.1L225.5 750.4L226.1 750.4L226.7 743.7L227.3 761.1L227.9 755.1L228.5 752.3L229.1 751.1L229.7 749.1L230.3 755.4L230.9 751.3L231.5 753.8L232.1 747.1L232.7 753.5L233.3 759.4L233.9 751.1L234.5 755.1L235.1 752.4L235.7 756.3L236.3 756.2L236.9 752.6L237.5 750.4L238.1 753.5L238.7 752.6L239.3 750.3L239.9 754.2L240.5 754.1L241.1 749.4L241.7 752.2L242.3 763.2L242.9 755.7L243.5 753.1L244.1 761.8L244.7 751.2L245.3 743.9L245.9 746.0L246.5 747.4L247.1 753.9L247.7 756.5L248.3 745.2L248.9 757.1L249.5 748.7L250.1 754.0L250.7 754.8L251.3 754.7L251.9 753.2L252.5 753.9L253.1 749.2L253.7 754.3L254.3 756.9L254.9 756.7L255.5 762.8L256.1 757.4L256.7 756.1L257.3 759.5L257.9 754.4L258.5 748.9L259.1 745.5L259.7 758.2L260.3 755.7L260.9 756.8L261.5 752.5L262.1 755.0L262.7 760.6L263.3 755.0L263.9 749.8L264.5 752.3L265.1 758.9L265.7 750.0L266.3 744.7L266.9 745.7L267.5 749.2L268.1 757.0L268.7 754.4L269.3 751.4L269.9 749.5L270.5 753.8L271.1 753.7L271.7 752.2L272.3 753.4L272.9 751.6L273.5 760.9L274.1 745.8L274.7 754.9L275.3 750.8L275.9 757.0L276.5 753.7L277.1 755.9L277.7 756.5L278.3 755.3L278.9 758.2L279.5 749.6L280.1 758.2L280.7 753.9L281.3 756.1L281.9 760.4L282.5 758.9L283.1 762.1L283.7 746.7L284.3 751.4L284.9 758.4L285.5 750.9L286.1 754.3L286.7 761.3L287.3 758.3L287.9 751.6L288.5 756.8L289.1 757.5L289.7 755.4L290.3 754.9L290.9 755.8L291.5 749.8L292.1 755.8L292.7 751.8L293.3 756.8L293.9 757.0L294.5 752.2L295.1 757.7L295.7 756.8L296.3 755.4L296.9 758.2L297.5 754.5L298.1 754.6L298.7 755.9L299.3 755.5L299.9 759.9L300.5 747.1L301.1 754.7L301.7 748.5L302.3 753.9L302.9 756.7L303.5 755.8L304.1 759.4L304.7 757.0L305.3 745.9L305.9 751.8L306.5 761.6L307.1 761.7L307.7 756.3L308.3 750.3L308.9 764.0L309.5 748.4L310.1 757.2L310.7 755.9L311.3 757.0L311.9 751.8L312.5 754.7L313.1 760.1L313.7 754.4L314.3 751.2L314.9 756.2L315.5 756.6L316.1 755.8L316.7 753.5L317.3 758.4L317.9 756.0L318.5 752.2L319.1 757.3L319.7 756.4L320.3 757.1L320.9 750.4L321.5 753.8L322.1 758.4L322.7 760.2L323.3 758.1L323.9 757.4L324.5 759.6L325.1 760.6L325.7 763.5L326.3 758.8L326.9 755.1L327.5 758.9L328.1 750.1L328.7 757.5L329.3 755.7L329.9 757.3L330.5 759.3L331.1 757.7L331.7 752.3L332.3 756.3L332.9 754.7L333.5 757.6L334.1 759.1L334.7 754.3L335.3 760.5L335.9 762.6L336.5 757.0L337.1 760.7L337.7 752.7L338.3 756.1L338.9 761.6L339.5 751.8L340.1 756.4L340.7 755.0L341.3 762.5L341.9 762.5L342.5 756.2L343.1 758.9L343.7 749.0L344.3 761.6L344.9 759.9L345.5 763.4L346.1 750.1L346.7 760.0L347.3 757.5L347.9 749.4L348.5 756.4L349.1 758.6L349.7 761.9L350.3 759.7L350.9 757.2L351.5 760.7L352.1 758.8L352.7 756.9L353.3 755.6L353.9 759.8L354.5 759.9L355.1 766.0L355.7 757.8L356.3 765.2L356.9 760.8L357.5 763.8L358.1 756.4L358.7 756.6L359.3 758.6L359.9 763.0L360.5 760.5L361.1 762.6L361.7 761.1L362.3 763.6L362.9 760.7L363.5 758.2L364.1 762.0L364.7 760.5L365.3 766.4L365.9 759.7L366.5 760.7L367.1 759.3L367.7 764.5L368.3 763.6L368.9 762.8L369.5 756.2L370.1 755.3L370.7 761.6L371.3 763.2L371.9 766.0L372.5 754.5L373.1 760.2L373.7 754.9L374.3 757.6L374.9 760.2L375.5 764.4L376.1 759.2L376.7 758.6L377.3 760.0L377.9 765.6L378.5 769.7L379.1 755.9L379.7 760.4L380.3 759.9L380.9 765.5L381.5 763.0L382.1 766.9L382.7 758.1L383.3 761.7L383.9 760.1L384.5 757.9L385.1 761.2L385.7 757.7L386.3 769.4L386.9 763.3L387.5 758.4L388.1 759.9L388.7 768.0L389.3 760.4L389.9 764.5L390.5 764.2L391.1 766.0L391.7 764.4L392.3 761.5L392.9 760.3L393.5 756.2L394.1 762.2L394.7 762.9L395.3 761.2L395.9 762.0L396.5 758.4L397.1 770.0L397.7 760.9L398.3 759.1L398.9 760.7L399.5 762.2L400.1 765.3L400.7 754.5L401.3 764.6L401.9 760.8L402.5 762.3L403.1 766.4L403.7 765.6L404.3 760.7L404.9 762.7L405.5 769.5L406.1 767.8L406.7 766.1L407.3 763.2L407.9 766.5L408.5 764.6L409.1 761.4L409.7 759.9L410.3 765.2L410.9 764.7L411.5 767.5L412.1 761.8L412.7 768.3L413.3 762.3L413.9 767.8L414.5 765.4L415.1 761.7L415.7 760.4L416.3 763.3L416.9 762.8L417.5 766.9L418.1 761.4L418.7 758.8L419.3 763.7L419.9 770.3L420.5 769.4L421.1 761.8L421.7 763.0L422.3 765.0L422.9 761.7L423.5 763.2L424.1 763.1L424.7 760.5L425.3 762.0L425.9 762.5L426.5 764.9L427.1 760.2L427.7 764.5L428.3 760.9L428.9 761.5L429.5 760.5L430.1 777.8L430.7 768.5L431.3 768.9L431.9 767.1L432.5 763.6L433.1 764.6L433.7 765.4L434.3 766.0L434.9 766.5L435.5 769.6L436.1 754.6L436.7 762.7L437.3 766.9L437.9 763.4L438.5 764.1L439.1 769.7L439.7 765.3L440.3 770.7L440.9 764.6L441.5 765.5L442.1 761.2L442.7 758.1L443.3 763.4L443.9 765.0L444.5 763.7L445.1 760.4L445.7 767.1L446.3 765.2L446.9 765.0L447.5 762.4L448.1 770.5L448.7 770.0L449.3 766.1L449.9 764.7L450.5 765.9L451.1 770.8L451.7 774.5L452.3 765.2L452.9 763.7L453.5 759.1L454.1 774.6L454.7 761.5L455.3 768.2L455.9 766.9L456.5 769.8L457.1 762.4L457.7 759.9L458.3 765.9L458.9 766.8L459.5 769.2L460.1 759.8L460.7 763.9L461.3 764.6L461.9 761.0L462.5 765.0L463.1 768.2L463.7 765.4L464.3 760.8L464.9 766.8L465.5 768.5L466.1 767.4L466.7 768.3L467.3 760.2L467.9 767.2L468.5 767.7L469.1 764.5L469.7 765.6L470.3 763.2L470.9 769.9L471.5 764.8L472.1 762.7L472.7 766.5L473.3 766.3L473.9 768.1L474.5 763.1L475.1 763.7L475.7 767.2L476.3 773.4L476.9 767.6L477.5 761.5L478.1 766.6L478.7 763.5L479.3 759.9L479.9 763.8L480.5 764.2L481.1 767.5L481.7 770.6L482.3 770.0L482.9 768.9L483.5 764.8L484.1 766.8L484.7 766.1L485.3 771.0L485.9 764.1L486.5 764.5L487.1 771.3L487.7 768.3L488.3 764.9L488.9 766.9L489.5 766.9L490.1 767.1L490.7 769.1L491.3 767.7L491.9 765.9L492.5 764.8L493.1 760.8L493.7 765.1L494.3 770.4L494.9 767.4L495.5 764.5L496.1 765.8L496.7 763.8L497.3 767.6L497.9 773.4L498.5 772.7L499.1 770.7L499.7 769.4L500.3 766.0L500.9 762.7L501.5 766.9L502.1 765.4L502.7 769.6L503.3 767.4L503.9 765.0L504.5 768.4L505.1 776.6L505.7 764.0L506.3 770.8L506.9 769.0L507.5 766.7L508.1 764.6L508.7 767.2L509.3 767.9L509.9 769.7L510.5 769.5L511.1 768.2L511.7 765.0L512.3 768.2L512.9 765.7L513.5 763.9L514.1 770.2L514.7 765.2L515.3 763.4L515.9 767.6L516.5 761.1L517.1 767.2L517.7 768.9L518.3 766.1L518.9 768.2L519.5 774.5L520.1 772.1L520.7 770.5L521.3 769.5L521.9 765.9L522.5 767.1L523.1 766.7L523.7 767.7L524.3 768.0L524.9 765.0L525.5 772.9L526.1 764.3L526.7 768.9L527.3 771.0L527.9 767.6L528.5 765.6L529.1 767.9L529.7 774.0L530.3 769.8L530.9 766.9L531.5 769.7L532.1 767.2L532.7 761.9L533.3 768.7L533.9 771.3L534.5 771.6L535.1 767.8L535.7 763.5L536.3 771.8L536.9 767.5L537.5 770.4L538.1 771.7L538.7 769.2L539.3 767.9L539.9 766.1L540.5 766.8L541.1 768.3L541.7 766.7L542.3 769.3L542.9 762.0L543.5 765.0L544.1 768.1L544.7 766.1L545.3 766.6L545.9 764.7L546.5 770.4L547.1 773.5L547.7 765.2L548.3 772.0L548.9 763.8L549.5 768.8L550.1 762.1L550.7 769.9L551.3 768.5L551.9 768.9L552.5 772.3L553.1 770.3L553.7 768.4L554.3 766.0L554.9 768.7L555.5 766.4L556.1 767.2L556.7 773.2L557.3 771.3L557.9 769.5L558.5 770.6L559.1 764.1L559.7 769.0L560.3 763.4L560.9 766.6L561.5 769.8L562.1 769.9L562.7 770.9L563.3 769.2L563.9 768.9L564.5 768.7L565.1 773.1L565.7 772.8L566.3 764.3L566.9 769.2L567.5 772.8L568.1 768.0L568.7 769.5L569.3 767.0L569.9 765.1L570.5 769.3L571.1 767.6L571.7 768.4L572.3 764.4L572.9 765.3L573.5 768.4L574.1 767.5L574.7 770.5L575.3 765.6L575.9 771.0L576.5 770.6L577.1 769.2L577.7 770.8L578.3 768.6L578.9 768.3L579.5 768.8L580.1 765.0L580.7 768.7L581.3 771.1L581.9 763.4L582.5 770.1L583.1 765.5L583.7 765.8L584.3 766.5L584.9 766.3L585.5 769.3L586.1 763.4L586.7 768.9L587.3 762.2L587.9 762.9L588.5 762.6L589.1 756.7L589.7 753.9L590.3 757.6L590.9 758.9L591.5 758.6L592.1 752.8L592.7 760.4L593.3 751.9L593.9 748.8L594.5 755.6L595.1 755.0L595.7 744.8L596.3 751.5L596.9 741.3L597.5 746.0L598.1 755.1L598.7 749.7L599.3 745.9L599.9 744.6L600.5 736.6L601.1 741.1L601.7 740.6L602.3 732.3L602.9 737.4L603.5 738.2L604.1 735.6L604.7 735.8L605.3 731.6L605.9 726.2L606.5 731.5L607.1 720.7L607.7 726.3L608.3 735.2L608.9 738.4L609.5 730.5L610.1 715.0L610.7 734.5L611.3 729.8L611.9 725.3L612.5 730.0L613.1 728.4L613.7 718.5L614.3 717.5L614.9 729.8L615.5 711.1L616.1 726.6L616.7 724.7L617.3 728.0L617.9 731.9L618.5 729.3L619.1 730.1L619.7 725.7L620.3 723.5L620.9 726.4L621.5 719.9L622.1 714.3L622.7 718.7L623.3 709.6L623.9 715.2L624.5 729.9L625.1 720.5L625.7 716.1L626.3 713.2L626.9 705.8L627.5 712.6L628.1 710.7L628.7 714.7L629.3 714.6L629.9 713.2L630.5 701.5L631.1 721.1L631.7 714.4L632.3 711.1L632.9 708.5L633.5 712.5L634.1 716.8L634.7 712.3L635.3 700.8L635.9 699.6L636.5 692.2L637.1 707.1L637.7 710.3L638.3 713.0L638.9 705.8L639.5 709.8L640.1 698.5L640.7 707.4L641.3 703.1L641.9 699.6L642.5 693.1L643.1 711.1L643.7 689.7L644.3 708.1L644.9 699.4L645.5 708.7L646.1 701.8L646.7 710.5L647.3 705.0L647.9 700.5L648.5 704.5L649.1 698.5L649.7 710.8L650.3 716.3L650.9 713.3L651.5 712.2L652.1 720.2L652.7 706.3L653.3 717.5L653.9 715.1L654.5 713.2L655.1 720.2L655.7 711.6L656.3 718.7L656.9 722.9L657.5 716.0L658.1 722.8L658.7 728.7L659.3 732.7L659.9 724.2L660.5 735.7L661.1 731.2L661.7 734.8L662.3 733.2L662.9 741.4L663.5 735.5L664.1 741.6L664.7 743.3L665.3 746.2L665.9 739.0L666.5 748.6L667.1 746.3L667.7 753.8L668.3 746.9L668.9 747.0L669.5 750.3L670.1 750.2L670.7 751.8L671.3 748.1L671.9 745.8L672.5 749.2L673.1 753.6L673.7 758.5L674.3 756.2L674.9 754.4L675.5 758.3L676.1 759.8L676.7 770.6L677.3 765.7L677.9 762.3L678.5 756.9L679.1 762.2L679.7 762.4L680.3 766.0L680.9 772.0L681.5 764.9L682.1 758.8L682.7 765.6L683.3 760.8L683.9 769.6L684.5 770.8L685.1 768.4L685.7 762.6L686.3 767.1L686.9 771.8L687.5 764.6L688.1 766.1L688.7 769.0L689.3 769.9L689.9 768.6L690.5 769.6L691.1 769.3L691.7 766.8L692.3 768.5L692.9 769.8L693.5 765.5L694.1 769.7L694.7 769.5L695.3 770.8L695.9 770.5L696.5 766.2L697.1 765.6L697.7 770.5L698.3 769.3L698.9 770.2L699.5 768.2L700.1 766.0L700.7 770.9L701.3 769.8L701.9 772.1L702.5 773.7L703.1 773.8L703.7 773.5L704.3 767.6L704.9 764.1L705.5 768.8L706.1 767.0L706.7 766.7L707.3 772.8L707.9 766.0L708.5 773.7L709.1 774.3L709.7 779.1L710.3 774.2L710.9 777.5L711.5 769.2L712.1 769.2L712.7 774.2L713.3 767.3L713.9 774.8L714.5 770.6L715.1 765.5L715.7 777.0L716.3 768.1L716.9 779.0L717.5 767.1L718.1 769.0L718.7 772.2L719.3 771.7L719.9 766.9L720.5 772.0L721.1 772.2L721.7 773.0L722.3 766.9L722.9 769.9L723.5 771.4L724.1 774.1L724.7 772.2L725.3 770.7L725.9 770.5L726.5 776.1L727.1 769.4L727.7 772.7L728.3 765.4L728.9 776.8L729.5 773.1L730.1 766.6L730.7 773.6L731.3 775.8L731.9 774.2L732.5 772.0L733.1 774.2L733.7 769.6L734.3 771.0L734.9 770.7L735.5 771.9L736.1 768.7L736.7 775.7L737.3 771.3L737.9 768.5L738.5 771.0L739.1 772.7L739.7 771.8L740.3 774.8L740.9 770.6L741.5 769.3L742.1 773.0L742.7 775.3L743.3 768.7L743.9 766.9L744.5 769.6L745.1 771.2L745.7 768.4L746.3 771.9L746.9 768.9L747.5 773.9L748.1 767.8L748.7 768.6L749.3 771.4L749.9 773.1L750.5 773.8L751.1 769.1L751.7 771.1L752.3 772.6L752.9 775.1L753.5 768.4L754.1 767.2L754.7 772.0L755.3 769.6L755.9 773.9L756.5 769.6L757.1 769.9L757.7 766.0L758.3 768.6L758.9 770.9L759.5 765.5L760.1 761.7L760.7 767.7L761.3 763.0L761.9 763.4L762.5 760.0L763.1 764.9L763.7 758.2L764.3 758.4L764.9 759.4L765.5 757.9L766.1 749.8L766.7 758.9L767.3 752.1L767.9 756.6L768.5 753.3L769.1 753.5L769.7 750.3L770.3 748.1L770.9 752.0L771.5 751.4L772.1 753.8L772.7 751.0L773.3 745.1L773.9 751.9L774.5 755.4L775.1 748.4L775.7 743.7L776.3 739.5L776.9 743.2L777.5 735.8L778.1 744.7L778.7 738.8L779.3 737.1L779.9 740.1L780.5 732.6L781.1 729.6L781.7 734.7L782.3 741.5L782.9 731.3L783.5 738.5L784.1 725.2L784.7 732.7L785.3 734.7L785.9 740.0L786.5 722.5L787.1 729.8L787.7 725.1L788.3 730.2L788.9 725.4L789.5 727.8L790.1 722.9L790.7 723.2L791.3 727.2L791.9 731.9L792.5 724.8L793.1 723.7L793.7 720.0L794.3 729.6L794.9 711.1L795.5 710.0L796.1 715.5L796.7 721.0L797.3 722.9L797.9 720.2L798.5 720.4L799.1 716.6L799.7 712.5L800.3 708.6L800.9 715.9L801.5 707.7L802.1 714.2L802.7 715.2L803.3 707.1L803.9 707.3L804.5 706.0L805.1 712.0L805.7 708.3L806.3 703.1L806.9 707.5L807.5 713.7L808.1 706.2L808.7 704.6L809.3 701.0L809.9 697.4L810.5 702.0L811.1 701.7L811.7 699.0L812.3 706.8L812.9 698.2L813.5 698.0L814.1 699.3L814.7 700.6L815.3 686.5L815.9 697.7L816.5 702.7L817.1 688.3L817.7 696.4L818.3 690.6L818.9 687.1L819.5 693.9L820.1 691.3L820.7 679.2L821.3 687.6L821.9 695.4L822.5 687.0L823.1 685.9L823.7 688.0L824.3 687.5L824.9 694.5L825.5 685.3L826.1 683.6L826.7 693.1L827.3 696.6L827.9 695.1L828.5 696.2L829.1 687.9L829.7 683.5L830.3 688.3L830.9 692.6L831.5 683.5L832.1 691.9L832.7 697.4L833.3 690.7L833.9 706.3L834.5 699.9L835.1 689.4L835.7 690.5L836.3 693.5L836.9 702.2L837.5 701.9L838.1 697.6L838.7 702.9L839.3 707.8L839.9 708.0L840.5 698.5L841.1 703.1L841.7 706.0L842.3 703.8L842.9 718.8L843.5 713.3L844.1 715.2L844.7 716.2L845.3 723.5L845.9 726.5L846.5 728.7L847.1 733.0L847.7 725.0L848.3 738.3L848.9 743.9L849.5 732.8L850.1 735.5L850.7 741.5L851.3 746.0L851.9 741.8L852.5 741.6L853.1 754.6L853.7 746.4L854.3 739.9L854.9 753.5L855.5 756.6L856.1 760.4L856.7 761.8L857.3 767.5L857.9 756.5L858.5 756.5L859.1 756.4L859.7 767.7L860.3 762.3L860.9 759.7L861.5 759.8L862.1 767.4L862.7 766.7L863.3 769.7L863.9 767.1L864.5 768.1L865.1 771.9L865.7 770.3L866.3 772.6L866.9 770.8L867.5 770.5L868.1 772.4L868.7 770.7L869.3 772.1L869.9 772.9L870.5 770.5L871.1 771.7L871.7 772.3L872.3 773.9L872.9 772.9L873.5 773.0L874.1 773.6L874.7 771.7L875.3 773.5L875.9 770.8L876.5 768.1L877.1 773.9L877.7 767.9L878.3 772.6L878.9 776.9L879.5 774.9L880.1 770.6L880.7 775.1L881.3 773.9L881.9 771.2L882.5 773.1L883.1 772.1L883.7 772.7L884.3 774.3L884.9 769.7L885.5 775.7L886.1 778.6L886.7 773.3L887.3 771.3L887.9 772.7L888.5 776.8L889.1 772.6L889.7 775.0L890.3 779.5L890.9 772.1L891.5 774.2L892.1 772.6L892.7 773.1L893.3 774.3L893.9 772.2L894.5 775.2L895.1 774.5L895.7 777.0L896.3 775.8L896.9 775.1L897.5 777.9L898.1 773.8L898.7 775.8L899.3 772.7L899.9 777.8L900.5 772.6L901.1 776.7L901.7 772.7L902.3 775.0L902.9 771.9L903.5 772.7L904.1 772.3L904.7 775.6L905.3 775.9L905.9 776.4L906.5 775.6L907.1 774.2L907.7 776.3L908.3 778.4L908.9 773.9L909.5 773.0L910.1 776.2L910.7 779.7L911.3 774.7L911.9 774.2L912.5 772.6L913.1 773.3L913.7 772.8L914.3 772.8L914.9 777.5L915.5 778.0L916.1 775.3L916.7 775.4L917.3 777.1L917.9 775.2L918.5 775.5L919.1 776.6L919.7 775.2L920.3 778.3L920.9 782.8L921.5 775.3L922.1 776.0L922.7 773.4L923.3 774.3L923.9 775.6L924.5 776.4L925.1 775.0L925.7 772.7L926.3 776.4L926.9 774.3L927.5 776.4L928.1 775.0L928.7 775.3L929.3 775.4L929.9 770.8L930.5 778.4L931.1 773.6L931.7 776.5L932.3 776.9L932.9 774.4L933.5 772.6L934.1 777.0L934.7 773.6L935.3 775.5L935.9 776.8L936.5 774.7L937.1 771.9L937.7 774.3L938.3 776.9L938.9 774.0L939.5 777.8L940.1 772.4L940.7 773.7L941.3 771.9L941.9 773.7L942.5 779.2L943.1 777.1L943.7 775.3L944.3 774.5L944.9 778.4L945.5 775.6L946.1 773.7L946.7 779.3L947.3 773.0L947.9 776.3L948.5 777.3L949.1 778.0L949.7 780.3L950.3 777.8L950.9 774.4L951.5 778.5L952.1 776.6L952.7 773.3L953.3 773.7L953.9 774.3L954.5 771.3L955.1 777.0L955.7 777.3L956.3 777.1L956.9 774.3L957.5 776.0L958.1 778.6L958.7 776.9L959.3 775.8L959.9 774.5L960.5 776.0L961.1 778.9L961.7 776.2L962.3 781.1L962.9 781.3L963.5 777.7L964.1 772.7L964.7 775.7L965.3 778.9L965.9 775.1L966.5 774.8L967.1 776.3L967.7 781.9L968.3 775.3L968.9 772.2L969.5 776.9L970.1 777.2L970.7 777.9L971.3 776.5L971.9 777.1L972.5 775.4L973.1 778.4L973.7 776.3L974.3 777.5L974.9 774.9L975.5 779.3L976.1 776.9L976.7 775.6L977.3 776.6L977.9 774.2L978.5 775.2L979.1 778.2L979.7 777.8L980.3 778.2L980.9 778.0L981.5 776.0L982.1 776.8L982.7 780.4L983.3 776.3L983.9 773.4L984.5 776.5L985.1 775.7L985.7 776.4L986.3 776.6L986.9 774.5L987.5 777.5L988.1 776.3L988.7 777.8L989.3 775.2L989.9 774.6L990.5 775.8L991.1 780.0L991.7 773.0L992.3 778.8L992.9 776.5L993.5 779.0L994.1 775.9L994.7 777.4L995.3 777.4L995.9 780.9L996.5 776.4L997.1 777.2L997.7 775.2L998.3 777.3L998.9 775.2L999.5 776.5L1000.1 777.5L1000.7 777.8L1001.3 775.0L1001.9 775.0L1002.5 779.1L1003.1 775.7L1003.7 777.1L1004.3 776.2L1004.9 773.7L1005.5 776.6L1006.1 776.6L1006.7 780.3L1007.3 773.2L1007.9 775.8L1008.5 778.1L1009.1 775.8L1009.7 772.7L1010.3 778.1L1010.9 777.2L1011.5 775.3L1012.1 775.0L1012.7 775.6L1013.3 777.3L1013.9 776.6L1014.5 775.7L1015.1 777.6L1015.7 778.9L1016.3 775.8L1016.9 779.9L1017.5 777.0L1018.1 778.1L1018.7 777.8L1019.3 777.9L1019.9 777.4L1020.5 772.7L1021.1 775.2L1021.7 778.6L1022.3 775.0L1022.9 777.2L1023.5 774.1L1024.1 775.9L1024.7 779.9L1025.3 777.5L1025.9 775.4L1026.5 775.8L1027.1 773.9L1027.7 777.9L1028.3 776.6L1028.9 778.4L1029.5 778.5L1030.1 776.5L1030.7 775.3L1031.3 774.8L1031.9 776.3L1032.5 777.1L1033.1 779.6L1033.7 775.3L1034.3 777.9L1034.9 775.1L1035.5 776.0L1036.1 778.5L1036.7 778.0L1037.3 776.1L1037.9 775.9L1038.5 779.1L1039.1 776.8L1039.7 776.5L1040.3 775.2L1040.9 781.6L1041.5 780.4L1042.1 778.1L1042.7 781.1L1043.3 778.0L1043.9 776.6L1044.5 778.2L1045.1 779.7L1045.7 775.2L1046.3 779.5L1046.9 779.4L1047.5 780.0L1048.1 778.2L1048.7 779.3L1049.3 774.3L1049.9 777.2L1050.5 779.2L1051.1 778.3L1051.7 777.9L1052.3 775.2L1052.9 777.1L1053.5 774.4L1054.1 777.0L1054.7 778.0L1055.3 776.5L1055.9 778.3L1056.5 777.5L1057.1 779.0L1057.7 776.8L1058.3 774.6L1058.9 775.2L1059.5 776.1L1060.1 777.5L1060.7 777.7L1061.3 776.2L1061.9 777.7L1062.5 776.4L1063.1 778.7L1063.7 775.2L1064.3 779.6L1064.9 778.1L1065.5 776.9L1066.1 775.7L1066.7 778.6L1067.3 776.6L1067.9 778.8L1068.5 780.9L1069.1 778.0L1069.7 778.1L1070.3 778.6L1070.9 776.8L1071.5 781.1L1072.1 777.4L1072.7 779.0L1073.3 778.4L1073.9 776.8L1074.5 780.2L1075.1 778.5L1075.7 776.7L1076.3 776.7L1076.9 774.5L1077.5 776.0L1078.1 779.4L1078.7 779.4L1079.3 776.3L1079.9 779.0L1080.5 779.7L1081.1 779.3L1081.7 780.2L1082.3 774.7L1082.9 778.3L1083.5 776.3L1084.1 779.2L1084.7 776.7L1085.3 778.2L1085.9 779.5L1086.5 775.2L1087.1 776.8L1087.7 776.8L1088.3 777.9L1088.9 775.2L1089.5 779.3L1090.1 781.3L1090.7 777.4L1091.3 778.8L1091.9 773.3L1092.5 775.8L1093.1 779.0L1093.7 778.4L1094.3 779.0L1094.9 780.2L1095.5 778.0L1096.1 777.4L1096.7 777.0L1097.3 778.0L1097.9 774.2L1098.5 780.4L1099.1 774.1L1099.7 775.1L1100.3 777.9L1100.9 779.5L1101.5 778.8L1102.1 780.4L1102.7 777.0L1103.3 776.7L1103.9 778.8L1104.5 775.8L1105.1 778.2L1105.7 778.7L1106.3 778.3L1106.9 774.3L1107.5 777.4L1108.1 774.2L1108.7 779.3L1109.3 777.0L1109.9 779.5L1110.5 780.1L1111.1 775.5L1111.7 779.4L1112.3 778.5L1112.9 780.4L1113.5 775.6L1114.1 775.6L1114.7 776.5L1115.3 774.6L1115.9 778.0L1116.5 776.6L1117.1 778.2L1117.7 778.4L1118.3 779.3L1118.9 775.5L1119.5 779.1L1120.1 779.1L1120.7 776.1L1121.3 776.8L1121.9 775.3L1122.5 779.9L1123.1 780.1L1123.7 776.4L1124.3 777.6L1124.9 778.5L1125.5 779.0L1126.1 777.7L1126.7 780.7L1127.3 776.2L1127.9 779.3L1128.5 778.0L1129.1 778.3L1129.7 776.6L1130.3 774.9L1130.9 776.9L1131.5 778.7L1132.1 776.4L1132.7 774.9L1133.3 777.6L1133.9 777.8L1134.5 776.1L1135.1 777.7L1135.7 778.6L1136.3 778.2L1136.9 779.4L1137.5 779.9L1138.1 777.8L1138.7 776.5L1139.3 774.9L1139.9 779.6L1140.5 778.5L1141.1 779.6L1141.7 776.5L1142.3 778.1L1142.9 776.5L1143.5 776.3L1144.1 775.4L1144.7 777.5L1145.3 778.7L1145.9 779.2L1146.5 778.3L1147.1 777.4L1147.7 781.4L1148.3 780.6L1148.9 779.7L1149.5 778.2L1150.1 780.1L1150.7 776.6L1151.3 775.7L1151.9 779.0L1152.5 778.2L1153.1 779.7L1153.7 776.6L1154.3 778.4L1154.9 776.1L1155.5 777.3L1156.1 778.7L1156.7 777.8L1157.3 776.3L1157.9 775.4L1158.5 777.3L1159.1 776.4L1159.7 775.5L1160.3 778.1L1160.9 776.4L1161.5 780.1L1162.1 781.5L1162.7 779.9L1163.3 782.7L1163.9 775.9L1164.5 775.0L1165.1 777.7L1165.7 775.0L1166.3 778.2L1166.9 779.5L1167.5 779.3L1168.1 779.6L1168.7 777.6L1169.3 777.9L1169.9 778.4L1170.5 777.9L1171.1 779.6L1171.7 777.3L1172.3 777.9L1172.9 776.8L1173.5 779.6L1174.1 778.2L1174.7 778.2L1175.3 777.2L1175.9 775.0L1176.5 777.2L1177.1 774.3L1177.7 777.9L1178.3 775.9L1178.9 780.2L1179.5 776.9L1180.1 777.9L1180.7 777.2L1181.3 776.1L1181.9 775.4L1182.5 773.7L1183.1 776.9L1183.7 774.5L1184.3 779.9L1184.9 775.8L1185.5 777.0L1186.1 778.0L1186.7 777.7L1187.3 780.0L1187.9 777.9L1188.5 777.2L1189.1 777.8L1189.7 780.6L1190.3 779.3L1190.9 774.7L1191.5 777.7L1192.1 776.5L1192.7 778.1L1193.3 779.1L1193.9 778.1L1194.5 779.1L1195.1 780.9L1195.7 775.1L1196.3 778.0L1196.9 778.1L1197.5 778.8L1198.1 778.2L1198.7 779.6L1199.3 778.0L1199.9 778.8L1200.5 775.4L1201.1 778.4L1201.7 776.0L1202.3 779.1L1202.9 781.1L1203.5 778.0L1204.1 778.8L1204.7 779.4L1205.3 780.4L1205.9 779.4L1206.5 780.2L1207.1 777.2L1207.7 778.0L1208.3 775.7L1208.9 781.9L1209.5 776.2L1210.1 779.7L1210.7 778.4L1211.3 778.4L1211.9 776.2L1212.5 778.1L1213.1 778.3L1213.7 778.9L1214.3 777.6L1214.9 778.6L1215.5 776.6L1216.1 780.2L1216.7 777.1L1217.3 784.2L1217.9 777.7L1218.5 777.1L1219.1 778.5L1219.7 778.0L1220.3 780.0L1220.9 780.3L1221.5 777.2L1222.1 777.1L1222.7 777.0L1223.3 779.0L1223.9 779.9L1224.5 779.4L1225.1 778.0L1225.7 778.3L1226.3 779.4L1226.9 780.4L1227.5 778.2L1228.1 780.2L1228.7 777.7L1229.3 778.6L1229.9 780.2L1230.5 776.8L1231.1 775.4L1231.7 776.4L1232.3 778.0L1232.9 776.5L1233.5 778.1L1234.1 780.6L1234.7 777.7L1235.3 780.5L1235.9 779.7L1236.5 776.5L1237.1 779.9L1237.7 779.7L1238.3 779.9L1238.9 778.6L1239.5 778.7L1240.1 777.3L1240.7 776.8L1241.3 778.2L1241.9 779.5L1242.5 777.3L1243.1 781.0L1243.7 777.6L1244.3 778.9L1244.9 776.1L1245.5 780.9L1246.1 779.5L1246.7 780.5L1247.3 776.3L1247.9 780.8L1248.5 779.2L1249.1 777.3L1249.7 777.7L1250.3 775.9L1250.9 778.1L1251.5 779.9L1252.1 777.0L1252.7 779.0L1253.3 776.4L1253.9 773.9L1254.5 778.1L1255.1 780.8L1255.7 780.4L1256.3 777.3L1256.9 780.5L1257.5 780.1L1258.1 779.0L1258.7 777.8L1259.3 780.0L1259.9 778.2L1260.5 777.7L1261.1 780.1L1261.7 777.2L1262.3 779.4L1262.9 780.8L1263.5 777.2L1264.1 778.6L1264.7 779.2L1265.3 775.4L1265.9 777.5L1266.5 777.4L1267.1 777.4L1267.7 776.8L1268.3 780.4L1268.9 776.7L1269.5 778.1L1270.1 779.2L1270.7 780.8L1271.3 775.5L1271.9 776.0L1272.5 776.4L1273.1 777.7L1273.7 779.7L1274.3 778.0L1274.9 778.4L1275.5 780.7L1276.1 777.6L1276.7 778.4L1277.3 781.4L1277.9 779.5L1278.5 777.1L1279.1 777.0L1279.7 780.0L1280.3 776.2L1280.9 776.6L1281.5 779.4L1282.1 780.3L1282.7 780.9L1283.3 776.4L1283.9 778.9L1284.5 772.5L1285.1 776.6L1285.7 782.9L1286.3 780.6L1286.9 779.2L1287.5 776.4L1288.1 775.9L1288.7 779.8L1289.3 777.7L1289.9 776.6L1290.5 779.1L1291.1 779.1L1291.7 776.7L1292.3 777.1L1292.9 781.6L1293.5 776.2L1294.1 779.5L1294.7 776.6L1295.3 776.3L1295.9 776.0L1296.5 777.5L1297.1 777.7L1297.7 778.9L1298.3 776.4L1298.9 778.3L1299.5 776.6L1300.1 776.3L1300.7 778.6L1301.3 778.3L1301.9 774.9L1302.5 777.7L1303.1 774.3L1303.7 775.6L1304.3 780.1L1304.9 779.5L1305.5 776.9L1306.1 778.3L1306.7 779.4L1307.3 780.1L1307.9 780.1L1308.5 775.8L1309.1 777.0L1309.7 777.2L1310.3 772.8L1310.9 775.6L1311.5 777.6L1312.1 776.5L1312.7 775.8L1313.3 774.7L1313.9 775.7L1314.5 776.6L1315.1 776.1L1315.7 778.5L1316.3 778.0L1316.9 774.3L1317.5 778.1L1318.1 776.5L1318.7 777.7L1319.3 775.2L1319.9 777.8L1320.5 775.0L1321.1 778.0L1321.7 776.1L1322.3 775.7L1322.9 773.8L1323.5 773.2L1324.1 777.5L1324.7 774.0L1325.3 773.8L1325.9 776.5L1326.5 775.8L1327.1 776.6L1327.7 773.2L1328.3 771.6L1328.9 773.6L1329.5 776.8L1330.1 774.8L1330.7 775.5L1331.3 775.5L1331.9 774.6L1332.5 774.4L1333.1 773.5L1333.7 774.0L1334.3 774.0L1334.9 771.9L1335.5 774.0L1336.1 772.6L1336.7 772.2L1337.3 771.8L1337.9 773.4L1338.5 771.2L1339.1 773.5L1339.7 769.0L1340.3 771.7L1340.9 767.4L1341.5 770.1L1342.1 768.8L1342.7 768.6L1343.3 767.1L1343.9 768.8L1344.5 769.7L1345.1 764.6L1345.7 767.8L1346.3 768.1L1346.9 768.7L1347.5 767.9L1348.1 764.7L1348.7 768.6L1349.3 764.5L1349.9 767.0L1350.5 766.1L1351.1 764.1L1351.7 763.1L1352.3 764.2L1352.9 767.4L1353.5 765.4L1354.1 762.5L1354.7 764.9L1355.3 766.6L1355.9 767.3L1356.5 758.6L1357.1 763.5L1357.7 763.4L1358.3 759.5L1358.9 756.7L1359.5 763.3L1360.1 759.1L1360.7 756.1L1361.3 757.0L1361.9 760.7L1362.5 763.7L1363.1 760.5L1363.7 756.0L1364.3 760.6L1364.9 752.9L1365.5 759.2L1366.1 758.7L1366.7 760.4L1367.3 758.2L1367.9 758.2L1368.5 755.4L1369.1 754.0L1369.7 754.5L1370.3 758.8L1370.9 752.4L1371.5 753.3L1372.1 751.9L1372.7 754.3L1373.3 753.5L1373.9 757.0L1374.5 756.9L1375.1 754.0L1375.7 753.0L1376.3 750.1L1376.9 746.3L1377.5 750.1L1378.1 749.4L1378.7 746.0L1379.3 749.0L1379.9 750.6L1380.5 745.4L1381.1 749.6L1381.7 748.1L1382.3 745.2L1382.9 746.6L1383.5 747.9L1384.1 745.1L1384.7 745.1L1385.3 748.4L1385.9 746.1L1386.5 745.8L1387.1 742.7L1387.7 745.7L1388.3 747.5L1388.9 740.7L1389.5 738.5L1390.1 740.6L1390.7 742.2L1391.3 739.6L1391.9 737.5L1392.5 746.5L1393.1 740.6L1393.7 739.3L1394.3 733.4L1394.9 743.6L1395.5 736.6L1396.1 744.3L1396.7 742.1L1397.3 740.9L1397.9 739.5L1398.5 742.6L1399.1 738.2L1399.7 740.6L1400.3 738.0L1400.9 738.4L1401.5 743.5L1402.1 742.1L1402.7 736.2L1403.3 736.3L1403.9 738.7L1404.5 738.2L1405.1 739.9L1405.7 737.3L1406.3 735.4L1406.9 740.6L1407.5 737.6L1408.1 740.2L1408.7 735.7L1409.3 742.7L1409.9 739.4L1410.5 739.6L1411.1 740.2L1411.7 735.1L1412.3 741.9L1412.9 739.0L1413.5 737.8L1414.1 742.6L1414.7 746.8L1415.3 740.8L1415.9 747.6L1416.5 738.1L1417.1 745.6L1417.7 743.9L1418.3 746.9L1418.9 752.6L1419.5 749.4L1420.1 744.5L1420.7 752.8L1421.3 747.0L1421.9 749.0L1422.5 748.7L1423.1 752.0L1423.7 752.0L1424.3 756.9L1424.9 754.4L1425.5 755.9L1426.1 754.5L1426.7 758.2L1427.3 753.7L1427.9 753.5L1428.5 759.7L1429.1 760.1L1429.7 759.2L1430.3 764.9L1430.9 758.5L1431.5 764.4L1432.1 765.3L1432.7 759.9L1433.3 764.5L1433.9 765.6L1434.5 764.3L1435.1 765.0L1435.7 765.8L1436.3 764.7L1436.9 764.2L1437.5 769.2L1438.1 768.6L1438.7 768.8L1439.3 770.3L1439.9 768.3L1440.5 769.2L1441.1 772.6L1441.7 771.6L1442.3 773.1L1442.9 774.8L1443.5 776.5L1444.1 772.2L1444.7 773.3L1445.3 772.2L1445.9 774.0L1446.5 776.5L1447.1 775.0L1447.7 780.1L1448.3 775.8L1448.9 773.6L1449.5 775.3L1450.1 780.5L1450.7 775.4L1451.3 776.9L1451.9 775.7L1452.5 775.3L1453.1 779.2L1453.7 775.2L1454.3 774.3L1454.9 776.1L1455.5 776.3L1456.1 778.2L1456.7 777.7L1457.3 779.6L1457.9 777.3L1458.5 778.4L1459.1 778.5L1459.7 779.4L1460.3 775.7L1460.9 777.3L1461.5 773.3L1462.1 776.6L1462.7 775.9L1463.3 776.5L1463.9 780.6L1464.5 779.7L1465.1 775.5L1465.7 781.0L1466.3 780.2L1466.9 778.4L1467.5 778.0L1468.1 777.9L1468.7 778.1L1469.3 779.3L1469.9 777.8L1470.5 779.9L1471.1 777.7L1471.7 777.1L1472.3 778.0L1472.9 778.8L1473.5 779.0L1474.1 778.3L1474.7 775.8L1475.3 776.1L1475.9 775.5L1476.5 777.9L1477.1 779.5L1477.7 778.4L1478.3 778.3L1478.9 777.6L1479.5 777.8L1480.1 777.3L1480.7 780.2L1481.3 776.4L1481.9 777.0L1482.5 779.2L1483.1 777.8L1483.7 779.5L1484.3 777.7L1484.9 779.2L1485.5 778.9L1486.1 776.4L1486.7 779.4L1487.3 780.6L1487.9 777.4L1488.5 778.3L1489.1 779.6L1489.7 781.1L1490.3 779.1L1490.9 782.4L1491.5 777.9L1492.1 781.7L1492.7 777.4L1493.3 778.6L1493.9 777.1L1494.5 780.2L1495.1 779.7L1495.7 775.8L1496.3 774.4L1496.9 782.1L1497.5 778.2L1498.1 776.0L1498.7 777.2L1499.3 777.9L1499.9 781.2L1500.5 779.4L1501.1 778.8L1501.7 777.2L1502.3 779.8L1502.9 775.9L1503.5 780.5L1504.1 780.3L1504.7 778.0L1505.3 776.3L1505.9 777.8L1506.5 778.6L1507.1 782.0L1507.7 781.5L1508.3 777.7L1508.9 777.6L1509.5 776.6L1510.1 779.4L1510.7 777.9L1511.3 779.9L1511.9 778.9L1512.5 778.0L1513.1 777.2L1513.7 776.3L1514.3 779.8L1514.9 776.7L1515.5 780.0L1516.1 776.2L1516.7 774.8L1517.3 778.9L1517.9 777.9L1518.5 780.4L1519.1 778.9L1519.7 778.8L1520.3 780.3L1520.9 777.9L1521.5 779.9L1522.1 782.9L1522.7 779.3L1523.3 777.5L1523.9 778.9L1524.5 777.7L1525.1 778.4L1525.7 781.6L1526.3 777.4L1526.9 777.0L1527.5 779.8L1528.1 778.4L1528.7 778.7L1529.3 778.0L1529.9 779.4L1530.5 781.4L1531.1 780.1L1531.7 778.4L1532.3 778.5L1532.9 777.6L1533.5 777.7L1534.1 780.6L1534.7 779.9L1535.3 779.8L1535.9 779.9L1536.5 778.1L1537.1 779.1L1537.7 779.9L1538.3 781.7L1538.9 779.6L1539.5 779.3L1540.1 777.9L1540.7 780.8L1541.3 778.8L1541.9 779.6L1542.5 779.8L1543.1 778.0L1543.7 779.7L1544.3 781.0L1544.9 777.8L1545.5 778.4L1546.1 777.9L1546.7 779.4L1547.3 782.5L1547.9 779.8L1548.5 781.2L1549.1 779.6L1549.7 778.6L1550.3 779.3L1550.9 779.6L1551.5 779.0L1552.1 779.2L1552.7 779.4L1553.3 778.3L1553.9 781.7L1554.5 780.0L1555.1 779.1L1555.7 778.4L1556.3 779.9L1556.9 778.1L1557.5 777.4L1558.1 778.7L1558.7 781.3L1559.3 779.0L1559.9 779.6L1560.5 777.8L1561.1 780.1L1561.7 778.5L1562.3 778.5L1562.9 778.1L1563.5 779.1L1564.1 777.7L1564.7 778.7L1565.3 779.1L1565.9 777.9L1566.5 776.3L1567.1 780.0L1567.7 777.4L1568.3 776.3L1568.9 779.4L1569.5 779.3L1570.1 781.1L1570.7 781.4L1571.3 776.0L1571.9 778.5L1572.5 779.8L1573.1 777.3L1573.7 781.2L1574.3 779.9L1574.9 778.4L1575.5 778.6L1576.1 779.9L1576.7 782.7L1577.3 782.4L1577.9 777.2L1578.5 780.4L1579.1 777.2L1579.7 779.2L1580.3 777.9L1580.9 779.0L1581.5 778.8L1582.1 780.0L1582.7 778.3L1583.3 780.5L1583.9 779.3L1584.5 778.0L1585.1 781.7L1585.7 780.0L1586.3 779.1L1586.9 779.6L1587.5 780.6L1588.1 779.3L1588.7 778.6L1589.3 779.3L1589.9 778.6L1590.5 778.7L1591.1 782.0L1591.7 780.7L1592.3 781.6L1592.9 778.7L1593.5 776.8L1594.1 778.9L1594.7 780.3L1595.3 778.8L1595.9 779.8L1596.5 778.0L1597.1 780.3L1597.7 778.9L1598.3 779.5L1598.9 780.6L1599.5 778.4L1600.1 777.9L1600.7 778.3L1601.3 780.4L1601.9 779.0L1602.5 781.2L1603.1 780.4L1603.7 781.3L1604.3 779.8L1604.9 781.4L1605.5 780.7L1606.1 776.6L1606.7 781.8L1607.3 780.9L1607.9 779.0L1608.5 777.7L1609.1 776.7L1609.7 779.8L1610.3 778.3L1610.9 777.8L1611.5 778.1L1612.1 777.1L1612.7 781.1L1613.3 778.3L1613.9 779.6L1614.5 779.9L1615.1 780.2L1615.7 779.4L1616.3 780.9L1616.9 778.7L1617.5 782.9L1618.1 777.2L1618.7 780.7L1619.3 783.0L1619.9 778.2L1620.5 781.8L1621.1 782.8L1621.7 778.9L1622.3 782.0L1622.9 778.8L1623.5 780.1L1624.1 779.3L1624.7 778.2L1625.3 778.0L1625.9 778.8L1626.5 777.4L1627.1 779.9L1627.7 779.9L1628.3 781.4L1628.9 780.3L1629.5 779.4L1630.1 779.2L1630.7 783.5L1631.3 777.3L1631.9 777.6L1632.5 783.1L1633.1 781.3L1633.7 780.0L1634.3 780.5L1634.9 781.2L1635.5 777.5L1636.1 779.2L1636.7 780.8L1637.3 780.7L1637.9 781.4L1638.5 780.1L1639.1 779.2L1639.7 778.8L1640.3 780.7L1640.9 779.7L1641.5 780.5L1642.1 781.9L1642.7 781.7L1643.3 777.8L1643.9 781.6L1644.5 778.3L1645.1 777.3L1645.7 783.0L1646.3 780.2L1646.9 778.9L1647.5 779.2L1648.1 781.2L1648.7 782.9L1649.3 781.8L1649.9 779.5L1650.5 778.1L1651.1 779.7L1651.7 781.4L1652.3 780.6L1652.9 777.8L1653.5 780.0L1654.1 780.8L1654.7 778.4L1655.3 781.2L1655.9 782.1L1656.5 781.3L1657.1 778.6L1657.7 779.4L1658.3 779.8L1658.9 779.3L1659.5 781.2L1660.1 780.0L1660.7 779.9L1661.3 780.4L1661.9 779.2L1662.5 777.8L1663.1 780.0L1663.7 779.4L1664.3 780.9L1664.9 780.2L1665.5 779.5L1666.1 781.5L1666.7 779.8L1667.3 777.9L1667.9 782.2L1668.5 781.6L1669.1 779.8L1669.7 777.5L1670.3 778.3L1670.9 781.3L1671.5 779.7L1672.1 779.3L1672.7 780.5L1673.3 779.0L1673.9 779.1L1674.5 781.7L1675.1 780.6L1675.7 781.0L1676.3 780.8L1676.9 781.5L1677.5 781.1L1678.1 778.7L1678.7 779.6L1679.3 782.4L1679.9 780.1L1680.5 782.5L1681.1 779.4L1681.7 777.8L1682.3 780.0L1682.9 779.1L1683.5 778.8L1684.1 778.8L1684.7 776.8L1685.3 780.7L1685.9 779.7L1686.5 778.5L1687.1 777.4L1687.7 780.9L1688.3 779.9L1688.9 780.9L1689.5 780.4L1690.1 781.0L1690.7 779.8L1691.3 777.7L1691.9 780.1L1692.5 781.2L1693.1 777.7L1693.7 779.1L1694.3 782.0L1694.9 777.9L1695.5 781.8L1696.1 778.3L1696.7 777.2L1697.3 778.8L1697.9 778.6L1698.5 780.9L1699.1 776.3L1699.7 777.9L1700.3 777.9L1700.9 777.6L1701.5 779.3L1702.1 778.2L1702.7 779.0L1703.3 778.5L1703.9 780.5L1704.5 777.7L1705.1 778.7L1705.7 779.9L1706.3 779.3L1706.9 778.4L1707.5 779.6L1708.1 778.9L1708.7 778.9L1709.3 778.2L1709.9 779.5L1710.5 779.6L1711.1 776.9L1711.7 778.6L1712.3 778.3L1712.9 778.6L1713.5 776.3L1714.1 775.4L1714.7 776.9L1715.3 778.9L1715.9 775.4L1716.5 778.5L1717.1 776.8L1717.7 776.9L1718.3 776.8L1718.9 775.8L1719.5 775.9L1720.1 777.2L1720.7 778.5L1721.3 776.2L1721.9 776.5L1722.5 774.3L1723.1 775.3L1723.7 777.2L1724.3 777.1L1724.9 774.7L1725.5 774.9L1726.1 774.1L1726.7 773.3L1727.3 775.5L1727.9 773.7L1728.5 776.9L1729.1 770.5L1729.7 771.0L1730.3 771.7L1730.9 773.8L1731.5 773.2L1732.1 772.0L1732.7 767.8L1733.3 773.4L1733.9 770.2L1734.5 775.3L1735.1 773.0L1735.7 771.3L1736.3 772.0L1736.9 775.2L1737.5 771.6L1738.1 770.1L1738.7 767.4L1739.3 771.6L1739.9 770.4L1740.5 773.7L1741.1 771.8L1741.7 773.4L1742.3 770.5L1742.9 769.7L1743.5 772.8L1744.1 770.7L1744.7 769.5L1745.3 770.6L1745.9 772.5L1746.5 769.3L1747.1 774.0L1747.7 771.2L1748.3 767.9L1748.9 768.0L1749.5 769.7L1750.1 769.1L1750.7 768.9L1751.3 769.2L1751.9 769.8L1752.5 768.7L1753.1 768.0L1753.7 765.3L1754.3 771.8L1754.9 768.8L1755.5 769.4L1756.1 768.6L1756.7 770.5L1757.3 768.0L1757.9 770.2L1758.5 766.6L1759.1 767.0L1759.7 768.4L1760.3 768.3L1760.9 769.4L1761.5 765.8L1762.1 767.7L1762.7 765.6L1763.3 763.7L1763.9 768.3L1764.5 766.1L1765.1 764.2L1765.7 764.5L1766.3 766.9L1766.9 765.8L1767.5 765.4L1768.1 766.9L1768.7 765.4L1769.3 761.8L1769.9 766.9L1770.5 764.2L1771.1 764.4L1771.7 760.3L1772.3 758.5L1772.9 765.0L1773.5 763.9L1774.1 764.8L1774.7 765.3L1775.3 766.5L1775.9 767.4L1776.5 767.1L1777.1 762.7L1777.7 763.1L1778.3 764.9L1778.9 767.5L1779.5 767.0L1780.1 763.8L1780.7 762.5L1781.3 765.6L1781.9 764.7L1782.5 766.5L1783.1 766.9L1783.7 766.1L1784.3 763.9L1784.9 763.4L1785.5 765.4L1786.1 767.1L1786.7 766.2L1787.3 767.9L1787.9 766.0L1788.5 769.0L1789.1 767.8L1789.7 766.8L1790.3 766.3L1790.9 767.6L1791.5 768.3L1792.1 771.2L1792.7 768.8L1793.3 770.1L1793.9 765.4L1794.5 771.2L1795.1 769.5L1795.7 768.3L1796.3 766.2L1796.9 769.0L1797.5 773.6L1798.1 772.5L1798.7 772.7L1799.3 770.8L1799.9 772.9L1800.5 773.2L1801.1 772.9L1801.7 771.1L1802.3 771.9L1802.9 772.6L1803.5 778.4L1804.1 770.4L1804.7 776.6L1805.3 776.4L1805.9 774.7L1806.5 775.9L1807.1 775.4L1807.7 775.9L1808.3 774.3L1808.9 772.3L1809.5 779.9L1810.1 778.5L1810.7 773.7L1811.3 777.9L1811.9 775.6L1812.5 777.1L1813.1 774.9L1813.7 775.0L1814.3 779.6L1814.9 776.2L1815.5 776.9L1816.1 778.2L1816.7 779.5L1817.3 776.6L1817.9 778.4L1818.5 778.7L1819.1 776.7L1819.7 776.7L1820.3 778.6L1820.9 777.4L1821.5 780.0L1822.1 774.9L1822.7 778.4L1823.3 777.3L1823.9 775.4L1824.5 777.4L1825.1 775.4L1825.7 777.0L1826.3 779.1L1826.9 776.4L1827.5 778.4L1828.1 777.9L1828.7 776.6L1829.3 776.9L1829.9 777.6L1830.5 777.7L1831.1 776.4L1831.7 776.9L1832.3 778.3L1832.9 775.5L1833.5 775.2L1834.1 777.5L1834.7 777.7L1835.3 773.3L1835.9 777.0L1836.5 778.9L1837.1 778.0L1837.7 776.1L1838.3 777.2L1838.9 774.0L1839.5 777.5L1840.1 776.9L1840.7 777.7L1841.3 776.0L1841.9 777.3L1842.5 775.5L1843.1 777.8L1843.7 776.7L1844.3 773.1L1844.9 773.3L1845.5 776.6L1846.1 777.3L1846.7 777.7L1847.3 774.8L1847.9 775.8L1848.5 774.9L1849.1 774.3L1849.7 774.9L1850.3 777.2L1850.9 774.4L1851.5 777.9L1852.1 772.9L1852.7 774.4L1853.3 775.7L1853.9 775.6L1854.5 774.9L1855.1 771.9L1855.7 774.1L1856.3 776.8L1856.9 775.4L1857.5 775.1L1858.1 774.9L1858.7 774.0L1859.3 774.0L1859.9 773.0L1860.5 776.1L1861.1 774.5L1861.7 774.4L1862.3 773.9L1862.9 773.2L1863.5 771.1L1864.1 773.4L1864.7 772.2L1865.3 772.3L1865.9 773.5L1866.5 775.3L1867.1 771.3L1867.7 773.0L1868.3 775.6L1868.9 770.7L1869.5 773.7L1870.1 771.9L1870.7 773.9L1871.3 775.3L1871.9 772.4L1872.5 774.1L1873.1 772.9L1873.7 775.6L1874.3 766.4L1874.9 770.6L1875.5 772.0L1876.1 772.3L1876.7 775.0L1877.3 774.0L1877.9 771.3L1878.5 769.3L1879.1 773.9L1879.7 772.3L1880.3 771.3L1880.9 773.3L1881.5 774.9L1882.1 772.3L1882.7 774.2L1883.3 768.3L1883.9 773.1L1884.5 775.8L1885.1 773.7L1885.7 770.4L1886.3 769.4L1886.9 772.1L1887.5 769.9L1888.1 770.4L1888.7 768.2L1889.3 769.5L1889.9 772.4L1890.5 769.9L1891.1 769.8L1891.7 768.9L1892.3 771.0L1892.9 771.9L1893.5 771.5L1894.1 766.1L1894.7 771.3L1895.3 769.5L1895.9 771.1L1896.5 769.3L1897.1 773.4L1897.7 774.8L1898.3 773.0L1898.9 774.5L1899.5 771.8L1900.1 770.9L1900.7 767.7L1901.3 770.2L1901.9 770.6L1902.5 774.3L1903.1 769.7L1903.7 771.7L1904.3 772.7L1904.9 771.7L1905.5 771.6L1906.1 773.6L1906.7 770.1L1907.3 771.8L1907.9 772.2L1908.5 774.7L1909.1 774.3L1909.7 772.9L1910.3 773.5L1910.9 768.2L1911.5 772.6L1912.1 771.1L1912.7 769.3L1913.3 773.3L1913.9 771.4L1914.5 771.0L1915.1 769.1L1915.7 772.6L1916.3 774.6L1916.9 772.7L1917.5 773.8L1918.1 774.3L1918.7 772.6L1919.3 772.0L1919.9 771.6L1920.5 772.2L1921.1 771.9L1921.7 773.0L1922.3 772.1L1922.9 775.0L1923.5 771.6L1924.1 776.0L1924.7 772.4L1925.3 772.5L1925.9 774.6L1926.5 772.2L1927.1 770.3L1927.7 775.1L1928.3 776.2L1928.9 770.4L1929.5 774.8L1930.1 773.0L1930.7 773.7L1931.3 776.9L1931.9 771.9L1932.5 773.4L1933.1 776.6L1933.7 774.9L1934.3 775.4L1934.9 773.5L1935.5 773.4L1936.1 773.5L1936.7 775.3L1937.3 774.3L1937.9 775.9L1938.5 779.7L1939.1 772.3L1939.7 775.9L1940.3 775.4L1940.9 773.8L1941.5 776.0L1942.1 774.3L1942.7 773.7L1943.3 776.1L1943.9 778.8L1944.5 775.9L1945.1 777.1L1945.7 775.4L1946.3 775.4L1946.9 774.3L1947.5 776.8L1948.1 777.7L1948.7 774.2L1949.3 774.0L1949.9 778.1L1950.5 776.3L1951.1 774.9L1951.7 778.7L1952.3 777.4L1952.9 777.2L1953.5 777.9L1954.1 777.0L1954.7 782.7L1955.3 774.9L1955.9 777.7L1956.5 779.5L1957.1 779.4L1957.7 777.0L1958.3 778.5L1958.9 779.0L1959.5 781.4L1960.1 781.9L1960.7 782.1L1961.3 780.0L1961.9 782.0L1962.5 780.9" fill="none" stroke="#E76F51" stroke-width="5.0" stroke-linejoin="round" stroke-linecap="butt"/>
<path d="M152.0 954.7L152.6 943.3L153.2 939.4L153.8 930.2L154.4 947.8L155.0 958.8L155.6 950.6L156.2 953.9L156.8 957.5L157.4 944.6L158.0 968.7L158.6 944.7L159.2 953.3L159.8 969.5L160.4 950.1L161.0 951.8L161.6 947.6L162.2 953.4L162.8 936.7L163.4 946.9L164.0 962.9L164.6 952.8L165.2 949.8L165.8 954.1L166.4 954.4L167.0 952.7L167.6 955.7L168.2 940.5L168.8 955.9L169.4 947.4L170.0 957.4L170.6 951.9L171.2 945.4L171.8 951.7L172.4 945.4L173.0 959.3L173.6 952.2L174.2 958.3L174.8 945.0L175.4 963.7L176.0 950.6L176.6 962.1L177.2 958.6L177.8 945.4L178.4 955.2L179.0 949.3L179.6 955.9L180.2 962.9L180.8 957.9L181.4 960.6L182.0 945.4L182.6 954.8L183.2 955.9L183.8 961.0L184.4 949.4L185.0 957.6L185.6 956.7L186.2 943.5L186.8 946.8L187.4 957.0L188.0 946.0L188.6 945.8L189.2 960.3L189.8 956.2L190.4 952.7L191.0 955.1L191.6 951.7L192.2 950.9L192.8 951.4L193.4 957.3L194.0 963.7L194.6 951.6L195.2 954.4L195.8 953.4L196.4 946.4L197.0 956.7L197.6 961.0L198.2 949.4L198.8 960.9L199.4 951.4L200.0 963.2L200.6 963.7L201.2 952.9L201.8 942.0L202.4 953.3L203.0 946.2L203.6 946.8L204.2 954.1L204.8 965.1L205.4 955.3L206.0 954.5L206.6 943.5L207.2 952.0L207.8 946.7L208.4 959.8L209.0 952.8L209.6 956.1L210.2 956.4L210.8 955.3L211.4 963.1L212.0 960.0L212.6 954.6L213.2 957.8L213.8 960.6L214.4 966.2L215.0 957.9L215.6 966.9L216.2 953.1L216.8 955.6L217.4 947.2L218.0 962.9L218.6 950.4L219.2 950.5L219.8 963.2L220.4 954.0L221.0 952.5L221.6 964.1L222.2 956.5L222.8 964.0L223.4 955.2L224.0 962.9L224.6 965.3L225.2 958.6L225.8 970.3L226.4 955.5L227.0 956.9L227.6 958.9L228.2 965.2L228.8 956.5L229.4 955.6L230.0 960.3L230.6 967.1L231.2 955.9L231.8 950.2L232.4 958.0L233.0 963.1L233.6 955.3L234.2 959.9L234.8 946.5L235.4 959.3L236.0 959.9L236.6 963.5L237.2 961.4L237.8 964.6L238.4 952.8L239.0 964.0L239.6 948.5L240.2 955.7L240.8 967.1L241.4 965.5L242.0 947.4L242.6 963.8L243.2 957.1L243.8 954.8L244.4 961.5L245.0 961.0L245.6 969.5L246.2 950.6L246.8 957.5L247.4 959.4L248.0 948.2L248.6 968.4L249.2 972.3L249.8 956.5L250.4 963.2L251.0 959.0L251.6 962.6L252.2 956.4L252.8 966.5L253.4 953.2L254.0 970.2L254.6 963.5L255.2 977.3L255.8 950.3L256.4 960.7L257.0 952.8L257.6 960.5L258.2 964.4L258.8 955.4L259.4 952.1L260.0 950.1L260.6 963.2L261.2 970.3L261.8 969.6L262.4 962.1L263.0 955.6L263.6 959.6L264.2 952.1L264.8 951.7L265.4 969.3L266.0 960.4L266.6 964.4L267.2 960.6L267.8 971.2L268.4 972.0L269.0 957.4L269.6 960.2L270.2 958.2L270.8 971.5L271.4 971.1L272.0 960.9L272.6 978.1L273.2 963.2L273.8 955.0L274.4 949.7L275.0 962.2L275.6 965.3L276.2 959.4L276.8 965.7L277.4 971.3L278.0 963.1L278.6 969.1L279.2 974.6L279.8 966.9L280.4 959.9L281.0 966.6L281.6 967.3L282.2 978.0L282.8 961.1L283.4 953.8L284.0 966.0L284.6 966.3L285.2 961.4L285.8 967.9L286.4 966.4L287.0 972.3L287.6 958.9L288.2 959.8L288.8 964.4L289.4 961.2L290.0 973.0L290.6 968.5L291.2 964.6L291.8 974.8L292.4 968.2L293.0 971.5L293.6 970.3L294.2 964.1L294.8 964.2L295.4 965.2L296.0 958.1L296.6 963.0L297.2 970.9L297.8 967.4L298.4 959.3L299.0 981.0L299.6 958.8L300.2 969.7L300.8 970.4L301.4 974.1L302.0 960.2L302.6 966.0L303.2 964.7L303.8 973.5L304.4 968.6L305.0 968.9L305.6 969.8L306.2 979.1L306.8 970.8L307.4 972.2L308.0 960.5L308.6 971.2L309.2 958.6L309.8 973.0L310.4 967.9L311.0 961.2L311.6 959.6L312.2 966.6L312.8 968.0L313.4 963.7L314.0 965.2L314.6 965.5L315.2 964.1L315.8 966.4L316.4 969.4L317.0 976.2L317.6 972.0L318.2 964.2L318.8 978.5L319.4 975.8L320.0 966.5L320.6 974.9L321.2 964.9L321.8 963.5L322.4 963.8L323.0 979.0L323.6 969.5L324.2 970.8L324.8 969.2L325.4 966.3L326.0 972.1L326.6 973.4L327.2 981.8L327.8 963.7L328.4 979.2L329.0 973.6L329.6 958.3L330.2 975.8L330.8 980.0L331.4 976.7L332.0 971.3L332.6 970.8L333.2 957.1L333.8 972.0L334.4 971.1L335.0 964.0L335.6 971.3L336.2 965.9L336.8 984.7L337.4 962.4L338.0 964.5L338.6 956.4L339.2 967.7L339.8 971.0L340.4 970.4L341.0 966.2L341.6 976.0L342.2 971.9L342.8 978.1L343.4 969.8L344.0 959.3L344.6 969.6L345.2 964.2L345.8 976.0L346.4 966.8L347.0 969.2L347.6 970.6L348.2 961.1L348.8 968.4L349.4 976.5L350.0 967.3L350.6 969.9L351.2 972.1L351.8 966.7L352.4 969.2L353.0 973.9L353.6 968.8L354.2 971.6L354.8 970.4L355.4 964.7L356.0 963.1L356.6 984.0L357.2 980.3L357.8 970.8L358.4 977.6L359.0 978.7L359.6 977.8L360.2 969.5L360.8 962.7L361.4 963.9L362.0 970.5L362.6 980.6L363.2 982.0L363.8 970.7L364.4 970.1L365.0 979.9L365.6 985.4L366.2 966.6L366.8 975.5L367.4 973.5L368.0 970.6L368.6 970.7L369.2 970.7L369.8 972.8L370.4 963.2L371.0 972.9L371.6 978.0L372.2 977.9L372.8 978.1L373.4 975.3L374.0 974.5L374.6 985.6L375.2 972.3L375.8 974.5L376.4 981.4L377.0 973.8L377.6 965.5L378.2 970.2L378.8 971.1L379.4 972.9L380.0 971.1L380.6 980.2L381.2 978.5L381.8 977.1L382.4 971.6L383.0 980.7L383.6 980.5L384.2 988.1L384.8 970.6L385.4 973.8L386.0 983.2L386.6 967.8L387.2 976.3L387.8 976.1L388.4 975.2L389.0 969.0L389.6 975.2L390.2 965.7L390.8 982.5L391.4 972.1L392.0 976.1L392.6 975.1L393.2 976.4L393.8 976.1L394.4 978.0L395.0 973.1L395.6 975.6L396.2 968.6L396.8 969.0L397.4 970.3L398.0 969.4L398.6 967.2L399.2 971.8L399.8 979.7L400.4 978.4L401.0 973.3L401.6 977.9L402.2 978.3L402.8 992.7L403.4 966.3L404.0 977.8L404.6 968.1L405.2 984.1L405.8 975.1L406.4 979.2L407.0 977.8L407.6 980.9L408.2 958.6L408.8 969.6L409.4 977.3L410.0 968.6L410.6 980.3L411.2 984.6L411.8 969.0L412.4 974.4L413.0 981.0L413.6 988.4L414.2 983.5L414.8 981.8L415.4 972.0L416.0 977.6L416.6 978.3L417.2 973.8L417.8 980.1L418.4 975.7L419.0 975.0L419.6 990.8L420.2 976.8L420.8 989.3L421.4 975.6L422.0 977.5L422.6 970.4L423.2 974.6L423.8 987.8L424.4 978.3L425.0 966.0L425.6 987.0L426.2 972.9L426.8 975.8L427.4 978.1L428.0 967.0L428.6 987.9L429.2 986.4L429.8 976.6L430.4 980.8L431.0 976.9L431.6 975.1L432.2 977.4L432.8 970.1L433.4 976.5L434.0 975.6L434.6 990.7L435.2 970.2L435.8 986.8L436.4 983.6L437.0 980.2L437.6 975.7L438.2 990.3L438.8 988.3L439.4 979.3L440.0 978.4L440.6 980.8L441.2 990.7L441.8 974.3L442.4 980.3L443.0 986.8L443.6 971.6L444.2 979.5L444.8 986.8L445.4 977.5L446.0 979.5L446.6 971.0L447.2 982.6L447.8 973.3L448.4 978.1L449.0 982.5L449.6 977.2L450.2 985.8L450.8 985.0L451.4 983.7L452.0 986.7L452.6 979.9L453.2 968.0L453.8 986.1L454.4 985.7L455.0 978.3L455.6 976.2L456.2 988.1L456.8 978.5L457.4 979.0L458.0 978.7L458.6 995.3L459.2 977.2L459.8 966.1L460.4 980.8L461.0 975.3L461.6 971.0L462.2 982.1L462.8 978.2L463.4 986.6L464.0 979.4L464.6 988.4L465.2 987.3L465.8 981.7L466.4 986.1L467.0 992.3L467.6 985.7L468.2 973.3L468.8 982.2L469.4 983.0L470.0 989.2L470.6 981.2L471.2 988.6L471.8 981.3L472.4 982.2L473.0 980.7L473.6 982.2L474.2 981.3L474.8 984.2L475.4 977.8L476.0 976.2L476.6 981.8L477.2 983.2L477.8 980.1L478.4 984.8L479.0 984.4L479.6 992.3L480.2 974.1L480.8 994.1L481.4 969.0L482.0 972.3L482.6 984.1L483.2 977.0L483.8 980.8L484.4 980.0L485.0 975.0L485.6 974.7L486.2 980.4L486.8 984.7L487.4 986.1L488.0 983.7L488.6 980.8L489.2 989.7L489.8 970.2L490.4 983.0L491.0 990.2L491.6 992.2L492.2 989.9L492.8 990.8L493.4 989.0L494.0 983.9L494.6 970.3L495.2 980.3L495.8 981.7L496.4 992.4L497.0 980.9L497.6 981.4L498.2 987.2L498.8 977.9L499.4 983.7L500.0 986.8L500.6 981.8L501.2 983.3L501.8 973.5L502.4 976.6L503.0 982.3L503.6 990.3L504.2 980.5L504.8 978.5L505.4 979.2L506.0 987.6L506.6 975.7L507.2 984.8L507.8 981.8L508.4 984.3L509.0 979.7L509.6 984.5L510.2 991.7L510.8 982.4L511.4 981.2L512.0 969.4L512.6 986.8L513.2 980.4L513.8 986.3L514.4 984.8L515.0 979.7L515.6 980.5L516.2 976.6L516.8 995.6L517.4 989.6L518.0 989.1L518.6 991.2L519.2 992.3L519.8 989.4L520.4 990.4L521.0 998.7L521.6 974.9L522.2 985.8L522.8 981.2L523.4 985.1L524.0 970.5L524.6 978.7L525.2 989.5L525.8 977.8L526.4 988.1L527.0 980.3L527.6 984.0L528.2 976.4L528.8 981.5L529.4 976.5L530.0 988.2L530.6 975.3L531.2 987.0L531.8 982.1L532.4 984.3L533.0 993.4L533.6 983.9L534.2 981.8L534.8 985.5L535.4 989.4L536.0 982.4L536.6 995.2L537.2 986.6L537.8 983.6L538.4 982.0L539.0 984.9L539.6 988.9L540.2 991.8L540.8 986.3L541.4 982.5L542.0 985.6L542.6 974.0L543.2 992.2L543.8 990.7L544.4 984.9L545.0 990.0L545.6 980.6L546.2 996.4L546.8 985.6L547.4 984.1L548.0 998.5L548.6 981.7L549.2 989.6L549.8 982.6L550.4 984.4L551.0 985.9L551.6 984.3L552.2 995.9L552.8 993.8L553.4 984.5L554.0 1001.1L554.6 987.5L555.2 986.7L555.8 990.0L556.4 982.0L557.0 995.3L557.6 982.6L558.2 980.7L558.8 993.6L559.4 982.5L560.0 986.2L560.6 980.8L561.2 985.0L561.8 988.0L562.4 974.0L563.0 986.9L563.6 982.8L564.2 995.1L564.8 998.6L565.4 990.2L566.0 990.5L566.6 993.1L567.2 993.1L567.8 979.2L568.4 979.8L569.0 984.3L569.6 979.3L570.2 985.1L570.8 987.5L571.4 982.4L572.0 989.5L572.6 994.9L573.2 987.1L573.8 989.3L574.4 986.7L575.0 986.4L575.6 984.0L576.2 980.6L576.8 990.0L577.4 992.9L578.0 986.6L578.6 987.4L579.2 979.2L579.8 985.5L580.4 988.5L581.0 986.3L581.6 987.1L582.2 981.3L582.8 979.8L583.4 985.4L584.0 995.0L584.6 984.7L585.2 978.6L585.8 983.2L586.4 985.7L587.0 993.5L587.6 992.8L588.2 982.5L588.8 981.3L589.4 985.5L590.0 986.9L590.6 981.4L591.2 992.2L591.8 984.5L592.4 988.3L593.0 985.9L593.6 989.8L594.2 986.3L594.8 988.3L595.4 993.7L596.0 988.3L596.6 994.9L597.2 980.1L597.8 985.9L598.4 981.3L599.0 979.2L599.6 986.8L600.2 997.4L600.8 988.4L601.4 992.5L602.0 976.6L602.6 988.3L603.2 980.8L603.8 988.3L604.4 992.7L605.0 984.4L605.6 993.0L606.2 982.8L606.8 987.6L607.4 983.6L608.0 987.5L608.6 986.2L609.2 975.1L609.8 985.0L610.4 984.3L611.0 996.2L611.6 973.4L612.2 987.4L612.8 991.5L613.4 997.3L614.0 994.1L614.6 986.8L615.2 995.0L615.8 986.4L616.4 986.1L617.0 985.3L617.6 985.1L618.2 995.5L618.8 978.3L619.4 978.8L620.0 992.3L620.6 989.7L621.2 991.9L621.8 985.9L622.4 990.8L623.0 985.9L623.6 984.5L624.2 984.9L624.8 988.0L625.4 987.6L626.0 985.1L626.6 995.8L627.2 989.7L627.8 985.4L628.4 980.2L629.0 986.9L629.6 978.5L630.2 982.5L630.8 981.1L631.4 982.5L632.0 988.3L632.6 969.8L633.2 995.1L633.8 989.6L634.4 984.8L635.0 983.9L635.6 991.1L636.2 986.6L636.8 996.5L637.4 986.4L638.0 982.2L638.6 979.6L639.2 986.7L639.8 992.8L640.4 980.8L641.0 994.1L641.6 991.9L642.2 985.7L642.8 994.3L643.4 978.1L644.0 975.8L644.6 989.0L645.2 989.8L645.8 989.6L646.4 987.4L647.0 979.8L647.6 990.6L648.2 985.7L648.8 992.4L649.4 988.9L650.0 981.5L650.6 991.0L651.2 992.1L651.8 992.1L652.4 984.1L653.0 982.3L653.6 992.2L654.2 987.6L654.8 987.3L655.4 993.3L656.0 993.6L656.6 990.7L657.2 986.9L657.8 996.1L658.4 982.6L659.0 988.1L659.6 989.9L660.2 980.8L660.8 984.4L661.4 992.9L662.0 987.8L662.6 982.6L663.2 997.2L663.8 989.3L664.4 988.9L665.0 998.1L665.6 980.6L666.2 985.6L666.8 983.6L667.4 995.5L668.0 984.2L668.6 1001.1L669.2 991.1L669.8 990.2L670.4 993.8L671.0 987.5L671.6 983.8L672.2 985.5L672.8 988.8L673.4 983.5L674.0 989.4L674.6 985.4L675.2 987.7L675.8 988.4L676.4 997.2L677.0 1001.1L677.6 998.9L678.2 988.6L678.8 985.9L679.4 995.2L680.0 996.8L680.6 994.8L681.2 986.9L681.8 991.7L682.4 988.7L683.0 995.6L683.6 995.1L684.2 991.4L684.8 988.1L685.4 999.6L686.0 991.4L686.6 994.8L687.2 993.4L687.8 994.7L688.4 996.7L689.0 988.8L689.6 988.3L690.2 993.9L690.8 973.9L691.4 990.4L692.0 988.3L692.6 994.6L693.2 992.6L693.8 989.8L694.4 984.8L695.0 990.0L695.6 989.2L696.2 991.2L696.8 992.0L697.4 987.2L698.0 993.6L698.6 988.2L699.2 993.1L699.8 992.4L700.4 997.5L701.0 990.9L701.6 999.3L702.2 989.1L702.8 986.5L703.4 994.4L704.0 984.6L704.6 992.9L705.2 993.0L705.8 992.0L706.4 993.2L707.0 992.1L707.6 997.7L708.2 990.5L708.8 981.1L709.4 989.3L710.0 995.5L710.6 996.3L711.2 994.7L711.8 991.4L712.4 986.5L713.0 999.3L713.6 988.3L714.2 985.7L714.8 978.8L715.4 1001.1L716.0 991.3L716.6 981.8L717.2 995.7L717.8 994.7L718.4 982.7L719.0 995.3L719.6 991.4L720.2 994.8L720.8 998.3L721.4 989.2L722.0 1002.5L722.6 990.8L723.2 988.3L723.8 997.4L724.4 987.9L725.0 989.6L725.6 995.5L726.2 986.8L726.8 984.4L727.4 992.7L728.0 991.1L728.6 988.3L729.2 995.9L729.8 985.0L730.4 994.9L731.0 985.6L731.6 993.4L732.2 984.8L732.8 994.2L733.4 990.6L734.0 988.8L734.6 991.2L735.2 990.1L735.8 995.0L736.4 987.5L737.0 993.0L737.6 989.2L738.2 987.6L738.8 988.2L739.4 985.1L740.0 992.3L740.6 991.1L741.2 992.4L741.8 982.5L742.4 988.4L743.0 998.1L743.6 996.7L744.2 990.0L744.8 990.7L745.4 991.6L746.0 996.0L746.6 998.1L747.2 992.3L747.8 992.1L748.4 990.8L749.0 992.5L749.6 999.8L750.2 987.6L750.8 994.1L751.4 985.2L752.0 985.5L752.6 982.5L753.2 987.8L753.8 998.2L754.4 999.0L755.0 994.8L755.6 990.6L756.2 996.1L756.8 985.5L757.4 983.6L758.0 986.3L758.6 989.6L759.2 981.5L759.8 986.6L760.4 998.9L761.0 989.5L761.6 988.5L762.2 987.2L762.8 993.9L763.4 993.6L764.0 990.8L764.6 989.4L765.2 979.6L765.8 982.8L766.4 988.1L767.0 987.2L767.6 988.4L768.2 987.6L768.8 998.7L769.4 995.5L770.0 984.4L770.6 993.5L771.2 991.6L771.8 989.5L772.4 988.4L773.0 991.4L773.6 998.8L774.2 986.9L774.8 988.7L775.4 988.9L776.0 981.1L776.6 989.4L777.2 985.3L777.8 990.6L778.4 991.3L779.0 998.2L779.6 988.2L780.2 987.9L780.8 992.8L781.4 999.0L782.0 990.1L782.6 991.6L783.2 992.0L783.8 991.6L784.4 986.6L785.0 985.2L785.6 985.6L786.2 987.1L786.8 990.4L787.4 984.6L788.0 985.0L788.6 988.7L789.2 988.0L789.8 989.1L790.4 982.4L791.0 997.8L791.6 987.4L792.2 987.1L792.8 984.1L793.4 990.4L794.0 993.1L794.6 987.9L795.2 987.5L795.8 986.7L796.4 998.8L797.0 990.7L797.6 985.7L798.2 988.5L798.8 992.8L799.4 988.4L800.0 989.0L800.6 988.3L801.2 986.5L801.8 990.1L802.4 995.2L803.0 989.5L803.6 985.6L804.2 982.9L804.8 986.4L805.4 983.9L806.0 982.3L806.6 989.4L807.2 987.6L807.8 991.2L808.4 988.1L809.0 983.6L809.6 989.9L810.2 987.1L810.8 991.7L811.4 979.6L812.0 982.1L812.6 983.5L813.2 990.0L813.8 983.6L814.4 974.5L815.0 974.4L815.6 980.5L816.2 968.6L816.8 971.6L817.4 973.1L818.0 970.6L818.6 972.6L819.2 974.0L819.8 970.0L820.4 960.6L821.0 973.3L821.6 970.8L822.2 959.8L822.8 961.4L823.4 955.1L824.0 969.0L824.6 957.9L825.2 961.8L825.8 961.3L826.4 964.8L827.0 957.5L827.6 954.0L828.2 958.4L828.8 959.5L829.4 950.1L830.0 951.6L830.6 942.4L831.2 957.9L831.8 945.1L832.4 953.3L833.0 951.5L833.6 949.7L834.2 949.4L834.8 937.8L835.4 942.0L836.0 935.0L836.6 936.6L837.2 931.1L837.8 948.1L838.4 933.4L839.0 936.3L839.6 924.5L840.2 937.9L840.8 924.8L841.4 922.8L842.0 920.7L842.6 911.5L843.2 907.1L843.8 919.8L844.4 910.5L845.0 914.5L845.6 927.6L846.2 911.8L846.8 925.5L847.4 913.4L848.0 903.1L848.6 912.9L849.2 915.2L849.8 912.0L850.4 901.3L851.0 897.6L851.6 909.3L852.2 914.9L852.8 913.0L853.4 897.9L854.0 897.7L854.6 900.0L855.2 904.6L855.8 899.1L856.4 898.1L857.0 894.2L857.6 875.2L858.2 883.8L858.8 892.3L859.4 879.6L860.0 903.5L860.6 883.0L861.2 892.4L861.8 893.4L862.4 894.1L863.0 877.4L863.6 883.4L864.2 894.8L864.8 884.0L865.4 888.6L866.0 865.0L866.6 884.4L867.2 882.2L867.8 879.6L868.4 867.3L869.0 874.1L869.6 876.8L870.2 875.4L870.8 869.6L871.4 884.7L872.0 883.1L872.6 873.0L873.2 885.3L873.8 865.5L874.4 875.5L875.0 884.3L875.6 875.9L876.2 869.9L876.8 874.0L877.4 869.0L878.0 865.4L878.6 863.2L879.2 868.6L879.8 866.9L880.4 869.9L881.0 861.1L881.6 868.9L882.2 873.6L882.8 861.9L883.4 877.9L884.0 860.7L884.6 860.8L885.2 862.0L885.8 857.9L886.4 856.1L887.0 859.6L887.6 867.0L888.2 863.7L888.8 881.2L889.4 870.0L890.0 869.6L890.6 869.9L891.2 878.9L891.8 878.0L892.4 881.4L893.0 886.8L893.6 893.5L894.2 878.3L894.8 891.1L895.4 888.4L896.0 891.6L896.6 887.7L897.2 897.7L897.8 899.5L898.4 899.7L899.0 894.0L899.6 905.7L900.2 896.8L900.8 895.2L901.4 912.6L902.0 908.8L902.6 901.6L903.2 909.7L903.8 916.6L904.4 924.9L905.0 919.8L905.6 918.5L906.2 919.4L906.8 920.0L907.4 929.8L908.0 928.2L908.6 938.8L909.2 933.3L909.8 946.0L910.4 940.9L911.0 944.7L911.6 946.2L912.2 948.4L912.8 960.5L913.4 949.9L914.0 953.2L914.6 956.9L915.2 963.9L915.8 957.1L916.4 972.0L917.0 961.3L917.6 965.4L918.2 970.9L918.8 973.4L919.4 969.9L920.0 981.1L920.6 987.7L921.2 980.4L921.8 985.9L922.4 987.4L923.0 997.6L923.6 987.4L924.2 989.3L924.8 986.5L925.4 989.8L926.0 987.3L926.6 987.2L927.2 988.0L927.8 993.7L928.4 988.3L929.0 994.0L929.6 989.6L930.2 996.0L930.8 985.2L931.4 985.8L932.0 994.1L932.6 998.4L933.2 989.6L933.8 982.3L934.4 997.2L935.0 994.5L935.6 989.1L936.2 999.1L936.8 999.0L937.4 990.2L938.0 991.4L938.6 996.3L939.2 996.5L939.8 999.8L940.4 996.0L941.0 1002.7L941.6 992.2L942.2 989.9L942.8 991.3L943.4 990.7L944.0 993.7L944.6 990.6L945.2 998.0L945.8 999.9L946.4 1001.9L947.0 992.4L947.6 989.0L948.2 993.1L948.8 995.1L949.4 992.8L950.0 997.1L950.6 997.3L951.2 996.7L951.8 991.3L952.4 999.0L953.0 991.5L953.6 984.5L954.2 994.6L954.8 1000.6L955.4 995.2L956.0 988.1L956.6 993.8L957.2 1000.5L957.8 996.1L958.4 994.9L959.0 990.1L959.6 995.3L960.2 992.7L960.8 1002.3L961.4 997.2L962.0 999.5L962.6 989.0L963.2 996.1L963.8 999.8L964.4 1003.7L965.0 1002.1L965.6 993.0L966.2 1009.2L966.8 996.0L967.4 995.5L968.0 995.6L968.6 992.2L969.2 995.6L969.8 994.3L970.4 995.3L971.0 994.3L971.6 996.3L972.2 1000.4L972.8 994.5L973.4 992.6L974.0 1000.1L974.6 997.6L975.2 1000.8L975.8 994.0L976.4 997.5L977.0 994.5L977.6 992.5L978.2 996.1L978.8 997.7L979.4 999.6L980.0 993.3L980.6 1001.6L981.2 1003.0L981.8 1000.0L982.4 996.8L983.0 995.1L983.6 1002.9L984.2 995.4L984.8 1004.4L985.4 991.2L986.0 990.8L986.6 1000.9L987.2 993.8L987.8 1003.4L988.4 997.4L989.0 997.1L989.6 1000.7L990.2 1004.0L990.8 1003.0L991.4 998.8L992.0 998.2L992.6 1003.1L993.2 996.5L993.8 995.8L994.4 996.1L995.0 1013.6L995.6 1006.3L996.2 1002.3L996.8 998.9L997.4 1002.6L998.0 993.6L998.6 999.4L999.2 1004.4L999.8 1001.4L1000.4 995.8L1001.0 1000.4L1001.6 999.9L1002.2 1006.5L1002.8 1004.3L1003.4 1001.5L1004.0 1010.1L1004.6 999.0L1005.2 1006.0L1005.8 1003.1L1006.4 1000.8L1007.0 999.2L1007.6 1003.5L1008.2 1007.6L1008.8 994.6L1009.4 1001.8L1010.0 1005.2L1010.6 998.1L1011.2 998.4L1011.8 1007.4L1012.4 1000.5L1013.0 999.9L1013.6 1003.3L1014.2 1002.8L1014.8 1004.0L1015.4 1004.0L1016.0 1007.6L1016.6 1003.3L1017.2 1005.5L1017.8 998.4L1018.4 1002.7L1019.0 999.6L1019.6 1007.7L1020.2 1003.1L1020.8 1006.8L1021.4 1000.9L1022.0 998.0L1022.6 1005.0L1023.2 1001.2L1023.8 995.7L1024.4 1000.6L1025.0 998.6L1025.6 1007.6L1026.2 1001.5L1026.8 1004.7L1027.4 1004.0L1028.0 1006.9L1028.6 1003.8L1029.2 1004.0L1029.8 1003.6L1030.4 996.4L1031.0 1001.9L1031.6 996.9L1032.2 996.9L1032.8 1002.0L1033.4 994.4L1034.0 1000.5L1034.6 1005.4L1035.2 1001.0L1035.8 1004.3L1036.4 996.8L1037.0 1000.9L1037.6 990.3L1038.2 996.4L1038.8 998.1L1039.4 1008.1L1040.0 1009.0L1040.6 992.9L1041.2 999.2L1041.8 997.8L1042.4 1007.4L1043.0 1004.4L1043.6 999.5L1044.2 1004.3L1044.8 1005.9L1045.4 998.3L1046.0 1005.1L1046.6 1003.4L1047.2 1004.2L1047.8 994.2L1048.4 1000.9L1049.0 991.5L1049.6 1002.5L1050.2 998.0L1050.8 1006.7L1051.4 1007.2L1052.0 994.3L1052.6 1007.7L1053.2 999.5L1053.8 1005.4L1054.4 1002.0L1055.0 1000.0L1055.6 1000.5L1056.2 999.5L1056.8 1007.4L1057.4 1001.9L1058.0 997.4L1058.6 1004.2L1059.2 999.5L1059.8 1003.7L1060.4 998.3L1061.0 1003.0L1061.6 997.7L1062.2 998.3L1062.8 1002.9L1063.4 1005.2L1064.0 1002.3L1064.6 1001.3L1065.2 1012.4L1065.8 1001.2L1066.4 991.1L1067.0 1004.1L1067.6 999.4L1068.2 995.6L1068.8 1006.0L1069.4 1005.2L1070.0 1000.2L1070.6 999.7L1071.2 1001.7L1071.8 1006.0L1072.4 997.9L1073.0 1007.3L1073.6 1002.8L1074.2 1003.6L1074.8 1008.2L1075.4 1000.8L1076.0 1004.6L1076.6 1002.1L1077.2 989.7L1077.8 1001.3L1078.4 1002.1L1079.0 1001.2L1079.6 1006.9L1080.2 999.8L1080.8 1003.9L1081.4 1003.2L1082.0 1003.6L1082.6 994.8L1083.2 999.9L1083.8 999.8L1084.4 1008.3L1085.0 1000.4L1085.6 1004.3L1086.2 1002.8L1086.8 996.1L1087.4 997.2L1088.0 1002.8L1088.6 1004.7L1089.2 1008.2L1089.8 1000.7L1090.4 996.6L1091.0 1001.5L1091.6 996.2L1092.2 1007.3L1092.8 1000.4L1093.4 1001.6L1094.0 1009.3L1094.6 1003.5L1095.2 996.6L1095.8 1003.6L1096.4 999.1L1097.0 996.7L1097.6 998.4L1098.2 996.1L1098.8 1003.9L1099.4 998.3L1100.0 1000.2L1100.6 1006.0L1101.2 1001.1L1101.8 1000.0L1102.4 1002.5L1103.0 999.7L1103.6 1002.3L1104.2 1001.2L1104.8 1005.6L1105.4 1000.7L1106.0 998.6L1106.6 1000.6L1107.2 993.5L1107.8 1001.6L1108.4 1005.5L1109.0 1010.1L1109.6 1003.8L1110.2 1007.4L1110.8 994.9L1111.4 1007.8L1112.0 1004.2L1112.6 1007.3L1113.2 1000.5L1113.8 1004.2L1114.4 1003.3L1115.0 1000.9L1115.6 1002.2L1116.2 1008.6L1116.8 996.6L1117.4 1001.3L1118.0 1004.5L1118.6 1008.3L1119.2 998.3L1119.8 997.4L1120.4 994.7L1121.0 1003.9L1121.6 1002.0L1122.2 1002.6L1122.8 1002.4L1123.4 995.8L1124.0 1007.1L1124.6 1006.6L1125.2 997.6L1125.8 1000.1L1126.4 999.1L1127.0 999.8L1127.6 1010.2L1128.2 1006.8L1128.8 998.9L1129.4 1011.1L1130.0 1005.1L1130.6 1004.0L1131.2 1000.1L1131.8 1000.4L1132.4 1002.7L1133.0 1014.8L1133.6 999.3L1134.2 1000.7L1134.8 1007.0L1135.4 1004.3L1136.0 1000.5L1136.6 1014.4L1137.2 1002.7L1137.8 1001.3L1138.4 1002.9L1139.0 1006.0L1139.6 1006.5L1140.2 1007.7L1140.8 1005.1L1141.4 1002.3L1142.0 1009.6L1142.6 1003.4L1143.2 1001.9L1143.8 1007.0L1144.4 1008.9L1145.0 1002.4L1145.6 1002.3L1146.2 1003.6L1146.8 1001.3L1147.4 1002.8L1148.0 1007.3L1148.6 1006.9L1149.2 994.9L1149.8 1010.2L1150.4 1009.8L1151.0 1000.1L1151.6 1010.1L1152.2 999.3L1152.8 1010.2L1153.4 1002.5L1154.0 1006.6L1154.6 1005.5L1155.2 1007.1L1155.8 999.7L1156.4 1010.7L1157.0 1007.7L1157.6 1005.6L1158.2 1009.8L1158.8 1004.7L1159.4 1012.9L1160.0 1010.4L1160.6 1012.9L1161.2 1002.2L1161.8 1006.0L1162.4 998.0L1163.0 1005.9L1163.6 1002.2L1164.2 1001.9L1164.8 1008.5L1165.4 1004.7L1166.0 1009.3L1166.6 1000.8L1167.2 1002.0L1167.8 1006.1L1168.4 996.3L1169.0 1000.7L1169.6 1004.7L1170.2 997.4L1170.8 1006.3L1171.4 1000.7L1172.0 1007.7L1172.6 1002.0L1173.2 1010.4L1173.8 998.1L1174.4 1009.4L1175.0 999.0L1175.6 1010.2L1176.2 1004.7L1176.8 997.6L1177.4 1007.3L1178.0 1002.9L1178.6 1004.3L1179.2 1004.9L1179.8 1008.3L1180.4 1003.6L1181.0 1007.5L1181.6 1001.3L1182.2 1003.2L1182.8 1007.2L1183.4 1010.2L1184.0 1005.5L1184.6 1004.5L1185.2 1007.2L1185.8 1007.7L1186.4 1002.2L1187.0 1017.0L1187.6 1004.1L1188.2 1000.9L1188.8 1005.7L1189.4 1007.4L1190.0 1005.6L1190.6 1003.5L1191.2 1005.7L1191.8 1007.9L1192.4 1003.5L1193.0 1002.6L1193.6 1006.5L1194.2 1006.5L1194.8 1001.6L1195.4 1015.1L1196.0 1009.7L1196.6 1012.4L1197.2 1010.1L1197.8 1000.6L1198.4 1014.0L1199.0 1000.1L1199.6 1002.6L1200.2 1007.3L1200.8 1003.9L1201.4 1008.9L1202.0 1009.7L1202.6 1006.0L1203.2 1012.9L1203.8 1000.7L1204.4 1008.4L1205.0 1009.3L1205.6 1013.8L1206.2 1009.9L1206.8 1000.5L1207.4 1008.8L1208.0 1005.2L1208.6 1007.2L1209.2 1008.5L1209.8 1011.2L1210.4 1005.0L1211.0 1008.5L1211.6 1010.7L1212.2 1010.0L1212.8 1010.1L1213.4 1001.0L1214.0 1008.4L1214.6 1010.8L1215.2 1005.2L1215.8 1008.4L1216.4 1005.3L1217.0 1009.3L1217.6 1007.9L1218.2 1003.5L1218.8 1008.8L1219.4 1008.5L1220.0 1001.8L1220.6 1005.8L1221.2 1005.4L1221.8 1001.9L1222.4 1010.6L1223.0 1003.9L1223.6 1006.9L1224.2 998.7L1224.8 1005.9L1225.4 1001.5L1226.0 1007.9L1226.6 1005.4L1227.2 1010.0L1227.8 1012.7L1228.4 999.8L1229.0 1006.7L1229.6 1005.8L1230.2 1004.3L1230.8 1003.3L1231.4 1006.0L1232.0 1008.5L1232.6 1008.8L1233.2 1010.5L1233.8 1006.4L1234.4 1010.4L1235.0 1009.2L1235.6 1010.6L1236.2 1010.4L1236.8 1009.1L1237.4 1010.2L1238.0 1004.3L1238.6 999.2L1239.2 1002.1L1239.8 1008.5L1240.4 1006.8L1241.0 1004.8L1241.6 1011.7L1242.2 1009.5L1242.8 1012.9L1243.4 1002.6L1244.0 1005.0L1244.6 1008.4L1245.2 1010.2L1245.8 1012.2L1246.4 1008.2L1247.0 1012.6L1247.6 1011.6L1248.2 1007.6L1248.8 1012.2L1249.4 1008.5L1250.0 1008.7L1250.6 1002.9L1251.2 1003.8L1251.8 1004.2L1252.4 1007.9L1253.0 1002.5L1253.6 1000.0L1254.2 1006.1L1254.8 1016.3L1255.4 1007.0L1256.0 1002.9L1256.6 1005.2L1257.2 1008.6L1257.8 1010.6L1258.4 1008.1L1259.0 1013.3L1259.6 1009.7L1260.2 1003.0L1260.8 1011.0L1261.4 1004.4L1262.0 1011.1L1262.6 1007.5L1263.2 999.1L1263.8 999.4L1264.4 1006.0L1265.0 1007.3L1265.6 1010.9L1266.2 1008.9L1266.8 1012.3L1267.4 1009.6L1268.0 1007.0L1268.6 1002.9L1269.2 1012.0L1269.8 1010.7L1270.4 1010.4L1271.0 1003.8L1271.6 1010.7L1272.2 999.6L1272.8 1008.7L1273.4 1006.6L1274.0 1006.6L1274.6 995.4L1275.2 1014.0L1275.8 1002.3L1276.4 1003.3L1277.0 1004.7L1277.6 1004.0L1278.2 999.1L1278.8 1008.9L1279.4 1005.4L1280.0 1007.0L1280.6 1000.3L1281.2 1007.6L1281.8 1006.4L1282.4 1011.7L1283.0 1003.7L1283.6 998.7L1284.2 1006.6L1284.8 1007.8L1285.4 1010.8L1286.0 1009.3L1286.6 1003.2L1287.2 1006.7L1287.8 1002.2L1288.4 1008.6L1289.0 1016.8L1289.6 1002.4L1290.2 1000.9L1290.8 1001.0L1291.4 1005.0L1292.0 1007.9L1292.6 1005.1L1293.2 999.0L1293.8 1006.8L1294.4 1008.3L1295.0 1011.2L1295.6 1007.8L1296.2 999.7L1296.8 1009.3L1297.4 1004.3L1298.0 1000.3L1298.6 1005.3L1299.2 1006.1L1299.8 1006.8L1300.4 1002.4L1301.0 1003.8L1301.6 1005.6L1302.2 1006.9L1302.8 1007.3L1303.4 1000.7L1304.0 1009.5L1304.6 1000.4L1305.2 1007.0L1305.8 1005.5L1306.4 995.0L1307.0 1002.5L1307.6 1005.3L1308.2 1006.7L1308.8 1004.9L1309.4 1007.4L1310.0 1005.3L1310.6 1004.6L1311.2 1009.0L1311.8 1020.3L1312.4 1004.2L1313.0 1004.7L1313.6 1007.8L1314.2 1003.0L1314.8 1009.2L1315.4 1005.8L1316.0 1013.0L1316.6 1001.9L1317.2 1006.4L1317.8 1002.4L1318.4 1007.5L1319.0 1003.3L1319.6 1001.2L1320.2 1002.6L1320.8 1003.4L1321.4 1006.4L1322.0 1002.3L1322.6 1008.4L1323.2 1005.1L1323.8 1005.2L1324.4 1004.7L1325.0 1006.1L1325.6 1012.5L1326.2 1002.6L1326.8 1006.1L1327.4 1006.8L1328.0 1007.8L1328.6 1004.0L1329.2 997.5L1329.8 1008.7L1330.4 1008.6L1331.0 1009.7L1331.6 1008.3L1332.2 1002.3L1332.8 1011.4L1333.4 1005.2L1334.0 1008.0L1334.6 1014.2L1335.2 1011.1L1335.8 1003.4L1336.4 1007.0L1337.0 1012.0L1337.6 1010.1L1338.2 1006.2L1338.8 1001.5L1339.4 1003.2L1340.0 1005.2L1340.6 1007.2L1341.2 1011.2L1341.8 1010.7L1342.4 999.9L1343.0 1004.6L1343.6 1003.0L1344.2 1003.7L1344.8 1008.3L1345.4 1006.0L1346.0 1002.1L1346.6 1011.9L1347.2 1003.6L1347.8 1002.1L1348.4 1004.3L1349.0 1013.1L1349.6 1009.1L1350.2 1003.8L1350.8 1007.4L1351.4 1002.8L1352.0 1009.8L1352.6 1007.7L1353.2 997.6L1353.8 1006.9L1354.4 1010.7L1355.0 1000.8L1355.6 1006.3L1356.2 1004.5L1356.8 1008.0L1357.4 1000.7L1358.0 1009.7L1358.6 1005.2L1359.2 1011.6L1359.8 1009.3L1360.4 1005.1L1361.0 1002.0L1361.6 1003.9L1362.2 1011.4L1362.8 1010.0L1363.4 1007.7L1364.0 1008.0L1364.6 1005.9L1365.2 1004.0L1365.8 1005.3L1366.4 1005.0L1367.0 1003.5L1367.6 1007.2L1368.2 1014.2L1368.8 999.3L1369.4 1008.4L1370.0 1006.4L1370.6 1001.9L1371.2 1007.6L1371.8 1014.6L1372.4 1001.0L1373.0 1006.8L1373.6 1001.7L1374.2 1010.3L1374.8 1008.3L1375.4 1006.7L1376.0 1005.5L1376.6 1009.6L1377.2 1010.1L1377.8 1002.5L1378.4 1000.4L1379.0 1005.5L1379.6 1009.5L1380.2 1005.6L1380.8 1012.5L1381.4 1006.3L1382.0 1004.7L1382.6 1007.6L1383.2 1001.3L1383.8 1002.8L1384.4 1004.7L1385.0 1003.9L1385.6 1012.4L1386.2 1009.9L1386.8 1007.3L1387.4 1004.8L1388.0 1010.2L1388.6 1010.7L1389.2 1005.1L1389.8 1000.9L1390.4 1007.5L1391.0 1005.2L1391.6 1004.3L1392.2 1005.9L1392.8 1009.6L1393.4 1005.1L1394.0 1005.4L1394.6 1003.9L1395.2 1003.0L1395.8 1002.1L1396.4 1008.3L1397.0 1006.1L1397.6 1004.1L1398.2 1004.6L1398.8 1007.2L1399.4 1008.0L1400.0 1006.0L1400.6 1006.3L1401.2 1007.5L1401.8 1002.7L1402.4 1000.0L1403.0 1013.3L1403.6 1007.8L1404.2 1010.8L1404.8 1001.9L1405.4 1006.2L1406.0 1010.9L1406.6 1011.6L1407.2 1007.1L1407.8 1009.7L1408.4 1006.4L1409.0 1002.0L1409.6 1001.1L1410.2 999.9L1410.8 1003.1L1411.4 1009.5L1412.0 1004.2L1412.6 1012.6L1413.2 1009.5L1413.8 1008.5L1414.4 1002.0L1415.0 1004.8L1415.6 1008.3L1416.2 1002.3L1416.8 1008.6L1417.4 1009.6L1418.0 1007.3L1418.6 1000.1L1419.2 1006.5L1419.8 1000.8L1420.4 1010.8L1421.0 1003.0L1421.6 1003.1L1422.2 1005.4L1422.8 1003.1L1423.4 1008.4L1424.0 1006.3L1424.6 1012.1L1425.2 999.5L1425.8 1005.1L1426.4 1006.3L1427.0 1004.3L1427.6 1000.3L1428.2 1000.3L1428.8 1006.3L1429.4 1002.1L1430.0 997.9L1430.6 1000.0L1431.2 1005.5L1431.8 1006.6L1432.4 1004.3L1433.0 1007.1L1433.6 1004.9L1434.2 1005.6L1434.8 999.8L1435.4 1001.8L1436.0 1007.6L1436.6 1005.6L1437.2 1006.7L1437.8 1008.3L1438.4 995.4L1439.0 1006.8L1439.6 1007.1L1440.2 1005.0L1440.8 1005.5L1441.4 1000.0L1442.0 1006.6L1442.6 1006.3L1443.2 1005.2L1443.8 1007.2L1444.4 1009.9L1445.0 1005.1L1445.6 1002.8L1446.2 1004.7L1446.8 1009.3L1447.4 1007.3L1448.0 1004.0L1448.6 1004.2L1449.2 1005.6L1449.8 999.9L1450.4 1000.9L1451.0 1005.9L1451.6 1005.5L1452.2 1002.3L1452.8 1003.5L1453.4 1002.8L1454.0 1008.7L1454.6 1002.9L1455.2 1004.2L1455.8 1002.7L1456.4 999.4L1457.0 995.3L1457.6 1000.8L1458.2 1013.1L1458.8 1001.2L1459.4 1005.4L1460.0 1003.9L1460.6 1008.7L1461.2 1000.9L1461.8 998.0L1462.4 995.0L1463.0 1008.3L1463.6 1005.9L1464.2 994.4L1464.8 1003.9L1465.4 999.9L1466.0 1002.8L1466.6 1000.3L1467.2 1004.0L1467.8 1009.2L1468.4 1004.0L1469.0 1004.4L1469.6 1004.1L1470.2 1002.1L1470.8 1001.8L1471.4 1006.5L1472.0 1008.5L1472.6 1005.4L1473.2 1003.0L1473.8 1005.4L1474.4 1006.1L1475.0 1003.3L1475.6 999.8L1476.2 1005.4L1476.8 997.8L1477.4 1004.8L1478.0 999.1L1478.6 998.9L1479.2 1001.7L1479.8 999.2L1480.4 1002.2L1481.0 1003.2L1481.6 1001.4L1482.2 1003.5L1482.8 1006.8L1483.4 1002.2L1484.0 1000.8L1484.6 1003.5L1485.2 1003.3L1485.8 996.6L1486.4 1001.2L1487.0 997.8L1487.6 1006.7L1488.2 997.7L1488.8 999.3L1489.4 1001.8L1490.0 992.5L1490.6 994.1L1491.2 998.9L1491.8 1000.0L1492.4 995.5L1493.0 1000.7L1493.6 1002.4L1494.2 1002.5L1494.8 1006.4L1495.4 1003.1L1496.0 999.6L1496.6 1005.5L1497.2 1004.7L1497.8 999.4L1498.4 997.8L1499.0 1002.5L1499.6 1002.4L1500.2 1006.3L1500.8 1001.7L1501.4 1004.8L1502.0 1005.5L1502.6 1002.0L1503.2 1003.8L1503.8 995.7L1504.4 997.4L1505.0 1000.9L1505.6 999.6L1506.2 1000.2L1506.8 1001.4L1507.4 995.9L1508.0 1005.3L1508.6 1002.4L1509.2 1003.8L1509.8 993.8L1510.4 997.1L1511.0 994.7L1511.6 997.1L1512.2 1002.0L1512.8 1002.8L1513.4 1005.7L1514.0 999.3L1514.6 1005.9L1515.2 999.7L1515.8 1005.0L1516.4 1007.0L1517.0 999.5L1517.6 1002.3L1518.2 1005.8L1518.8 1006.4L1519.4 1000.0L1520.0 998.6L1520.6 1000.0L1521.2 1006.8L1521.8 1007.6L1522.4 1006.3L1523.0 1008.4L1523.6 1008.5L1524.2 1006.9L1524.8 1011.2L1525.4 999.2L1526.0 1001.4L1526.6 1002.3L1527.2 1007.8L1527.8 999.4L1528.4 1013.4L1529.0 1012.7L1529.6 1013.0L1530.2 1000.7L1530.8 1009.2L1531.4 1007.7L1532.0 1012.3L1532.6 1006.7L1533.2 1008.2L1533.8 1002.3L1534.4 1010.9L1535.0 1013.4L1535.6 1008.0L1536.2 999.6L1536.8 1005.2L1537.4 1003.1L1538.0 1008.9L1538.6 1006.6L1539.2 1010.1L1539.8 1009.6L1540.4 1009.4L1541.0 1012.1L1541.6 1004.0L1542.2 1012.3L1542.8 1006.7L1543.4 1004.7L1544.0 1011.5L1544.6 1010.3L1545.2 1012.3L1545.8 1013.1L1546.4 1007.3L1547.0 1011.7L1547.6 1003.9L1548.2 1009.0L1548.8 1007.4L1549.4 1005.2L1550.0 1002.8L1550.6 1009.9L1551.2 1002.2L1551.8 1006.5L1552.4 1014.6L1553.0 1014.5L1553.6 1010.5L1554.2 1007.4L1554.8 1014.6L1555.4 1008.1L1556.0 1009.5L1556.6 1011.1L1557.2 1004.8L1557.8 1002.5L1558.4 1001.4L1559.0 1003.2L1559.6 1004.0L1560.2 1006.9L1560.8 1011.1L1561.4 1007.3L1562.0 1005.8L1562.6 1010.8L1563.2 1004.7L1563.8 1012.7L1564.4 1010.2L1565.0 1013.8L1565.6 1010.4L1566.2 1009.4L1566.8 1010.8L1567.4 1010.7L1568.0 1011.3L1568.6 1010.0L1569.2 1012.3L1569.8 1006.2L1570.4 1013.6L1571.0 1007.4L1571.6 1016.8L1572.2 1006.2L1572.8 1009.1L1573.4 1017.1L1574.0 1013.1L1574.6 1006.2L1575.2 1013.1L1575.8 1009.2L1576.4 1005.6L1577.0 1015.2L1577.6 1010.2L1578.2 1017.1L1578.8 1009.0L1579.4 1010.1L1580.0 1013.7L1580.6 1007.0L1581.2 1009.5L1581.8 1002.4L1582.4 1013.0L1583.0 1014.6L1583.6 1013.6L1584.2 1010.0L1584.8 1005.2L1585.4 1015.2L1586.0 1007.3L1586.6 1009.1L1587.2 1015.4L1587.8 1012.0L1588.4 1012.2L1589.0 1017.7L1589.6 1008.6L1590.2 1013.0L1590.8 1005.3L1591.4 1008.7L1592.0 1008.8L1592.6 1009.8L1593.2 1009.6L1593.8 1003.1L1594.4 1006.1L1595.0 1011.5L1595.6 1004.3L1596.2 1013.1L1596.8 1014.2L1597.4 1003.5L1598.0 1004.0L1598.6 1015.8L1599.2 1012.6L1599.8 1006.5L1600.4 1006.9L1601.0 1007.6L1601.6 1010.1L1602.2 1004.4L1602.8 1014.1L1603.4 1005.9L1604.0 1006.7L1604.6 1009.8L1605.2 1012.3L1605.8 1009.1L1606.4 1009.9L1607.0 1014.8L1607.6 1009.3L1608.2 1008.9L1608.8 1012.7L1609.4 1011.5L1610.0 1009.1L1610.6 1007.3L1611.2 1011.5L1611.8 1011.4L1612.4 1012.1L1613.0 1007.3L1613.6 1003.8L1614.2 1004.8L1614.8 1017.7L1615.4 1007.5L1616.0 1006.8L1616.6 1007.6L1617.2 1004.2L1617.8 1005.6L1618.4 1011.8L1619.0 1012.8L1619.6 1005.7L1620.2 1008.5L1620.8 1008.1L1621.4 1010.3L1622.0 1007.8L1622.6 1007.9L1623.2 1007.2L1623.8 1007.0L1624.4 1005.1L1625.0 1010.0L1625.6 1011.4L1626.2 1003.5L1626.8 1011.2L1627.4 1006.0L1628.0 1011.8L1628.6 1010.5L1629.2 999.9L1629.8 1002.4L1630.4 1009.1L1631.0 1010.2L1631.6 1009.3L1632.2 1005.9L1632.8 1010.0L1633.4 1000.5L1634.0 1012.1L1634.6 1010.2L1635.2 1007.1L1635.8 1011.5L1636.4 1004.0L1637.0 1010.5L1637.6 1011.0L1638.2 1008.3L1638.8 1010.9L1639.4 1007.3L1640.0 1015.4L1640.6 1000.7L1641.2 1008.4L1641.8 1010.5L1642.4 1012.2L1643.0 1014.9L1643.6 1008.9L1644.2 1006.6L1644.8 1009.5L1645.4 1007.3L1646.0 1009.4L1646.6 1007.0L1647.2 1002.7L1647.8 1013.3L1648.4 1005.1L1649.0 1011.5L1649.6 1012.4L1650.2 1008.0L1650.8 1013.2L1651.4 1004.5L1652.0 1006.4L1652.6 1009.4L1653.2 1012.6L1653.8 1006.2L1654.4 1005.3L1655.0 1010.5L1655.6 1011.3L1656.2 1004.7L1656.8 1012.5L1657.4 1015.2L1658.0 1011.6L1658.6 1012.4L1659.2 1014.0L1659.8 1006.3L1660.4 1011.1L1661.0 1006.6L1661.6 1009.9L1662.2 1009.4L1662.8 1007.7L1663.4 1004.4L1664.0 1005.2L1664.6 1002.7L1665.2 1005.2L1665.8 1006.2L1666.4 1012.4L1667.0 1010.7L1667.6 1010.4L1668.2 1005.5L1668.8 1005.8L1669.4 1007.8L1670.0 1012.1L1670.6 1003.0L1671.2 1005.2L1671.8 1010.1L1672.4 1007.7L1673.0 1012.3L1673.6 1010.3L1674.2 1006.2L1674.8 1006.7L1675.4 1006.5L1676.0 1007.5L1676.6 1012.3L1677.2 1007.8L1677.8 1007.3L1678.4 1012.6L1679.0 1009.8L1679.6 1015.2L1680.2 1010.7L1680.8 1007.0L1681.4 1012.4L1682.0 1008.1L1682.6 1010.7L1683.2 1010.5L1683.8 1014.3L1684.4 1014.1L1685.0 1009.5L1685.6 1010.3L1686.2 1006.4L1686.8 1006.6L1687.4 1010.0L1688.0 1010.1L1688.6 1005.2L1689.2 1010.2L1689.8 1007.5L1690.4 1012.3L1691.0 1004.8L1691.6 1012.0L1692.2 1008.9L1692.8 1005.7L1693.4 1009.2L1694.0 1007.3L1694.6 1003.8L1695.2 1003.7L1695.8 1012.1L1696.4 1008.4L1697.0 1011.8L1697.6 1014.5L1698.2 1007.8L1698.8 1007.4L1699.4 1003.2L1700.0 1009.7L1700.6 1005.3L1701.2 1003.8L1701.8 1008.3L1702.4 1011.9L1703.0 1009.8L1703.6 1002.9L1704.2 1016.4L1704.8 1013.1L1705.4 1010.4L1706.0 1013.3L1706.6 1008.0L1707.2 1010.6L1707.8 1012.3L1708.4 1009.3L1709.0 1014.0L1709.6 1006.9L1710.2 1010.2L1710.8 1009.7L1711.4 1004.6L1712.0 1005.5L1712.6 1004.5L1713.2 1014.2L1713.8 1009.7L1714.4 1004.0L1715.0 1007.2L1715.6 1005.3L1716.2 1013.9L1716.8 1003.9L1717.4 1013.7L1718.0 1007.1L1718.6 1010.4L1719.2 1006.6L1719.8 1001.3L1720.4 1012.7L1721.0 1011.3L1721.6 1010.6L1722.2 1010.8L1722.8 1013.0L1723.4 1005.1L1724.0 1006.8L1724.6 1010.2L1725.2 1005.0L1725.8 1006.5L1726.4 1004.6L1727.0 1012.0L1727.6 1005.6L1728.2 1012.0L1728.8 1010.7L1729.4 1010.2L1730.0 1007.3L1730.6 1011.3L1731.2 1003.6L1731.8 1011.6L1732.4 1002.9L1733.0 1011.6L1733.6 1008.6L1734.2 1007.8L1734.8 1010.9L1735.4 1010.0L1736.0 1008.1L1736.6 1009.1L1737.2 1001.6L1737.8 1011.1L1738.4 1006.1L1739.0 1011.3L1739.6 1008.1L1740.2 1012.0L1740.8 1006.0L1741.4 1005.9L1742.0 1010.0L1742.6 1007.9L1743.2 1005.5L1743.8 1009.9L1744.4 1004.7L1745.0 1005.4L1745.6 1008.9L1746.2 1007.9L1746.8 1007.9L1747.4 1009.1L1748.0 1004.7L1748.6 1009.0L1749.2 1008.1L1749.8 1008.4L1750.4 1007.3L1751.0 1001.9L1751.6 1011.8L1752.2 1001.8L1752.8 1006.5L1753.4 1009.0L1754.0 1014.2L1754.6 1003.6L1755.2 1009.4L1755.8 1008.6L1756.4 1009.3L1757.0 1005.0L1757.6 1011.0L1758.2 1005.7L1758.8 1006.4L1759.4 1007.1L1760.0 1009.7L1760.6 1005.3L1761.2 1008.2L1761.8 1007.8L1762.4 1006.9L1763.0 1003.1L1763.6 1008.0L1764.2 1009.4L1764.8 1008.5L1765.4 1012.0L1766.0 1007.8L1766.6 1011.8L1767.2 1009.1L1767.8 1009.1L1768.4 1012.7L1769.0 1008.2L1769.6 1005.8L1770.2 1011.4L1770.8 1009.7L1771.4 1004.8L1772.0 1005.5L1772.6 1009.6L1773.2 1011.1L1773.8 1007.0L1774.4 1011.0L1775.0 1006.6L1775.6 1012.4L1776.2 1000.5L1776.8 1010.9L1777.4 1010.8L1778.0 1008.8L1778.6 1003.9L1779.2 1007.8L1779.8 1003.2L1780.4 1011.5L1781.0 1001.9L1781.6 1008.5L1782.2 1005.0L1782.8 1000.7L1783.4 1008.2L1784.0 1014.5L1784.6 1012.6L1785.2 1005.9L1785.8 1008.3L1786.4 1009.5L1787.0 1012.9L1787.6 1008.5L1788.2 1013.8L1788.8 1008.0L1789.4 1009.6L1790.0 1008.4L1790.6 1008.0L1791.2 1009.2L1791.8 1008.0L1792.4 1016.2L1793.0 1002.1L1793.6 1014.9L1794.2 1012.1L1794.8 1010.0L1795.4 1013.3L1796.0 1013.3L1796.6 1006.1L1797.2 1003.9L1797.8 1018.2L1798.4 1012.2L1799.0 1010.6L1799.6 1018.4L1800.2 1008.0L1800.8 1006.9L1801.4 1012.8L1802.0 1009.7L1802.6 1008.2L1803.2 1006.4L1803.8 1009.5L1804.4 1004.7L1805.0 1013.8L1805.6 1004.6L1806.2 1006.1L1806.8 1007.4L1807.4 1004.2L1808.0 1014.9L1808.6 1005.9L1809.2 1011.4L1809.8 1004.4L1810.4 1018.7L1811.0 1010.7L1811.6 1012.1L1812.2 1008.5L1812.8 1010.8L1813.4 1005.6L1814.0 1007.9L1814.6 1010.5L1815.2 1003.6L1815.8 1006.1L1816.4 1013.8L1817.0 1012.2L1817.6 1008.8L1818.2 1012.4L1818.8 1009.3L1819.4 1013.9L1820.0 1007.0L1820.6 1003.7L1821.2 1006.7L1821.8 1015.1L1822.4 1003.8L1823.0 1007.8L1823.6 1009.1L1824.2 1004.9L1824.8 1009.8L1825.4 1006.7L1826.0 1010.2L1826.6 1007.2L1827.2 1011.9L1827.8 1006.0L1828.4 1001.0L1829.0 1016.3L1829.6 1013.7L1830.2 1007.8L1830.8 1007.9L1831.4 1005.3L1832.0 1015.1L1832.6 1004.5L1833.2 1011.5L1833.8 1010.5L1834.4 1005.7L1835.0 1014.1L1835.6 1003.7L1836.2 1010.2L1836.8 1007.8L1837.4 1009.3L1838.0 1001.1L1838.6 1007.0L1839.2 1010.2L1839.8 1002.7L1840.4 1009.2L1841.0 1012.0L1841.6 1011.4L1842.2 1003.3L1842.8 1011.9L1843.4 1003.5L1844.0 1010.6L1844.6 1000.7L1845.2 1005.3L1845.8 1001.4L1846.4 1013.9L1847.0 1010.3L1847.6 1002.6L1848.2 1003.4L1848.8 1010.2L1849.4 1008.7L1850.0 1006.1L1850.6 1007.3L1851.2 1008.6L1851.8 1005.7L1852.4 1000.5L1853.0 1003.6L1853.6 1008.9L1854.2 1009.5L1854.8 1010.8L1855.4 1010.5L1856.0 1007.1L1856.6 1006.5L1857.2 1012.8L1857.8 1003.2L1858.4 1004.9L1859.0 1012.6L1859.6 1010.3L1860.2 1004.2L1860.8 1000.7L1861.4 1001.7L1862.0 1009.1L1862.6 1005.0L1863.2 1009.3L1863.8 1000.6L1864.4 1010.1L1865.0 1004.6L1865.6 1007.9L1866.2 1014.6L1866.8 1008.9L1867.4 1010.6L1868.0 1003.1L1868.6 1004.1L1869.2 1001.8L1869.8 1011.0L1870.4 1003.8L1871.0 1008.5L1871.6 1013.4L1872.2 1003.1L1872.8 1007.1L1873.4 1001.6L1874.0 1009.1L1874.6 1006.6L1875.2 1010.6L1875.8 1008.6L1876.4 1011.3L1877.0 1001.4L1877.6 1003.0L1878.2 1010.1L1878.8 1008.6L1879.4 1006.1L1880.0 1004.1L1880.6 1005.1L1881.2 1003.0L1881.8 1008.5L1882.4 1003.3L1883.0 1006.7L1883.6 1001.6L1884.2 1011.8L1884.8 1007.3L1885.4 1005.5L1886.0 1004.6L1886.6 1001.5L1887.2 1008.0L1887.8 1009.5L1888.4 1012.6L1889.0 1006.5L1889.6 1002.0L1890.2 1003.6L1890.8 1007.6L1891.4 1003.8L1892.0 1000.9L1892.6 1011.6L1893.2 1004.1L1893.8 1005.1L1894.4 1014.1L1895.0 1002.9L1895.6 1008.8L1896.2 1009.9L1896.8 1006.8L1897.4 1005.3L1898.0 1005.2L1898.6 1007.3L1899.2 1003.8L1899.8 1011.3L1900.4 1013.3L1901.0 998.3L1901.6 1009.3L1902.2 1006.5L1902.8 1007.2L1903.4 1008.1L1904.0 1006.3L1904.6 1007.8L1905.2 1003.4L1905.8 1009.8L1906.4 1010.5L1907.0 1008.8L1907.6 1011.2L1908.2 1004.8L1908.8 1009.8L1909.4 1011.3L1910.0 1004.8L1910.6 1007.6L1911.2 1005.3L1911.8 1004.9L1912.4 1013.6L1913.0 1007.1L1913.6 1004.7L1914.2 1006.8L1914.8 1007.8L1915.4 1017.7L1916.0 1011.6L1916.6 1005.3L1917.2 1008.1L1917.8 1007.7L1918.4 1005.7L1919.0 1006.6L1919.6 1006.2L1920.2 1008.6L1920.8 1011.3L1921.4 1003.1L1922.0 1004.6L1922.6 1005.3L1923.2 1009.9L1923.8 1003.2L1924.4 1004.0L1925.0 1009.3L1925.6 1003.1L1926.2 999.9L1926.8 1010.1L1927.4 1005.0L1928.0 1008.7L1928.6 1003.8L1929.2 1001.1L1929.8 1000.9L1930.4 1014.6L1931.0 1014.5L1931.6 1012.1L1932.2 1013.7L1932.8 1005.8L1933.4 1007.7L1934.0 998.8L1934.6 1005.9L1935.2 1009.3L1935.8 1006.1L1936.4 1015.1L1937.0 1003.1L1937.6 1007.4L1938.2 1004.0L1938.8 1004.9L1939.4 1003.8L1940.0 1006.2L1940.6 999.8L1941.2 1009.2L1941.8 1005.4L1942.4 1002.8L1943.0 1000.9L1943.6 1006.5L1944.2 1004.3L1944.8 1005.8L1945.4 1004.0L1946.0 1009.8L1946.6 1010.6L1947.2 1003.4L1947.8 1012.1L1948.4 1008.5L1949.0 1006.3L1949.6 1008.9L1950.2 1004.3L1950.8 1008.0L1951.4 1006.1L1952.0 1010.5L1952.6 1004.6L1953.2 1006.7L1953.8 1008.8L1954.4 1009.5L1955.0 1000.9" fill="none" stroke="#000000" stroke-width="5.0" stroke-linejoin="round" stroke-linecap="butt"/>
<path d="M648.4 1369.6V1263.8A4.6 4.6 0 0 1 657.6 1263.8V1369.6Z" fill="#FF7F00"/>
<path d="M827.8 1369.6V1232.6A4.6 4.6 0 0 1 837.0 1232.6V1369.6Z" fill="#FF7F00"/>
<path d="M1408.8 1369.6V1292.6A4.6 4.6 0 0 1 1418.0 1292.6V1369.6Z" fill="#FF7F00"/>
<path d="M1778.9 1369.6V1321.4A4.6 4.6 0 0 1 1788.1 1321.4V1369.6Z" fill="#FF7F00"/>
<path d="M1896.4 1369.6V1329.3A4.6 4.6 0 0 1 1905.6 1329.3V1369.6Z" fill="#FF7F00"/>
<path d="M853.9 1369.6V1232.6A4.6 4.6 0 0 1 863.1 1232.6V1369.6Z" fill="#0014C8"/>
<path d="M1072.0 1369.6V1254.4A4.6 4.6 0 0 1 1081.2 1254.4V1369.6Z" fill="#0014C8"/>
<path d="M1797.3 1369.6V1287.5A4.6 4.6 0 0 1 1806.5 1287.5V1369.6Z" fill="#0014C8"/>
<g font-family="Liberation Serif, Times New Roman, serif" font-weight="bold" style="font-kerning:none">
<text x="200.9" y="257.6" fill="#2A9D8F" font-size="76.2" textLength="291.4" lengthAdjust="spacing" >100 sccm</text>
<text x="201.9" y="479.6" fill="#E9C46A" font-size="76.2" textLength="290.9" lengthAdjust="spacing" >200 sccm</text>
<text x="201.6" y="711.8" fill="#E76F51" font-size="76.2" textLength="291.2" lengthAdjust="spacing" >300 sccm</text>
<text x="204.1" y="919.6" fill="#000" font-size="76.2" textLength="141.3" lengthAdjust="spacing" >base</text>
<text y="127.1" fill="#FF7F00" font-size="76.4"><tspan x="650.7 699.2 720.0">TiN</tspan><tspan font-size="71.4" x="774.2 796.9 832.1 867.1 902.3">(111)</tspan></text>
<text y="255.9" fill="#FF7F00" font-size="76.4"><tspan x="749.6 798.1 818.9">TiN</tspan><tspan font-size="71.4" x="873.1 895.8 931.0 966.0 1001.2">(200)</tspan></text>
<text y="253.6" fill="#FF7F00" font-size="76.4"><tspan x="1283.7 1332.2 1353.0">TiN</tspan><tspan font-size="71.4" x="1407.2 1429.9 1465.1 1500.1 1535.3">(220)</tspan></text>
<text y="290.3" fill="#FF7F00" font-size="76.4"><tspan x="1646.5 1695.0 1715.8">TiN</tspan><tspan font-size="71.4" x="1770.0 1792.7 1827.9 1862.9 1898.1">(311)</tspan></text>
<text x="1054.1" y="1121.2" fill="#FF7F00" font-size="76.2" textLength="715.1" lengthAdjust="spacing" >NiT PDF#00-038-1420</text>
<text x="1054.1" y="1214.7" fill="#0014C8" font-size="76.2" textLength="881.0" lengthAdjust="spacing" >Cr-Ni-Fe PDF#00-031-0619</text>
<text transform="translate(955.0 859.7) scale(-0.87 1)" font-family="DejaVu Serif, serif" font-weight="normal" font-size="68.8" fill="#0000FF">γ</text>
<text y="857.9" fill="#0000FF" font-size="71.4" x="952.96 976.2 1011.4 1046.6 1081.3">(111)</text>
<text x="148.7" y="1467.2" font-size="90.8" text-anchor="middle" fill="#000">20</text>
<text x="451.0" y="1467.2" font-size="90.8" text-anchor="middle" fill="#000">30</text>
<text x="753.3" y="1467.2" font-size="90.8" text-anchor="middle" fill="#000">40</text>
<text x="1055.6" y="1467.2" font-size="90.8" text-anchor="middle" fill="#000">50</text>
<text x="1358.0" y="1467.2" font-size="90.8" text-anchor="middle" fill="#000">60</text>
<text x="1660.3" y="1467.2" font-size="90.8" text-anchor="middle" fill="#000">70</text>
<text x="1962.6" y="1467.2" font-size="90.8" text-anchor="middle" fill="#000">80</text>
<text x="949.5" y="1553.8" font-size="87" fill="#000">2<tspan font-style="italic" dx="3">θ</tspan><tspan font-weight="normal">/(°)</tspan></text>
<text transform="translate(84.1 978.0) rotate(-90)" font-size="87.5" fill="#000">Intensity/(a.u.)</text>
</g>
</svg></body></html>
